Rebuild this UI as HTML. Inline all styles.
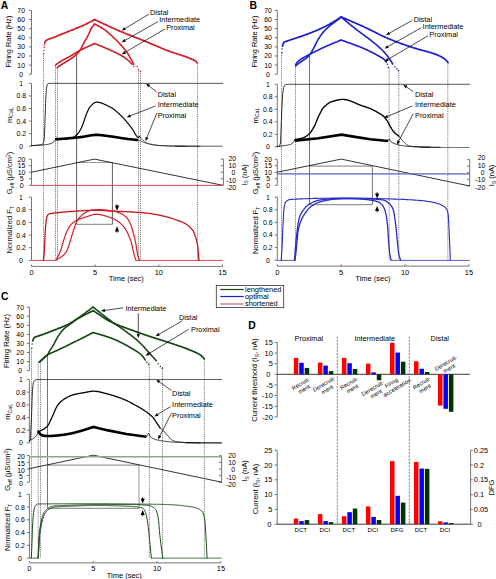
<!DOCTYPE html>
<html><head><meta charset="utf-8"><style>
html,body{margin:0;padding:0;background:#fff;width:496px;height:579px;overflow:hidden}
svg{display:block}
text{font-family:"Liberation Sans", sans-serif;stroke:#000;stroke-width:0px}
</style></head><body>
<svg width="496" height="579" viewBox="0 0 496 579">
<rect width="496" height="579" fill="#fff"/>
<text x="0.8" y="9.3" font-size="10.4" text-anchor="start" fill="#000" font-weight="bold" >A</text>
<line x1="31.5" y1="10.4" x2="31.5" y2="74.2" stroke="#666" stroke-width="0.9" />
<line x1="28.9" y1="10.4" x2="31.5" y2="10.4" stroke="#666" stroke-width="0.9" />
<text x="21.2" y="12.88" font-size="6.9" text-anchor="middle" fill="#000" font-weight="normal" >70</text>
<line x1="28.9" y1="19.51" x2="31.5" y2="19.51" stroke="#666" stroke-width="0.9" />
<text x="21.2" y="22" font-size="6.9" text-anchor="middle" fill="#000" font-weight="normal" >60</text>
<line x1="28.9" y1="28.63" x2="31.5" y2="28.63" stroke="#666" stroke-width="0.9" />
<text x="21.2" y="31.11" font-size="6.9" text-anchor="middle" fill="#000" font-weight="normal" >50</text>
<line x1="28.9" y1="37.74" x2="31.5" y2="37.74" stroke="#666" stroke-width="0.9" />
<text x="21.2" y="40.23" font-size="6.9" text-anchor="middle" fill="#000" font-weight="normal" >40</text>
<line x1="28.9" y1="46.86" x2="31.5" y2="46.86" stroke="#666" stroke-width="0.9" />
<text x="21.2" y="49.34" font-size="6.9" text-anchor="middle" fill="#000" font-weight="normal" >30</text>
<line x1="28.9" y1="55.97" x2="31.5" y2="55.97" stroke="#666" stroke-width="0.9" />
<text x="21.2" y="58.46" font-size="6.9" text-anchor="middle" fill="#000" font-weight="normal" >20</text>
<line x1="28.9" y1="65.09" x2="31.5" y2="65.09" stroke="#666" stroke-width="0.9" />
<text x="21.2" y="67.57" font-size="6.9" text-anchor="middle" fill="#000" font-weight="normal" >10</text>
<line x1="28.9" y1="74.2" x2="31.5" y2="74.2" stroke="#666" stroke-width="0.9" />
<text x="21.2" y="76.68" font-size="6.9" text-anchor="middle" fill="#000" font-weight="normal" >0</text>
<line x1="31.5" y1="83.4" x2="31.5" y2="146.2" stroke="#666" stroke-width="0.9" />
<line x1="28.9" y1="83.4" x2="31.5" y2="83.4" stroke="#666" stroke-width="0.9" />
<text x="21.2" y="85.88" font-size="6.9" text-anchor="middle" fill="#000" font-weight="normal" >1</text>
<line x1="28.9" y1="95.96" x2="31.5" y2="95.96" stroke="#666" stroke-width="0.9" />
<text x="21.2" y="98.44" font-size="6.9" text-anchor="middle" fill="#000" font-weight="normal" >0.8</text>
<line x1="28.9" y1="108.52" x2="31.5" y2="108.52" stroke="#666" stroke-width="0.9" />
<text x="21.2" y="111" font-size="6.9" text-anchor="middle" fill="#000" font-weight="normal" >0.6</text>
<line x1="28.9" y1="121.08" x2="31.5" y2="121.08" stroke="#666" stroke-width="0.9" />
<text x="21.2" y="123.56" font-size="6.9" text-anchor="middle" fill="#000" font-weight="normal" >0.4</text>
<line x1="28.9" y1="133.64" x2="31.5" y2="133.64" stroke="#666" stroke-width="0.9" />
<text x="21.2" y="136.12" font-size="6.9" text-anchor="middle" fill="#000" font-weight="normal" >0.2</text>
<line x1="28.9" y1="146.2" x2="31.5" y2="146.2" stroke="#666" stroke-width="0.9" />
<text x="21.2" y="148.68" font-size="6.9" text-anchor="middle" fill="#000" font-weight="normal" >0</text>
<line x1="31.5" y1="159.2" x2="31.5" y2="185.3" stroke="#666" stroke-width="0.9" />
<line x1="28.9" y1="159.2" x2="31.5" y2="159.2" stroke="#666" stroke-width="0.9" />
<text x="21.6" y="161.68" font-size="6.9" text-anchor="middle" fill="#000" font-weight="normal" >20</text>
<line x1="28.9" y1="165.72" x2="31.5" y2="165.72" stroke="#666" stroke-width="0.9" />
<text x="21.6" y="168.21" font-size="6.9" text-anchor="middle" fill="#000" font-weight="normal" >15</text>
<line x1="28.9" y1="172.25" x2="31.5" y2="172.25" stroke="#666" stroke-width="0.9" />
<text x="21.6" y="174.73" font-size="6.9" text-anchor="middle" fill="#000" font-weight="normal" >10</text>
<line x1="28.9" y1="178.78" x2="31.5" y2="178.78" stroke="#666" stroke-width="0.9" />
<text x="21.6" y="181.26" font-size="6.9" text-anchor="middle" fill="#000" font-weight="normal" >5</text>
<line x1="28.9" y1="185.3" x2="31.5" y2="185.3" stroke="#666" stroke-width="0.9" />
<text x="21.6" y="187.78" font-size="6.9" text-anchor="middle" fill="#000" font-weight="normal" >0</text>
<line x1="31.5" y1="197.2" x2="31.5" y2="260.4" stroke="#666" stroke-width="0.9" />
<line x1="28.9" y1="197.2" x2="31.5" y2="197.2" stroke="#666" stroke-width="0.9" />
<text x="21" y="199.68" font-size="6.9" text-anchor="middle" fill="#000" font-weight="normal" >1</text>
<line x1="28.9" y1="209.84" x2="31.5" y2="209.84" stroke="#666" stroke-width="0.9" />
<text x="21" y="212.32" font-size="6.9" text-anchor="middle" fill="#000" font-weight="normal" >0.8</text>
<line x1="28.9" y1="222.48" x2="31.5" y2="222.48" stroke="#666" stroke-width="0.9" />
<text x="21" y="224.96" font-size="6.9" text-anchor="middle" fill="#000" font-weight="normal" >0.6</text>
<line x1="28.9" y1="235.12" x2="31.5" y2="235.12" stroke="#666" stroke-width="0.9" />
<text x="21" y="237.6" font-size="6.9" text-anchor="middle" fill="#000" font-weight="normal" >0.4</text>
<line x1="28.9" y1="247.76" x2="31.5" y2="247.76" stroke="#666" stroke-width="0.9" />
<text x="21" y="250.24" font-size="6.9" text-anchor="middle" fill="#000" font-weight="normal" >0.2</text>
<line x1="28.9" y1="260.4" x2="31.5" y2="260.4" stroke="#666" stroke-width="0.9" />
<text x="21" y="262.88" font-size="6.9" text-anchor="middle" fill="#000" font-weight="normal" >0</text>
<line x1="223.4" y1="159.1" x2="223.4" y2="185.3" stroke="#666" stroke-width="0.9" />
<line x1="220.8" y1="159.1" x2="223.4" y2="159.1" stroke="#666" stroke-width="0.9" />
<text x="236.1" y="161.08" font-size="6.9" text-anchor="end" fill="#000" font-weight="normal" >20</text>
<line x1="220.8" y1="165.65" x2="223.4" y2="165.65" stroke="#666" stroke-width="0.9" />
<text x="236.1" y="168.26" font-size="6.9" text-anchor="end" fill="#000" font-weight="normal" >10</text>
<line x1="220.8" y1="172.2" x2="223.4" y2="172.2" stroke="#666" stroke-width="0.9" />
<text x="235.3" y="175.43" font-size="6.9" text-anchor="end" fill="#000" font-weight="normal" >0</text>
<line x1="220.8" y1="178.75" x2="223.4" y2="178.75" stroke="#666" stroke-width="0.9" />
<text x="236.1" y="182.61" font-size="6.9" text-anchor="end" fill="#000" font-weight="normal" >-10</text>
<line x1="220.8" y1="185.3" x2="223.4" y2="185.3" stroke="#666" stroke-width="0.9" />
<text x="236.1" y="189.78" font-size="6.9" text-anchor="end" fill="#000" font-weight="normal" >-20</text>
<line x1="31.5" y1="266.4" x2="222.5" y2="266.4" stroke="#666" stroke-width="0.9" />
<line x1="31.5" y1="264.6" x2="31.5" y2="266.4" stroke="#666" stroke-width="0.9" />
<text x="31.5" y="274.7" font-size="7.5" text-anchor="middle" fill="#000" font-weight="normal" >0</text>
<line x1="95.17" y1="264.6" x2="95.17" y2="266.4" stroke="#666" stroke-width="0.9" />
<text x="95.17" y="274.7" font-size="7.5" text-anchor="middle" fill="#000" font-weight="normal" >5</text>
<line x1="158.83" y1="264.6" x2="158.83" y2="266.4" stroke="#666" stroke-width="0.9" />
<text x="158.83" y="274.7" font-size="7.5" text-anchor="middle" fill="#000" font-weight="normal" >10</text>
<line x1="222.5" y1="264.6" x2="222.5" y2="266.4" stroke="#666" stroke-width="0.9" />
<text x="222.5" y="274.7" font-size="7.5" text-anchor="middle" fill="#000" font-weight="normal" >15</text>
<text x="126.3" y="281" font-size="7.5" text-anchor="middle" fill="#000" font-weight="normal" >Time (sec)</text>
<text x="11.3" y="41.5" font-size="7.35" text-anchor="middle" fill="#000" font-weight="normal" transform="rotate(-90 11.3 41.5)" >Firing Rate (Hz)</text>
<text x="11.8" y="115" font-size="7.45" text-anchor="middle" fill="#111" transform="rotate(-90 11.8 115)">m<tspan font-size="5.2" dy="1.7">CaL</tspan></text>
<text x="12" y="173" font-size="7.45" text-anchor="middle" fill="#111" transform="rotate(-90 12 173)">G<tspan font-size="5.2" dy="1.7">eff</tspan><tspan dy="-1.7"> (μS/cm</tspan><tspan font-size="5" dy="-2.5">2</tspan><tspan dy="2.5">)</tspan></text>
<text x="12" y="229.8" font-size="7.45" text-anchor="middle" fill="#111" transform="rotate(-90 12 229.8)">Normalized F<tspan font-size="5.2" dy="1.7">T</tspan></text>
<text x="246.8" y="175" font-size="7.45" text-anchor="middle" fill="#111" transform="rotate(-90 246.8 175)">I<tspan font-size="5.2" dy="1.7">S</tspan><tspan dy="-1.7"> (nA)</tspan></text>
<line x1="43.5" y1="53.4" x2="43.5" y2="260.4" stroke="#555" stroke-width="0.7" stroke-dasharray="1.3,0.9"/>
<line x1="55.5" y1="65.5" x2="55.5" y2="260.4" stroke="#555" stroke-width="0.7" stroke-dasharray="1.3,0.9"/>
<line x1="57.5" y1="68" x2="57.5" y2="260.4" stroke="#555" stroke-width="0.7" stroke-dasharray="1.3,0.9"/>
<line x1="138.5" y1="69" x2="138.5" y2="260.4" stroke="#555" stroke-width="0.7" stroke-dasharray="1.3,0.9"/>
<line x1="140.5" y1="71" x2="140.5" y2="260.4" stroke="#555" stroke-width="0.7" stroke-dasharray="1.3,0.9"/>
<line x1="197.5" y1="63" x2="197.5" y2="260.4" stroke="#555" stroke-width="0.7" stroke-dasharray="1.3,0.9"/>
<line x1="76.6" y1="54.5" x2="76.6" y2="224.4" stroke="#333" stroke-width="0.8" />
<line x1="112.4" y1="162.5" x2="112.4" y2="224.4" stroke="#333" stroke-width="0.8" />
<line x1="76.7" y1="162.5" x2="112.3" y2="162.5" stroke="#999" stroke-width="1.2" />
<line x1="76.7" y1="224.4" x2="112.3" y2="224.4" stroke="#999" stroke-width="1.2" />
<circle cx="43.6" cy="53.7" r="0.75" fill="#d41c24"/>
<circle cx="43.9" cy="50.5" r="0.75" fill="#d41c24"/>
<circle cx="44.1" cy="47.6" r="0.75" fill="#d41c24"/>
<circle cx="44.3" cy="44.9" r="0.75" fill="#d41c24"/>
<path d="M44.6 43 L45 42.1 L45.5 41.3 L46 40.8 L46.4 40.4 L46.8 40.1 L47.3 39.8 L47.8 39.6 L48.3 39.3 L48.7 39.1 L49.2 39 L49.7 38.8 L50.2 38.6 L50.7 38.5 L51.1 38.3 L51.6 38.2 L52.1 38 L52.6 37.8 L53.1 37.6 L53.6 37.4 L54 37.2 L54.5 37 L55 36.9 L55.5 36.7 L56 36.5 L56.5 36.3 L56.9 36.1 L57.4 35.9 L57.9 35.7 L58.4 35.5 L58.9 35.3 L59.4 35.1 L59.8 34.9 L60.3 34.7 L60.8 34.5 L61.3 34.3 L61.8 34.1 L62.3 33.9 L62.7 33.7 L63.2 33.5 L63.7 33.3 L64.2 33.1 L64.7 32.9 L65.2 32.7 L65.7 32.5 L66.1 32.3 L66.6 32.1 L67.1 32 L67.6 31.8 L68.1 31.6 L68.6 31.4 L69 31.2 L69.5 31 L70 30.8 L70.5 30.6 L71 30.4 L71.5 30.2 L71.9 30.1 L72.4 29.9 L72.9 29.7 L73.4 29.5 L73.9 29.3 L74.4 29.1 L74.8 28.9 L75.3 28.7 L75.8 28.5 L76.3 28.3 L76.8 28.1 L77.3 27.9 L77.8 27.7 L78.2 27.5 L78.7 27.3 L79.2 27.1 L79.7 26.9 L80.2 26.7 L80.7 26.5 L81.2 26.3 L81.6 26.1 L82.1 25.9 L82.6 25.6 L83.1 25.4 L83.6 25.2 L84.1 25 L84.5 24.8 L85 24.6 L85.5 24.3 L86 24.1 L86.5 23.9 L87 23.6 L87.5 23.4 L88 23.1 L88.5 22.8 L89 22.6 L89.5 22.3 L90 22 L90.5 21.8 L91 21.5 L91.5 21.2 L92 21 L92.5 20.7 L93 20.4 L93.5 20.1 L94 19.9 L94.5 19.6" fill="none" stroke="#d41c24" stroke-width="1.7" stroke-linejoin="round" stroke-linecap="round" />
<path d="M94.5 19.6 L95 19.8 L95.5 20.1 L96 20.3 L96.5 20.5 L97 20.7 L97.5 21 L98 21.2 L98.5 21.4 L98.9 21.6 L99.4 21.9 L99.9 22.1 L100.4 22.3 L100.9 22.6 L101.4 22.8 L101.9 23 L102.4 23.3 L102.9 23.5 L103.4 23.7 L103.9 23.9 L104.4 24.2 L104.9 24.4 L105.4 24.6 L105.9 24.9 L106.4 25.1 L106.9 25.3 L107.3 25.5 L107.8 25.8 L108.3 26 L108.8 26.2 L109.3 26.5 L109.8 26.7 L110.3 26.9 L110.8 27.1 L111.3 27.4 L111.8 27.6 L112.3 27.8 L112.8 28 L113.3 28.3 L113.8 28.5 L114.3 28.7 L114.8 28.9 L115.3 29.1 L115.8 29.4 L116.2 29.6 L116.7 29.8 L117.2 30 L117.7 30.2 L118.2 30.5 L118.7 30.7 L119.2 30.9 L119.7 31.1 L120.2 31.3 L120.7 31.5 L121.2 31.7 L121.7 31.9 L122.2 32.1 L122.7 32.3 L123.2 32.5 L123.7 32.8 L124.2 33 L124.7 33.2 L125.2 33.4 L125.7 33.6 L126.2 33.8 L126.6 34 L127.1 34.2 L127.6 34.4 L128.1 34.6 L128.6 34.7 L129.1 34.9 L129.6 35.1 L130.1 35.3 L130.6 35.5 L131.1 35.7 L131.6 35.9 L132.1 36.1 L132.6 36.3 L133.1 36.5 L133.6 36.7 L134.1 36.9 L134.6 37.1 L135.1 37.3 L135.6 37.5 L136.1 37.7 L136.6 37.9 L137.1 38.1 L137.6 38.2 L138.1 38.4 L138.6 38.6 L139 38.8 L139.5 39 L140 39.2 L140.5 39.4 L141 39.6 L141.5 39.8 L142 40 L142.5 40.2 L143 40.4 L143.5 40.6 L144 40.8 L144.5 41 L145 41.2 L145.5 41.4 L146 41.6 L146.5 41.8 L147 42 L147.5 42.2 L148 42.4 L148.5 42.6 L149 42.9 L149.5 43.1 L150 43.3 L150.5 43.5 L151 43.7 L151.5 43.9 L152 44.1 L152.5 44.3 L153 44.6 L153.5 44.8 L154 45 L154.5 45.2 L155 45.4 L155.5 45.6 L156 45.8 L156.5 46 L157 46.3 L157.5 46.5 L158 46.7 L158.5 46.9 L159 47.1 L159.5 47.3 L160 47.5 L160.5 47.7 L161 48 L161.5 48.2 L162 48.4 L162.5 48.6 L163 48.8 L163.5 49 L164 49.2 L164.5 49.4 L165 49.6 L165.5 49.8 L166 50 L166.5 50.2 L167 50.4 L167.5 50.6 L168 50.8 L168.5 50.9 L169 51.1 L169.5 51.3 L170 51.5 L170.5 51.7 L171 51.9 L171.5 52 L172 52.2 L172.5 52.4 L173 52.5 L173.5 52.7 L174 52.9 L174.5 53 L175 53.2 L175.5 53.4 L176 53.5 L176.5 53.7 L177 53.8 L177.5 54 L178 54.2 L178.5 54.3 L179 54.5 L179.5 54.6 L180 54.8 L180.5 55 L181 55.1 L181.5 55.3 L182 55.4 L182.5 55.6 L183 55.8 L183.5 56 L184 56.1 L184.5 56.3 L185 56.5 L185.5 56.7 L186 56.9 L186.5 57.1 L187 57.2 L187.5 57.4 L188 57.6 L188.5 57.8 L189 58 L189.5 58.2 L190 58.4 L190.5 58.7 L191 58.9 L191.5 59.1 L192 59.3 L192.5 59.5 L193 59.7 L193.5 59.9 L194 60.2 L194.5 60.4 L195 60.7 L195.5 61 L196 61.4 L196.4 61.9 L196.9 62.5 L197.4 63" fill="none" stroke="#d41c24" stroke-width="1.7" stroke-linejoin="round" stroke-linecap="round" />
<circle cx="55.6" cy="65.5" r="0.7" fill="#d41c24"/>
<path d="M56 64.6 L56.5 64.3 L56.9 63.9 L57.4 63.6 L57.8 63.3 L58.3 62.9 L58.7 62.6 L59.2 62.3 L59.6 62 L60.1 61.7 L60.6 61.4 L61.1 61.1 L61.5 60.8 L62 60.6 L62.5 60.3 L63 60 L63.5 59.8 L63.9 59.5 L64.4 59.2 L64.9 59 L65.4 58.7 L65.9 58.5 L66.4 58.3 L66.8 58 L67.3 57.8 L67.8 57.5 L68.3 57.3 L68.8 57 L69.2 56.7 L69.7 56.5 L70.2 56.2 L70.7 55.9 L71.2 55.6 L71.7 55.3 L72.2 55 L72.7 54.7 L73.2 54.4 L73.7 54.1 L74.2 53.8 L74.7 53.5 L75.2 53.2 L75.7 52.9 L76.2 52.6 L76.7 52.3 L77.2 52 L77.7 51.7 L78.2 51.4 L78.7 51.1 L79.2 50.9 L79.7 50.6 L80.2 50.3 L80.7 50.1 L81.2 49.8 L81.7 49.6 L82.2 49.3 L82.7 49.1 L83.2 48.8 L83.6 48.6 L84.1 48.4 L84.6 48.1 L85.1 47.9 L85.6 47.6 L86.1 47.4 L86.6 47.2 L87.1 47 L87.6 46.7 L88.1 46.5 L88.6 46.3 L89.1 46 L89.6 45.8 L90.1 45.6 L90.6 45.4 L91 45.1 L91.5 44.9 L92 44.7 L92.5 44.4 L93 44.2 L93.5 44 L94 43.7 L94.5 43.5" fill="none" stroke="#d41c24" stroke-width="1.6" stroke-linejoin="round" stroke-linecap="round" />
<path d="M94.5 43.5 L95 43.7 L95.5 43.9 L96 44.1 L96.5 44.3 L97 44.5 L97.5 44.7 L98 44.9 L98.5 45.1 L99 45.3 L99.5 45.5 L100 45.7 L100.5 45.9 L101 46.1 L101.5 46.3 L102 46.5 L102.5 46.8 L103 47 L103.5 47.2 L104 47.4 L104.5 47.6 L105 47.8 L105.5 48 L106 48.2 L106.5 48.4 L107 48.7 L107.5 48.9 L108 49.1 L108.5 49.3 L109 49.5 L109.5 49.8 L110 50 L110.5 50.2 L111 50.4 L111.5 50.7 L112 50.9 L112.5 51.1 L113 51.4 L113.5 51.6 L114 51.8 L114.5 52.1 L115 52.3 L115.5 52.6 L116 52.8 L116.5 53 L117 53.3 L117.5 53.5 L118 53.8 L118.5 54 L119 54.3 L119.5 54.5 L119.9 54.8 L120.4 55 L120.9 55.3 L121.4 55.6 L121.9 55.8 L122.3 56.1 L122.8 56.4 L123.3 56.7 L123.8 57 L124.3 57.3 L124.8 57.7 L125.3 58 L125.8 58.4 L126.2 58.8 L126.7 59.1 L127.2 59.5 L127.7 60 L128.2 60.4 L128.7 60.8 L129.2 61.2 L129.7 61.7 L130.2 62.2 L130.6 62.7 L131.1 63.2 L131.6 63.7 L132.1 64.2" fill="none" stroke="#d41c24" stroke-width="1.6" stroke-linejoin="round" stroke-linecap="round" />
<circle cx="133.8" cy="66.4" r="0.75" fill="#d41c24"/>
<circle cx="57.1" cy="68" r="0.7" fill="#d41c24"/>
<path d="M57.5 67.2 L58 66.9 L58.4 66.6 L58.9 66.3 L59.3 66 L59.8 65.7 L60.3 65.4 L60.7 65.1 L61.2 64.8 L61.6 64.5 L62.1 64.2 L62.6 63.9 L63.1 63.6 L63.5 63.3 L64 63 L64.5 62.7 L65 62.5 L65.4 62.2 L65.9 61.9 L66.4 61.6 L66.9 61.3 L67.3 61 L67.8 60.7 L68.3 60.4 L68.8 60.1 L69.2 59.8 L69.7 59.5 L70.2 59.2 L70.7 58.9 L71.2 58.5 L71.7 58.2 L72.2 57.8 L72.7 57.5 L73.2 57.1 L73.7 56.7 L74.2 56.4 L74.7 56 L75.2 55.5 L75.7 55.1 L76.2 54.7 L76.7 54.2 L77.2 53.7 L77.7 53.2 L78.2 52.6 L78.7 52 L79.2 51.3 L79.7 50.6 L80.2 49.9 L80.6 49.1 L81.1 48.3 L81.5 47.5 L82 46.6 L82.5 45.7 L82.9 44.7 L83.4 43.8 L83.8 43 L84.3 42.1 L84.8 41.2 L85.3 40.3 L85.8 39.5 L86.3 38.6 L86.8 37.8 L87.3 36.9 L87.8 36 L88.3 35 L88.8 34 L89.3 32.8 L89.8 31.6 L90.2 30.5 L90.7 29.4 L91.2 28.5 L91.7 27.8 L92.1 27.1 L92.6 26.5 L93.1 25.9 L93.6 25.3 L94 24.7 L94.5 24.1" fill="none" stroke="#d41c24" stroke-width="1.6" stroke-linejoin="round" stroke-linecap="round" />
<path d="M94.5 24.1 L95 24.3 L95.5 24.6 L96 24.8 L96.5 25.1 L97 25.3 L97.5 25.5 L98 25.8 L98.5 26 L99 26.3 L99.5 26.5 L100 26.8 L100.5 27.1 L101 27.4 L101.5 27.7 L102 28 L102.5 28.3 L103 28.6 L103.5 29 L104 29.3 L104.5 29.6 L105 30 L105.5 30.4 L106 30.8 L106.5 31.2 L107 31.6 L107.5 32 L108 32.4 L108.5 32.9 L109 33.3 L109.5 33.8 L110 34.2 L110.5 34.6 L111 35.1 L111.5 35.5 L112 36 L112.5 36.5 L113 36.9 L113.5 37.4 L113.9 37.9 L114.4 38.3 L114.9 38.8 L115.4 39.3 L115.9 39.8 L116.4 40.3 L116.9 40.8 L117.4 41.3 L117.9 41.8 L118.4 42.3 L118.9 42.8 L119.4 43.3 L119.9 43.9 L120.3 44.4 L120.8 44.9 L121.3 45.4 L121.8 46 L122.3 46.6 L122.8 47.1 L123.3 47.7 L123.8 48.3 L124.3 48.9 L124.7 49.5 L125.2 50.1 L125.7 50.7 L126.1 51.3 L126.6 52 L127.1 52.6 L127.5 53.3 L128 54 L128.5 54.8 L129 55.5 L129.5 56.4 L129.9 57.2 L130.4 58.1 L130.9 58.9 L131.4 59.8 L131.9 60.7 L132.4 61.6 L132.8 62.5 L133.3 63.4 L133.8 64.3" fill="none" stroke="#d41c24" stroke-width="1.6" stroke-linejoin="round" stroke-linecap="round" />
<circle cx="137.2" cy="66.6" r="0.75" fill="#d41c24"/>
<circle cx="138.5" cy="69.6" r="0.75" fill="#d41c24"/>
<circle cx="140.4" cy="71.2" r="0.75" fill="#d41c24"/>
<text x="150" y="14.6" font-size="7.35" text-anchor="start" fill="#000" font-weight="normal" >Distal</text>
<text x="159.3" y="22.1" font-size="7.35" text-anchor="start" fill="#000" font-weight="normal" >Intermediate</text>
<text x="166.2" y="29.9" font-size="7.35" text-anchor="start" fill="#000" font-weight="normal" >Proximal</text>
<line x1="148.8" y1="14.2" x2="125.12" y2="28.53" stroke="#000" stroke-width="0.7" />
<path d="M121.7 30.6 L124.29 27.16 L125.95 29.9 Z" fill="#000"/>
<line x1="158" y1="21.6" x2="125.18" y2="40.23" stroke="#000" stroke-width="0.7" />
<path d="M121.7 42.2 L124.39 38.83 L125.97 41.62 Z" fill="#000"/>
<line x1="165" y1="29" x2="125.15" y2="52.28" stroke="#000" stroke-width="0.7" />
<path d="M121.7 54.3 L124.35 50.9 L125.96 53.66 Z" fill="#000"/>
<path d="M31.5 145.6 L32 145.6 L32.5 145.5 L33 145.5 L33.5 145.5 L34 145.4 L34.5 145.4 L35 145.4 L35.5 145.3 L36 145.3 L36.5 145.2 L37 145.2 L37.5 145.2 L38 145.1 L38.5 145 L39 145 L39.5 144.9 L40 144.9 L40.5 144.8 L41 144.7 L41.5 144.5 L42 144.4 L42.5 144.2 L42.9 143.9 L43.2 143.3 L43.6 142.5 L44 140.2 L44.4 136 L44.8 126.9 L45.2 115 L45.6 103.3 L46 94 L46.4 89.3 L46.8 86.5 L47.3 84.7 L47.8 83.8 L48.2 83.6 L48.6 83.5 L49.1 83.4 L49.5 83.4 L50 83.4 L50.5 83.4 L51 83.4 L51.5 83.4 L52 83.4 L52.5 83.4 L53 83.4 L53.5 83.4 L54 83.4 L54.5 83.4 L55 83.4 L55.5 83.4 L56 83.4 L56.5 83.4 L57 83.4 L57.5 83.4 L58 83.4 L58.5 83.4 L59 83.4 L59.5 83.4 L60 83.4 L60.5 83.4 L61 83.4 L61.5 83.4 L62 83.4 L62.5 83.4 L63 83.4 L63.5 83.4 L64 83.4 L64.5 83.4 L65 83.4 L65.5 83.4 L66 83.4 L66.5 83.4 L67 83.4 L67.5 83.4 L68 83.4 L68.5 83.4 L69 83.4 L69.5 83.4 L70 83.4 L70.5 83.4 L71 83.4 L71.5 83.4 L72 83.4 L72.5 83.4 L73 83.4 L73.5 83.4 L74 83.4 L74.5 83.4 L75 83.4 L75.5 83.4 L76 83.4 L76.5 83.4 L77 83.4 L77.5 83.4 L78 83.4 L78.4 83.4 L78.9 83.4 L79.4 83.4 L79.9 83.4 L80.4 83.4 L80.9 83.4 L81.4 83.4 L81.9 83.4 L82.4 83.4 L82.9 83.4 L83.4 83.4 L83.9 83.4 L84.4 83.4 L84.9 83.4 L85.4 83.4 L85.9 83.4 L86.4 83.4 L86.9 83.4 L87.4 83.4 L87.9 83.4 L88.4 83.4 L88.9 83.4 L89.4 83.4 L89.9 83.4 L90.4 83.4 L90.9 83.4 L91.4 83.4 L91.9 83.4 L92.4 83.4 L92.9 83.4 L93.4 83.4 L93.9 83.4 L94.4 83.4 L94.9 83.4 L95.4 83.4 L95.9 83.4 L96.4 83.4 L96.9 83.4 L97.4 83.4 L97.9 83.4 L98.4 83.4 L98.9 83.4 L99.4 83.4 L99.9 83.4 L100.4 83.4 L100.9 83.4 L101.4 83.4 L101.9 83.4 L102.4 83.4 L102.9 83.4 L103.4 83.4 L103.9 83.4 L104.4 83.4 L104.9 83.4 L105.4 83.4 L105.9 83.4 L106.4 83.4 L106.9 83.4 L107.4 83.4 L107.9 83.4 L108.4 83.4 L108.9 83.4 L109.4 83.4 L109.9 83.4 L110.4 83.4 L110.9 83.4 L111.4 83.4 L111.9 83.4 L112.4 83.4 L112.9 83.4 L113.4 83.4 L113.9 83.4 L114.4 83.4 L114.9 83.4 L115.4 83.4 L115.9 83.4 L116.4 83.4 L116.9 83.4 L117.4 83.4 L117.9 83.4 L118.4 83.4 L118.9 83.4 L119.4 83.4 L119.9 83.4 L120.4 83.4 L120.9 83.4 L121.4 83.4 L121.9 83.4 L122.4 83.4 L122.9 83.4 L123.4 83.4 L123.9 83.4 L124.4 83.4 L124.9 83.4 L125.4 83.4 L125.9 83.4 L126.4 83.4 L126.9 83.4 L127.4 83.4 L127.9 83.4 L128.4 83.4 L128.9 83.4 L129.4 83.4 L129.9 83.4 L130.4 83.4 L130.9 83.4 L131.4 83.4 L131.9 83.4 L132.4 83.4 L132.9 83.4 L133.4 83.4 L133.9 83.4 L134.4 83.4 L134.9 83.4 L135.4 83.4 L135.9 83.4 L136.3 83.4 L136.8 83.4 L137.3 83.4 L137.8 83.4 L138.3 83.4 L138.8 83.4 L139.3 83.4 L139.8 83.4 L140.3 83.4 L140.8 83.4 L141.3 83.4 L141.8 83.4 L142.3 83.4 L142.8 83.4 L143.3 83.4 L143.8 83.4 L144.3 83.4 L144.8 83.4 L145.3 83.4 L145.8 83.4 L146.3 83.4 L146.8 83.4 L147.3 83.4 L147.8 83.4 L148.3 83.4 L148.8 83.4 L149.3 83.4 L149.8 83.4 L150.3 83.4 L150.8 83.4 L151.3 83.4 L151.8 83.4 L152.3 83.4 L152.8 83.4 L153.3 83.4 L153.8 83.4 L154.3 83.4 L154.8 83.4 L155.3 83.4 L155.8 83.4 L156.3 83.4 L156.8 83.4 L157.3 83.4 L157.8 83.4 L158.3 83.4 L158.8 83.4 L159.3 83.4 L159.8 83.4 L160.3 83.4 L160.8 83.4 L161.3 83.4 L161.8 83.4 L162.3 83.4 L162.8 83.4 L163.3 83.4 L163.8 83.4 L164.3 83.4 L164.8 83.4 L165.3 83.4 L165.8 83.4 L166.3 83.4 L166.8 83.4 L167.3 83.4 L167.8 83.4 L168.3 83.4 L168.8 83.4 L169.3 83.4 L169.8 83.4 L170.3 83.4 L170.8 83.4 L171.3 83.4 L171.8 83.4 L172.3 83.4 L172.8 83.4 L173.3 83.4 L173.8 83.4 L174.3 83.4 L174.8 83.4 L175.3 83.4 L175.8 83.4 L176.3 83.4 L176.8 83.4 L177.3 83.4 L177.8 83.4 L178.3 83.4 L178.8 83.4 L179.3 83.4 L179.8 83.4 L180.3 83.4 L180.8 83.4 L181.3 83.4 L181.8 83.4 L182.3 83.4 L182.8 83.4 L183.3 83.4 L183.8 83.4 L184.3 83.4 L184.8 83.4 L185.3 83.4 L185.8 83.4 L186.3 83.4 L186.8 83.4 L187.3 83.4 L187.8 83.4 L188.3 83.4 L188.8 83.4 L189.3 83.4 L189.8 83.4 L190.3 83.4 L190.8 83.4 L191.3 83.4 L191.8 83.4 L192.3 83.4 L192.8 83.4 L193.3 83.4 L193.8 83.4 L194.2 83.4 L194.7 83.4 L195.2 83.4 L195.7 83.4 L196.2 83.4 L196.7 83.4 L197.2 83.4 L197.7 83.4 L198.2 83.4 L198.7 83.4 L199.2 83.4 L199.7 83.4 L200.2 83.4 L200.7 83.4 L201.2 83.4 L201.7 83.4 L202.2 83.4 L202.7 83.4 L203.2 83.4 L203.7 83.4 L204.2 83.4 L204.7 83.4 L205.2 83.4 L205.7 83.4 L206.2 83.4 L206.7 83.4 L207.2 83.4 L207.7 83.4 L208.2 83.4 L208.7 83.4 L209.2 83.4 L209.7 83.4 L210.2 83.4 L210.7 83.4 L211.2 83.4 L211.7 83.4 L212.2 83.4 L212.7 83.4 L213.2 83.4 L213.7 83.4 L214.2 83.4 L214.7 83.4 L215.2 83.4 L215.7 83.4 L216.2 83.4 L216.7 83.4 L217.2 83.4 L217.7 83.4 L218.2 83.4 L218.7 83.4 L219.2 83.4 L219.7 83.4 L220.2 83.4 L220.7 83.4 L221.2 83.4 L221.7 83.4 L222.2 83.4 L222.7 83.4" fill="none" stroke="#000" stroke-width="0.8" stroke-linejoin="round" stroke-linecap="round" />
<line x1="175" y1="146.2" x2="222.7" y2="146.2" stroke="#333" stroke-width="0.8" />
<path d="M31.5 145.7 L32 145.7 L32.5 145.6 L33 145.6 L33.5 145.6 L34 145.6 L34.5 145.5 L35 145.5 L35.5 145.5 L36 145.5 L36.5 145.4 L37 145.4 L37.5 145.4 L38 145.3 L38.5 145.3 L39 145.3 L39.5 145.2 L40 145.2 L40.5 145.2 L41 145.1 L41.5 145.1 L42 145 L42.5 145 L43 144.9 L43.5 144.9 L44 144.8 L44.5 144.8 L45 144.7 L45.5 144.7 L46 144.6 L46.5 144.5 L47 144.5 L47.5 144.4 L48 144.3 L48.5 144.2 L49 144.1 L49.5 143.9 L50 143.8 L50.5 143.7 L51 143.5 L51.5 143.3 L52 143.1 L52.5 142.8 L53 142.5 L53.5 142.2 L54 141.8 L54.4 141.3 L54.8 140.7 L55.3 140 L55.8 138.6 L56.2 137.6 L56.7 138.3 L57.2 139.4" fill="none" stroke="#000" stroke-width="0.8" stroke-linejoin="round" stroke-linecap="round" />
<path d="M56.2 139.4 L56.7 139.4 L57.2 139.3 L57.7 139.3 L58.2 139.3 L58.6 139.3 L59.1 139.2 L59.6 139.2 L60.1 139.2 L60.6 139.2 L61.1 139.1 L61.6 139.1 L62.1 139.1 L62.6 139.1 L63 139 L63.5 139 L64 139 L64.5 138.9 L65 138.9 L65.5 138.9 L66 138.8 L66.4 138.8 L66.9 138.8 L67.4 138.7 L67.9 138.7 L68.4 138.6 L68.9 138.6 L69.3 138.5 L69.8 138.5 L70.3 138.4 L70.8 138.3 L71.2 138.2 L71.7 138 L72.2 137.9 L72.6 137.7 L73.1 137.5 L73.5 137.2 L74 137 L74.5 136.7 L75 136.3 L75.5 135.9 L76 135.5 L76.5 135 L77 134.5 L77.5 134 L78 133.4 L78.5 132.8 L78.9 132.1 L79.4 131.4 L79.9 130.6 L80.4 129.8 L80.8 129 L81.3 128 L81.7 127 L82.2 125.9 L82.6 124.8 L83.1 123.7 L83.5 122.5 L84 121.1 L84.5 119.6 L85 118 L85.5 116.5 L86 115.1 L86.5 113.8 L87 112.7 L87.5 111.5 L88 110.4 L88.5 109.4 L89 108.5 L89.5 107.6 L90 106.9 L90.5 106.3 L91 105.8 L91.5 105.3 L92 104.8 L92.5 104.3 L93 103.9 L93.5 103.5 L94 103.1 L94.5 102.8 L95 102.5 L95.5 102.4 L96 102.2 L96.5 102.2 L97 102.2 L97.5 102.2 L98 102.3 L98.4 102.3 L98.9 102.4 L99.4 102.5 L99.9 102.6 L100.4 102.8 L100.9 102.9 L101.4 103 L101.8 103.2 L102.3 103.4 L102.8 103.6 L103.3 103.8 L103.8 104 L104.3 104.2 L104.8 104.4 L105.3 104.6 L105.7 104.8 L106.2 105.1 L106.7 105.3 L107.2 105.6 L107.7 105.8 L108.2 106.1 L108.7 106.3 L109.1 106.6 L109.6 106.8 L110.1 107.1 L110.6 107.3 L111.1 107.6 L111.6 107.8 L112 108.1 L112.5 108.4 L113 108.7 L113.5 109.1 L114 109.4 L114.4 109.8 L114.9 110.2 L115.4 110.6 L115.9 111 L116.4 111.4 L116.9 111.8 L117.3 112.2 L117.8 112.6 L118.3 113.1 L118.8 113.5 L119.3 114 L119.7 114.4 L120.2 114.9 L120.7 115.3 L121.2 115.8 L121.7 116.2 L122.1 116.7 L122.6 117.2 L123.1 117.7 L123.6 118.2 L124 118.7 L124.5 119.3 L125 119.8 L125.5 120.4 L125.9 120.9 L126.4 121.5 L126.9 122.1 L127.4 122.6 L127.8 123.2 L128.3 123.8 L128.8 124.4 L129.3 125 L129.8 125.7 L130.3 126.3 L130.8 126.9 L131.3 127.6 L131.8 128.3 L132.3 129 L132.8 129.7 L133.3 130.5 L133.8 131.2 L134.2 132.1 L134.7 132.9 L135.1 133.8 L135.6 134.5 L136 135.2 L136.4 135.8 L136.9 136.5 L137.3 137 L137.8 137.4 L138.2 137.6 L138.7 137.4 L139.1 136.8 L139.6 136.3" fill="none" stroke="#000" stroke-width="1.2" stroke-linejoin="round" stroke-linecap="round" />
<path d="M139.6 136.3 L140.1 137 L140.6 137.7 L141 138.4 L141.5 139 L142 139.5 L142.5 140 L143 140.5 L143.5 140.9 L144 141.3 L144.5 141.7 L145 142 L145.5 142.3 L146 142.5 L146.5 142.8 L147 143 L147.5 143.2 L148 143.4 L148.5 143.6 L149 143.7 L149.5 143.9 L150 144 L150.5 144.1 L151 144.2 L151.5 144.3 L152 144.5 L152.5 144.6 L153 144.7 L153.5 144.8 L154 144.9 L154.5 145 L155 145 L155.5 145.1 L156 145.2 L156.5 145.3 L157 145.3 L157.5 145.4 L158 145.5 L158.5 145.5 L159 145.5 L159.5 145.6 L160 145.6 L160.5 145.6 L161 145.6 L161.5 145.7 L162 145.7 L162.5 145.7 L163 145.7 L163.5 145.7 L164 145.8 L164.5 145.8 L165 145.8 L165.5 145.8 L166 145.8 L166.5 145.9 L167 145.9 L167.5 145.9 L168 145.9 L168.5 145.9 L169 145.9 L169.5 145.9 L170 145.9 L170.5 146 L171 146 L171.5 146 L172 146 L172.5 146 L173 146 L173.5 146 L174 146 L174.5 146 L175 146 L175.5 146 L176 146.1 L176.5 146.1 L177 146.1 L177.5 146.1 L178 146.1 L178.5 146.1 L179 146.1 L179.5 146.1 L180 146.1 L180.5 146.1 L181 146.1 L181.5 146.1 L182 146.1 L182.5 146.1 L183 146.1 L183.5 146.1 L184 146.1 L184.5 146.1 L185 146.1 L185.5 146.1 L186 146.1 L186.5 146.1 L187 146.1 L187.5 146.1 L188 146.1 L188.5 146.2 L189 146.2 L189.5 146.2 L190 146.2 L190.5 146.2 L191 146.2 L191.5 146.2 L192 146.2 L192.5 146.2 L193 146.2 L193.5 146.2 L194 146.2 L194.5 146.2 L195 146.2 L195.5 146.2 L196 146.2 L196.5 146.2 L197 146.2 L197.5 146.2 L198 146.2 L198.5 146.2 L199 146.2 L199.5 146.2 L200 146.2" fill="none" stroke="#000" stroke-width="0.7" stroke-linejoin="round" stroke-linecap="round" />
<path d="M56.2 139.3 L56.7 139.3 L57.2 139.2 L57.7 139.2 L58.2 139.1 L58.6 139.1 L59.1 139.1 L59.6 139 L60.1 139 L60.6 139 L61.1 138.9 L61.6 138.9 L62.1 138.8 L62.6 138.8 L63 138.8 L63.5 138.7 L64 138.7 L64.5 138.6 L65 138.6 L65.5 138.6 L66 138.5 L66.5 138.5 L67 138.4 L67.5 138.4 L68 138.3 L68.5 138.3 L69 138.3 L69.5 138.2 L70 138.2 L70.5 138.1 L71 138.1 L71.5 138 L72 138 L72.5 137.9 L73 137.9 L73.5 137.9 L74 137.8 L74.5 137.8 L75 137.7 L75.5 137.7 L76 137.6 L76.5 137.6 L77 137.5 L77.5 137.5 L78 137.4 L78.5 137.4 L79 137.3 L79.5 137.3 L80 137.2 L80.5 137.1 L81 137.1 L81.5 137 L82 136.9 L82.5 136.9 L83 136.8 L83.5 136.7 L84 136.6 L84.5 136.5 L85 136.4 L85.5 136.3 L86 136.2 L86.5 136.1 L87 136.1 L87.5 136 L88 135.9 L88.5 135.8 L89 135.7 L89.5 135.6 L90 135.5 L90.5 135.4 L91 135.4 L91.5 135.3 L92 135.2 L92.5 135.2 L93 135.1 L93.5 135.1 L94 135 L94.5 135 L95 134.9 L95.5 134.9 L96 134.9 L96.5 134.9 L97 134.9 L97.5 134.9 L98 134.9 L98.5 135 L99 135 L99.5 135 L100 135.1 L100.5 135.1 L101 135.1 L101.5 135.2 L102 135.2 L102.5 135.3 L103 135.4 L103.5 135.4 L104 135.5 L104.5 135.6 L105 135.6 L105.5 135.7 L106 135.8 L106.5 135.8 L107 135.9 L107.5 136 L108 136 L108.5 136.1 L109 136.2 L109.5 136.2 L110 136.3 L110.5 136.4 L111 136.4 L111.5 136.5 L112 136.6 L112.5 136.6 L113 136.7 L113.5 136.8 L114 136.9 L114.5 136.9 L115 137 L115.5 137.1 L116 137.2 L116.5 137.3 L117 137.4 L117.5 137.4 L118 137.5 L118.5 137.6 L119 137.7 L119.5 137.8 L120 137.8 L120.5 137.9 L121 138 L121.5 138.1 L122 138.2 L122.5 138.2 L123 138.3 L123.5 138.4 L124 138.5 L124.5 138.5 L125 138.6 L125.5 138.7 L126 138.7 L126.5 138.8 L127 138.9 L127.5 138.9 L128 139 L128.5 139 L129 139.1 L129.5 139.2 L130 139.2 L130.5 139.3 L131 139.3 L131.5 139.4 L132 139.4 L132.5 139.5 L133 139.5 L133.5 139.6 L134 139.7 L134.5 139.7 L135 139.8 L135.5 139.8 L136 139.9 L136.5 139.9 L137 140" fill="none" stroke="#000" stroke-width="2.6" stroke-linejoin="round" stroke-linecap="round" />
<path d="M137 140 L137.5 140.1 L138 140.3 L138.5 140.4 L139 140.5 L139.5 140.6 L140 140.8 L140.5 141 L141 141.2 L141.5 141.4 L142 141.6 L142.5 141.8 L143 142 L143.5 142.2 L144 142.4 L144.5 142.6 L145 142.8 L145.5 143 L146 143.1 L146.5 143.3 L147 143.4 L147.5 143.6 L148 143.7 L148.5 143.9 L149 144 L149.5 144.1 L150 144.2 L150.5 144.3 L151 144.4 L151.5 144.5 L152 144.6 L152.5 144.7 L153 144.7 L153.5 144.8 L154 144.9 L154.5 144.9 L155 145 L155.5 145.1 L156 145.1 L156.5 145.2 L157 145.2 L157.5 145.3 L158 145.3 L158.5 145.4 L159 145.4 L159.5 145.5 L160 145.5 L160.5 145.5 L161 145.6 L161.5 145.6 L162 145.7 L162.5 145.7 L163 145.7 L163.5 145.7 L164 145.8 L164.5 145.8 L165 145.8 L165.5 145.8 L166 145.8 L166.5 145.8 L167 145.9 L167.5 145.9 L168 145.9 L168.5 145.9 L169 145.9 L169.5 145.9 L170 145.9 L170.5 146 L171 146 L171.5 146 L172 146 L172.5 146 L173 146 L173.5 146 L174 146 L174.5 146 L175 146 L175.5 146 L176 146.1 L176.5 146.1 L177 146.1 L177.5 146.1 L178 146.1 L178.5 146.1 L179 146.1 L179.5 146.1 L180 146.1 L180.5 146.1 L181 146.1 L181.5 146.1 L182 146.1 L182.5 146.2 L183 146.2 L183.5 146.2 L184 146.2 L184.5 146.2 L185 146.2" fill="none" stroke="#000" stroke-width="0.6" stroke-linejoin="round" stroke-linecap="round" />
<text x="157.7" y="97.1" font-size="7.35" text-anchor="start" fill="#000" font-weight="normal" >Distal</text>
<text x="157.7" y="107.1" font-size="7.35" text-anchor="start" fill="#000" font-weight="normal" >Intermediate</text>
<text x="157.7" y="118.2" font-size="7.35" text-anchor="start" fill="#000" font-weight="normal" >Proximal</text>
<line x1="156.4" y1="91.8" x2="149.14" y2="86.08" stroke="#000" stroke-width="0.7" />
<path d="M146 83.6 L150.13 84.82 L148.15 87.33 Z" fill="#000"/>
<line x1="155.5" y1="106" x2="130.43" y2="115.75" stroke="#000" stroke-width="0.7" />
<path d="M126.7 117.2 L129.85 114.26 L131.01 117.24 Z" fill="#000"/>
<line x1="157" y1="112.8" x2="147.01" y2="137.3" stroke="#000" stroke-width="0.7" />
<path d="M145.5 141 L145.53 136.69 L148.49 137.9 Z" fill="#000"/>
<path d="M31.5 172.2 L94.5 159.1 L222.7 185.3" fill="none" stroke="#000" stroke-width="0.8" stroke-linejoin="miter" />
<line x1="31.5" y1="185.4" x2="222.7" y2="185.4" stroke="#d04a50" stroke-width="1" />
<line x1="31.5" y1="260.4" x2="56.6" y2="260.4" stroke="#d04a50" stroke-width="1" />
<line x1="136" y1="260.4" x2="222.7" y2="260.4" stroke="#d04a50" stroke-width="1" />
<path d="M43.4 260.4 L43.7 258.4 L44 256 L44.3 251.2 L44.6 245 L45 237.1 L45.3 230 L45.8 224 L46.2 220 L46.6 218.1 L46.9 216.7 L47.3 215.8 L47.7 215.1 L48.1 214.6 L48.6 214.2 L49 214 L49.5 213.8 L50 213.7 L50.5 213.6 L51 213.5 L51.5 213.4 L52 213.3 L52.5 213.3 L53 213.2 L53.5 213.2 L54 213.1 L54.5 213.1 L55 213 L55.5 212.9 L56 212.9 L56.5 212.8 L57 212.8 L57.5 212.7 L58 212.6 L58.5 212.6 L59 212.5 L59.5 212.5 L60 212.4 L60.5 212.4 L61 212.3 L61.5 212.3 L62 212.2 L62.5 212.2 L63 212.1 L63.5 212.1 L64 212 L64.5 212 L65 212 L65.5 211.9 L66 211.9 L66.5 211.8 L67 211.8 L67.5 211.7 L68 211.7 L68.5 211.7 L69 211.6 L69.5 211.6 L70 211.5 L70.5 211.5 L71 211.5 L71.5 211.4 L72 211.4 L72.5 211.4 L73 211.3 L73.5 211.3 L74 211.3 L74.5 211.2 L75 211.2 L75.5 211.2 L76 211.1 L76.5 211.1 L77 211.1 L77.5 211 L78 211 L78.5 211 L79 210.9 L79.5 210.9 L80 210.9 L80.5 210.8 L81 210.8 L81.5 210.8 L82 210.7 L82.5 210.7 L83 210.7 L83.5 210.6 L84 210.6 L84.5 210.6 L85 210.5 L85.5 210.5 L86 210.5 L86.5 210.5 L87 210.4 L87.5 210.4 L88 210.4 L88.5 210.4 L89 210.3 L89.5 210.3 L90 210.3 L90.5 210.3 L91 210.3 L91.5 210.2 L92 210.2 L92.5 210.2 L93 210.2 L93.5 210.2 L94 210.2 L94.5 210.2 L95 210.2 L95.5 210.2 L96 210.2 L96.5 210.2 L97 210.2 L97.5 210.2 L98 210.3 L98.5 210.3 L99 210.3 L99.5 210.3 L100 210.4 L100.5 210.4 L101 210.4 L101.5 210.4 L102 210.5 L102.5 210.5 L103 210.5 L103.5 210.6 L104 210.6 L104.5 210.6 L105 210.7 L105.5 210.7 L106 210.8 L106.5 210.8 L107 210.8 L107.5 210.9 L108 210.9 L108.5 210.9 L109 210.9 L109.5 211 L110 211 L110.5 211 L111 211 L111.5 211.1 L112 211.1 L112.4 211.1 L112.9 211.1 L113.4 211.2 L113.9 211.2 L114.4 211.2 L114.9 211.2 L115.4 211.2 L115.9 211.3 L116.4 211.3 L116.8 211.3 L117.3 211.3 L117.8 211.3 L118.3 211.4 L118.8 211.4 L119.3 211.4 L119.8 211.4 L120.3 211.4 L120.8 211.5 L121.3 211.5 L121.7 211.5 L122.2 211.5 L122.7 211.5 L123.2 211.6 L123.7 211.6 L124.2 211.6 L124.7 211.6 L125.2 211.7 L125.7 211.7 L126.1 211.7 L126.6 211.7 L127.1 211.7 L127.6 211.8 L128.1 211.8 L128.6 211.8 L129.1 211.9 L129.6 211.9 L130.1 211.9 L130.6 211.9 L131.1 212 L131.5 212 L132 212 L132.5 212 L133 212.1 L133.5 212.1 L134 212.1 L134.5 212.2 L135 212.2 L135.5 212.2 L136 212.3 L136.5 212.3 L137 212.3 L137.4 212.4 L137.9 212.4 L138.4 212.4 L138.9 212.5 L139.4 212.5 L139.9 212.5 L140.4 212.6 L140.9 212.6 L141.4 212.7 L141.9 212.7 L142.4 212.7 L142.9 212.8 L143.3 212.8 L143.8 212.9 L144.3 212.9 L144.8 213 L145.3 213 L145.8 213.1 L146.3 213.1 L146.8 213.2 L147.3 213.2 L147.8 213.3 L148.3 213.3 L148.7 213.4 L149.2 213.4 L149.7 213.5 L150.2 213.6 L150.7 213.6 L151.2 213.7 L151.7 213.8 L152.2 213.9 L152.7 213.9 L153.1 214 L153.6 214.1 L154.1 214.2 L154.6 214.3 L155.1 214.4 L155.6 214.5 L156.1 214.5 L156.6 214.6 L157.1 214.7 L157.6 214.8 L158 214.9 L158.5 215 L159 215.1 L159.5 215.2 L160 215.3 L160.5 215.4 L161 215.5 L161.5 215.6 L162 215.8 L162.4 215.9 L162.9 216 L163.4 216.1 L163.9 216.2 L164.4 216.3 L164.9 216.4 L165.4 216.5 L165.9 216.7 L166.3 216.8 L166.8 216.9 L167.3 217 L167.8 217.2 L168.3 217.3 L168.8 217.4 L169.3 217.6 L169.8 217.7 L170.2 217.9 L170.7 218 L171.2 218.2 L171.7 218.3 L172.2 218.5 L172.7 218.7 L173.2 218.8 L173.6 219 L174.1 219.2 L174.6 219.3 L175.1 219.5 L175.6 219.7 L176.1 219.8 L176.6 220 L177.1 220.2 L177.5 220.4 L178 220.5 L178.5 220.7 L179 220.9 L179.5 221.1 L180 221.3 L180.5 221.4 L181 221.6 L181.5 221.8 L182 222 L182.4 222.2 L182.9 222.4 L183.4 222.6 L183.9 222.8 L184.4 223.1 L184.9 223.3 L185.4 223.6 L185.9 223.9 L186.3 224.2 L186.8 224.5 L187.3 224.9 L187.7 225.2 L188.2 225.6 L188.6 226 L189.1 226.4 L189.6 226.9 L190 227.3 L190.5 227.8 L191 228.3 L191.5 228.8 L192 229.4 L192.5 230 L193 230.7 L193.5 231.5 L193.9 232.4 L194.3 233.5 L194.8 234.7 L195.2 236 L195.7 237.5 L196.2 239.2 L196.7 241.2 L197.1 243.1 L197.6 245.5 L198 248.5 L198.4 254 L198.8 259 L199.2 260.4" fill="none" stroke="#c8161e" stroke-width="1.3" stroke-linejoin="round" stroke-linecap="round" />
<path d="M56.4 259.6 L56.9 259.3 L57.4 259 L57.9 258.8 L58.4 258.5 L58.9 258.2 L59.4 258 L59.8 257.7 L60.3 257.4 L60.8 257.1 L61.3 256.8 L61.8 256.5 L62.3 256.1 L62.8 255.7 L63.3 255.3 L63.8 254.8 L64.2 254.3 L64.7 253.8 L65.2 253.2 L65.7 252.6 L66.1 251.9 L66.6 251.1 L67.1 250.3 L67.6 249.3 L68 248.1 L68.5 246.8 L68.9 245.3 L69.4 243.7 L69.8 242.2 L70.3 240.7 L70.8 239.2 L71.2 237.6 L71.7 236.1 L72.2 234.5 L72.7 232.9 L73.1 231.4 L73.6 230 L74.1 228.6 L74.5 227.2 L75 225.9 L75.4 224.6 L75.9 223.4 L76.3 222.3 L76.8 221.4 L77.3 220.6 L77.8 219.8 L78.2 219.1 L78.7 218.5 L79.2 217.9 L79.7 217.3 L80.2 216.8 L80.7 216.3 L81.1 215.8 L81.6 215.4 L82.1 215 L82.6 214.6 L83.1 214.3 L83.5 213.9 L84 213.6 L84.5 213.3 L85 212.9 L85.4 212.6 L85.9 212.3 L86.4 212.1 L86.9 211.8 L87.4 211.6 L87.8 211.3 L88.3 211.1 L88.8 210.9 L89.3 210.8 L89.7 210.6 L90.2 210.5 L90.7 210.4 L91.2 210.3 L91.7 210.2 L92.2 210.1 L92.7 210.1 L93.2 210 L93.7 209.9 L94.2 209.9 L94.7 209.8 L95.2 209.8 L95.7 209.7 L96.2 209.7 L96.7 209.6 L97.2 209.6 L97.7 209.6 L98.2 209.6 L98.7 209.6 L99.2 209.6 L99.7 209.6 L100.2 209.6 L100.7 209.7 L101.2 209.7 L101.7 209.7 L102.2 209.7 L102.7 209.8 L103.2 209.8 L103.7 209.8 L104.2 209.9 L104.7 209.9 L105.2 210 L105.7 210 L106.2 210.1 L106.7 210.2 L107.2 210.2 L107.7 210.3 L108.2 210.3 L108.7 210.4 L109.2 210.5 L109.7 210.6 L110.2 210.6 L110.7 210.7 L111.2 210.8 L111.7 210.8 L112.2 210.9 L112.7 211 L113.2 211.1 L113.7 211.2 L114.1 211.3 L114.6 211.4 L115.1 211.5 L115.6 211.6 L116.1 211.8 L116.5 211.9 L117 212 L117.5 212.2 L118 212.4 L118.5 212.6 L119 212.7 L119.4 212.9 L119.9 213.1 L120.4 213.3 L120.9 213.6 L121.4 213.8 L121.8 214 L122.3 214.3 L122.8 214.5 L123.3 214.8 L123.7 215.1 L124.2 215.4 L124.7 215.8 L125.1 216.2 L125.6 216.6 L126 217 L126.5 217.5 L127 218 L127.4 218.6 L127.9 219.2 L128.4 219.9 L128.8 220.6 L129.3 221.4 L129.7 222.2 L130.2 223.1 L130.6 224.2 L131.1 225.3 L131.5 226.5 L132 228.1 L132.5 230 L133 232 L133.4 233.7 L133.9 235.3 L134.3 237 L134.8 238.8 L135.2 240.7 L135.7 242.8 L136.1 245.2 L136.5 248.1 L137 251 L137.4 253.7 L137.8 255.7 L138.2 257.1 L138.7 258.3 L139.1 259.3 L139.5 260.4" fill="none" stroke="#d41c24" stroke-width="1.2" stroke-linejoin="round" stroke-linecap="round" />
<path d="M56.4 259.6 L56.9 258.6 L57.4 257.6 L57.8 256.7 L58.3 255.7 L58.8 254.7 L59.3 253.7 L59.7 252.7 L60.2 251.5 L60.7 250.3 L61.2 249 L61.6 247.5 L62.1 245.9 L62.5 244.3 L63 242.6 L63.4 241 L63.9 239.6 L64.4 238.2 L64.8 236.9 L65.3 235.6 L65.7 234.3 L66.2 233.1 L66.6 232 L67.1 231 L67.6 230 L68.1 229.1 L68.5 228.2 L69 227.4 L69.5 226.6 L70 225.9 L70.4 225.2 L70.9 224.6 L71.4 224.1 L71.9 223.6 L72.4 223.2 L72.9 222.8 L73.4 222.4 L73.9 222 L74.3 221.7 L74.8 221.4 L75.3 221.1 L75.8 220.8 L76.3 220.5 L76.8 220.3 L77.3 220.1 L77.8 219.8 L78.3 219.6 L78.8 219.4 L79.3 219.2 L79.8 219 L80.3 218.8 L80.8 218.6 L81.3 218.5 L81.8 218.3 L82.3 218.1 L82.8 218 L83.3 217.8 L83.8 217.7 L84.3 217.5 L84.8 217.4 L85.3 217.2 L85.8 217 L86.3 216.9 L86.8 216.7 L87.2 216.5 L87.7 216.4 L88.2 216.2 L88.7 216 L89.2 215.8 L89.7 215.7 L90.2 215.5 L90.7 215.3 L91.1 215.2 L91.6 215 L92.1 214.9 L92.6 214.8 L93.1 214.6 L93.6 214.5 L94.1 214.5 L94.5 214.4 L95 214.3 L95.5 214.3 L96 214.3 L96.5 214.3 L97 214.3 L97.5 214.4 L98 214.4 L98.5 214.4 L99 214.5 L99.5 214.6 L100 214.6 L100.5 214.7 L101 214.8 L101.5 214.9 L102 215 L102.5 215.2 L103 215.3 L103.5 215.4 L104 215.5 L104.5 215.7 L105 215.8 L105.5 216 L106 216.1 L106.5 216.3 L107 216.5 L107.5 216.6 L108 216.8 L108.5 217 L109 217.1 L109.5 217.3 L110 217.5 L110.5 217.7 L111 217.8 L111.5 218 L112 218.2 L112.5 218.4 L113 218.6 L113.5 218.8 L114 219.1 L114.5 219.3 L115 219.6 L115.5 219.9 L116 220.2 L116.5 220.5 L117 220.8 L117.5 221.1 L118 221.4 L118.4 221.8 L118.9 222.1 L119.4 222.5 L119.9 222.9 L120.4 223.3 L120.8 223.7 L121.3 224.1 L121.8 224.6 L122.3 225.1 L122.7 225.6 L123.2 226.1 L123.6 226.6 L124.1 227.2 L124.5 227.9 L125 228.5 L125.4 229.1 L125.8 229.8 L126.3 230.5 L126.7 231.3 L127.1 232.1 L127.6 233.1 L128.1 234.1 L128.5 235.2 L129 236.3 L129.5 237.5 L130 238.7 L130.4 239.9 L130.9 241.3 L131.4 242.8 L131.8 244.5 L132.3 246.5 L132.8 248.6 L133.2 250.8 L133.7 252.8 L134.1 254.6 L134.6 256.2 L135.1 257.6 L135.5 259 L136 260.4" fill="none" stroke="#d41c24" stroke-width="1.2" stroke-linejoin="round" stroke-linecap="round" />
<path d="M114.9 205.6 L119.1 205.6 L117 210.8 Z" fill="#000"/>
<line x1="117" y1="204.2" x2="117" y2="206" stroke="#000" stroke-width="0.8" />
<path d="M114.9 231.4 L119.1 231.4 L117 226.2 Z" fill="#000"/>
<line x1="117" y1="231" x2="117" y2="232.8" stroke="#000" stroke-width="0.8" />
<text x="249.4" y="9.3" font-size="10.4" text-anchor="start" fill="#000" font-weight="bold" >B</text>
<line x1="277.3" y1="10.4" x2="277.3" y2="74.2" stroke="#666" stroke-width="0.9" />
<line x1="274.7" y1="10.4" x2="277.3" y2="10.4" stroke="#666" stroke-width="0.9" />
<text x="268" y="12.88" font-size="6.9" text-anchor="middle" fill="#000" font-weight="normal" >70</text>
<line x1="274.7" y1="19.51" x2="277.3" y2="19.51" stroke="#666" stroke-width="0.9" />
<text x="268" y="22" font-size="6.9" text-anchor="middle" fill="#000" font-weight="normal" >60</text>
<line x1="274.7" y1="28.63" x2="277.3" y2="28.63" stroke="#666" stroke-width="0.9" />
<text x="268" y="31.11" font-size="6.9" text-anchor="middle" fill="#000" font-weight="normal" >50</text>
<line x1="274.7" y1="37.74" x2="277.3" y2="37.74" stroke="#666" stroke-width="0.9" />
<text x="268" y="40.23" font-size="6.9" text-anchor="middle" fill="#000" font-weight="normal" >40</text>
<line x1="274.7" y1="46.86" x2="277.3" y2="46.86" stroke="#666" stroke-width="0.9" />
<text x="268" y="49.34" font-size="6.9" text-anchor="middle" fill="#000" font-weight="normal" >30</text>
<line x1="274.7" y1="55.97" x2="277.3" y2="55.97" stroke="#666" stroke-width="0.9" />
<text x="268" y="58.46" font-size="6.9" text-anchor="middle" fill="#000" font-weight="normal" >20</text>
<line x1="274.7" y1="65.09" x2="277.3" y2="65.09" stroke="#666" stroke-width="0.9" />
<text x="268" y="67.57" font-size="6.9" text-anchor="middle" fill="#000" font-weight="normal" >10</text>
<line x1="274.7" y1="74.2" x2="277.3" y2="74.2" stroke="#666" stroke-width="0.9" />
<text x="268" y="76.68" font-size="6.9" text-anchor="middle" fill="#000" font-weight="normal" >0</text>
<line x1="277.3" y1="84.3" x2="277.3" y2="146.8" stroke="#666" stroke-width="0.9" />
<line x1="274.7" y1="84.3" x2="277.3" y2="84.3" stroke="#666" stroke-width="0.9" />
<text x="267.8" y="86.78" font-size="6.9" text-anchor="middle" fill="#000" font-weight="normal" >1</text>
<line x1="274.7" y1="96.8" x2="277.3" y2="96.8" stroke="#666" stroke-width="0.9" />
<text x="267.8" y="99.28" font-size="6.9" text-anchor="middle" fill="#000" font-weight="normal" >0.8</text>
<line x1="274.7" y1="109.3" x2="277.3" y2="109.3" stroke="#666" stroke-width="0.9" />
<text x="267.8" y="111.78" font-size="6.9" text-anchor="middle" fill="#000" font-weight="normal" >0.6</text>
<line x1="274.7" y1="121.8" x2="277.3" y2="121.8" stroke="#666" stroke-width="0.9" />
<text x="267.8" y="124.28" font-size="6.9" text-anchor="middle" fill="#000" font-weight="normal" >0.4</text>
<line x1="274.7" y1="134.3" x2="277.3" y2="134.3" stroke="#666" stroke-width="0.9" />
<text x="267.8" y="136.78" font-size="6.9" text-anchor="middle" fill="#000" font-weight="normal" >0.2</text>
<line x1="274.7" y1="146.8" x2="277.3" y2="146.8" stroke="#666" stroke-width="0.9" />
<text x="267.8" y="149.28" font-size="6.9" text-anchor="middle" fill="#000" font-weight="normal" >0</text>
<line x1="277.3" y1="159.2" x2="277.3" y2="185.3" stroke="#666" stroke-width="0.9" />
<line x1="274.7" y1="159.2" x2="277.3" y2="159.2" stroke="#666" stroke-width="0.9" />
<text x="268.2" y="161.68" font-size="6.9" text-anchor="middle" fill="#000" font-weight="normal" >20</text>
<line x1="274.7" y1="165.72" x2="277.3" y2="165.72" stroke="#666" stroke-width="0.9" />
<text x="268.2" y="168.21" font-size="6.9" text-anchor="middle" fill="#000" font-weight="normal" >15</text>
<line x1="274.7" y1="172.25" x2="277.3" y2="172.25" stroke="#666" stroke-width="0.9" />
<text x="268.2" y="174.73" font-size="6.9" text-anchor="middle" fill="#000" font-weight="normal" >10</text>
<line x1="274.7" y1="178.78" x2="277.3" y2="178.78" stroke="#666" stroke-width="0.9" />
<text x="268.2" y="181.26" font-size="6.9" text-anchor="middle" fill="#000" font-weight="normal" >5</text>
<line x1="274.7" y1="185.3" x2="277.3" y2="185.3" stroke="#666" stroke-width="0.9" />
<text x="268.2" y="187.78" font-size="6.9" text-anchor="middle" fill="#000" font-weight="normal" >0</text>
<line x1="277.3" y1="197.2" x2="277.3" y2="260.2" stroke="#666" stroke-width="0.9" />
<line x1="274.7" y1="197.2" x2="277.3" y2="197.2" stroke="#666" stroke-width="0.9" />
<text x="267.8" y="199.68" font-size="6.9" text-anchor="middle" fill="#000" font-weight="normal" >1</text>
<line x1="274.7" y1="209.8" x2="277.3" y2="209.8" stroke="#666" stroke-width="0.9" />
<text x="267.8" y="212.28" font-size="6.9" text-anchor="middle" fill="#000" font-weight="normal" >0.8</text>
<line x1="274.7" y1="222.4" x2="277.3" y2="222.4" stroke="#666" stroke-width="0.9" />
<text x="267.8" y="224.88" font-size="6.9" text-anchor="middle" fill="#000" font-weight="normal" >0.6</text>
<line x1="274.7" y1="235" x2="277.3" y2="235" stroke="#666" stroke-width="0.9" />
<text x="267.8" y="237.48" font-size="6.9" text-anchor="middle" fill="#000" font-weight="normal" >0.4</text>
<line x1="274.7" y1="247.6" x2="277.3" y2="247.6" stroke="#666" stroke-width="0.9" />
<text x="267.8" y="250.08" font-size="6.9" text-anchor="middle" fill="#000" font-weight="normal" >0.2</text>
<line x1="274.7" y1="260.2" x2="277.3" y2="260.2" stroke="#666" stroke-width="0.9" />
<text x="267.8" y="262.68" font-size="6.9" text-anchor="middle" fill="#000" font-weight="normal" >0</text>
<line x1="469.7" y1="159.6" x2="469.7" y2="185.8" stroke="#666" stroke-width="0.9" />
<line x1="467.1" y1="159.6" x2="469.7" y2="159.6" stroke="#666" stroke-width="0.9" />
<text x="485.3" y="160.38" font-size="6.9" text-anchor="end" fill="#000" font-weight="normal" >20</text>
<line x1="467.1" y1="166.15" x2="469.7" y2="166.15" stroke="#666" stroke-width="0.9" />
<text x="485.3" y="167.73" font-size="6.9" text-anchor="end" fill="#000" font-weight="normal" >10</text>
<line x1="467.1" y1="172.7" x2="469.7" y2="172.7" stroke="#666" stroke-width="0.9" />
<text x="484.5" y="175.08" font-size="6.9" text-anchor="end" fill="#000" font-weight="normal" >0</text>
<line x1="467.1" y1="179.25" x2="469.7" y2="179.25" stroke="#666" stroke-width="0.9" />
<text x="485.3" y="182.43" font-size="6.9" text-anchor="end" fill="#000" font-weight="normal" >-10</text>
<line x1="467.1" y1="185.8" x2="469.7" y2="185.8" stroke="#666" stroke-width="0.9" />
<text x="485.3" y="189.78" font-size="6.9" text-anchor="end" fill="#000" font-weight="normal" >-20</text>
<line x1="277.3" y1="266.1" x2="469" y2="266.1" stroke="#666" stroke-width="0.9" />
<line x1="277.3" y1="264.3" x2="277.3" y2="266.1" stroke="#666" stroke-width="0.9" />
<text x="277.3" y="274.7" font-size="7.5" text-anchor="middle" fill="#000" font-weight="normal" >0</text>
<line x1="341.2" y1="264.3" x2="341.2" y2="266.1" stroke="#666" stroke-width="0.9" />
<text x="341.2" y="274.7" font-size="7.5" text-anchor="middle" fill="#000" font-weight="normal" >5</text>
<line x1="405.1" y1="264.3" x2="405.1" y2="266.1" stroke="#666" stroke-width="0.9" />
<text x="405.1" y="274.7" font-size="7.5" text-anchor="middle" fill="#000" font-weight="normal" >10</text>
<line x1="469" y1="264.3" x2="469" y2="266.1" stroke="#666" stroke-width="0.9" />
<text x="469" y="274.7" font-size="7.5" text-anchor="middle" fill="#000" font-weight="normal" >15</text>
<text x="372.9" y="281" font-size="7.5" text-anchor="middle" fill="#000" font-weight="normal" >Time (sec)</text>
<text x="257.3" y="41.5" font-size="7.35" text-anchor="middle" fill="#000" font-weight="normal" transform="rotate(-90 257.3 41.5)" >Firing Rate (Hz)</text>
<text x="257.8" y="115.5" font-size="7.45" text-anchor="middle" fill="#000" transform="rotate(-90 257.8 115.5)">m<tspan font-size="5.2" dy="1.7">CaL</tspan></text>
<text x="258" y="173" font-size="7.45" text-anchor="middle" fill="#000" transform="rotate(-90 258 173)">G<tspan font-size="5.2" dy="1.7">eff</tspan><tspan dy="-1.7"> (μS/cm</tspan><tspan font-size="5" dy="-2.5">2</tspan><tspan dy="2.5">)</tspan></text>
<text x="258" y="230.3" font-size="7.45" text-anchor="middle" fill="#000" transform="rotate(-90 258 230.3)">Normalized F<tspan font-size="5.2" dy="1.7">T</tspan></text>
<text x="493.9" y="175.5" font-size="7.45" text-anchor="middle" fill="#000" transform="rotate(-90 493.9 175.5)">I<tspan font-size="5.2" dy="1.7">S</tspan><tspan dy="-1.7"> (nA)</tspan></text>
<line x1="281.5" y1="52.6" x2="281.5" y2="260.2" stroke="#555" stroke-width="0.7" stroke-dasharray="1.3,0.9"/>
<line x1="295.5" y1="65" x2="295.5" y2="260.2" stroke="#555" stroke-width="0.7" stroke-dasharray="1.3,0.9"/>
<line x1="389.2" y1="68" x2="389.2" y2="260.2" stroke="#555" stroke-width="0.7" stroke-dasharray="1.3,0.9"/>
<line x1="398.8" y1="70.5" x2="398.8" y2="260.2" stroke="#555" stroke-width="0.7" stroke-dasharray="1.3,0.9"/>
<line x1="447.8" y1="62.5" x2="447.8" y2="260.2" stroke="#555" stroke-width="0.7" stroke-dasharray="1.3,0.9"/>
<line x1="309.5" y1="56" x2="309.5" y2="204.9" stroke="#444" stroke-width="0.75" />
<line x1="372.4" y1="166.2" x2="372.4" y2="204.7" stroke="#444" stroke-width="0.75" />
<line x1="309.5" y1="166.2" x2="372.4" y2="166.2" stroke="#999" stroke-width="1.2" />
<line x1="309.5" y1="204.7" x2="372.4" y2="204.7" stroke="#999" stroke-width="1.2" />
<circle cx="281.8" cy="52.6" r="0.75" fill="#1c1ccc"/>
<circle cx="282" cy="48.9" r="0.75" fill="#1c1ccc"/>
<path d="M282.5 46.2 L282.9 44.7 L283.2 43.5 L283.7 42.8 L284.1 42.3 L284.6 42 L285.1 41.7 L285.6 41.5 L286.1 41.4 L286.5 41.2 L287 41.1 L287.5 40.9 L288 40.7 L288.5 40.5 L289 40.4 L289.5 40.2 L290 40 L290.5 39.9 L291 39.7 L291.5 39.5 L292 39.3 L292.5 39.2 L293 39 L293.5 38.9 L294 38.7 L294.5 38.5 L295 38.4 L295.5 38.2 L296 38 L296.5 37.9 L297 37.7 L297.5 37.6 L298 37.4 L298.5 37.2 L299 37.1 L299.5 36.9 L300 36.7 L300.5 36.6 L301 36.4 L301.5 36.2 L302 36.1 L302.5 35.9 L303 35.7 L303.5 35.5 L304 35.4 L304.5 35.2 L305 35 L305.5 34.8 L306 34.6 L306.5 34.4 L307 34.3 L307.5 34.1 L308 33.9 L308.5 33.7 L309 33.5 L309.5 33.3 L310 33.1 L310.5 32.9 L311 32.7 L311.5 32.5 L312 32.3 L312.5 32.1 L313 31.9 L313.5 31.7 L314 31.5 L314.5 31.3 L315 31.1 L315.5 30.9 L316 30.7 L316.5 30.5 L317 30.3 L317.5 30 L318 29.8 L318.5 29.6 L319 29.4 L319.5 29.2 L320 28.9 L320.5 28.7 L321 28.5 L321.5 28.2 L322 28 L322.5 27.8 L323 27.5 L323.5 27.3 L324 27 L324.5 26.8 L325 26.5 L325.5 26.3 L326 26 L326.5 25.8 L327 25.5 L327.5 25.3 L328 25 L328.5 24.7 L329 24.5 L329.5 24.2 L330 23.9 L330.5 23.6 L331 23.4 L331.5 23.1 L332 22.8 L332.5 22.5 L333 22.2 L333.5 21.9 L333.9 21.6 L334.4 21.3 L334.9 21 L335.4 20.7 L335.9 20.4 L336.4 20.1 L336.8 19.8 L337.3 19.5 L337.8 19.1 L338.3 18.8 L338.8 18.5 L339.3 18.2 L339.7 17.8 L340.2 17.5 L340.7 17.2 L341.2 16.9" fill="none" stroke="#1c1ccc" stroke-width="1.7" stroke-linejoin="round" stroke-linecap="round" />
<path d="M341.2 16.9 L341.7 17.1 L342.2 17.3 L342.7 17.6 L343.2 17.8 L343.7 18 L344.2 18.2 L344.7 18.4 L345.2 18.6 L345.7 18.9 L346.2 19.1 L346.7 19.3 L347.2 19.5 L347.7 19.7 L348.2 19.9 L348.7 20.2 L349.2 20.4 L349.7 20.6 L350.2 20.8 L350.7 21 L351.2 21.2 L351.7 21.5 L352.2 21.7 L352.7 21.9 L353.2 22.1 L353.7 22.3 L354.2 22.5 L354.7 22.8 L355.2 23 L355.7 23.2 L356.2 23.4 L356.7 23.6 L357.2 23.9 L357.7 24.1 L358.2 24.3 L358.7 24.5 L359.2 24.7 L359.7 25 L360.2 25.2 L360.7 25.4 L361.2 25.6 L361.7 25.9 L362.2 26.1 L362.7 26.3 L363.2 26.5 L363.7 26.8 L364.2 27 L364.7 27.2 L365.2 27.5 L365.7 27.7 L366.2 27.9 L366.7 28.2 L367.2 28.4 L367.7 28.6 L368.2 28.9 L368.6 29.1 L369.1 29.4 L369.6 29.6 L370.1 29.8 L370.6 30.1 L371.1 30.3 L371.6 30.6 L372.1 30.8 L372.6 31.1 L373.1 31.3 L373.6 31.6 L374.1 31.8 L374.6 32.1 L375.1 32.3 L375.6 32.6 L376.1 32.8 L376.5 33.1 L377 33.3 L377.5 33.5 L378 33.8 L378.5 34 L379 34.3 L379.5 34.5 L380 34.8 L380.5 35 L381 35.2 L381.5 35.5 L382 35.7 L382.5 35.9 L383 36.2 L383.5 36.4 L384 36.6 L384.4 36.9 L384.9 37.1 L385.4 37.3 L385.9 37.5 L386.4 37.8 L386.9 38 L387.4 38.2 L387.9 38.4 L388.4 38.6 L388.9 38.8 L389.4 39 L389.9 39.2 L390.4 39.4 L390.9 39.6 L391.4 39.8 L391.9 40 L392.4 40.2 L392.8 40.4 L393.3 40.6 L393.8 40.8 L394.3 41 L394.8 41.2 L395.3 41.4 L395.8 41.6 L396.3 41.7 L396.8 41.9 L397.3 42.1 L397.8 42.3 L398.3 42.5 L398.8 42.7 L399.3 42.9 L399.8 43 L400.3 43.2 L400.7 43.4 L401.2 43.6 L401.7 43.8 L402.2 43.9 L402.7 44.1 L403.2 44.3 L403.7 44.5 L404.2 44.6 L404.7 44.8 L405.2 45 L405.7 45.2 L406.2 45.3 L406.7 45.5 L407.2 45.7 L407.7 45.8 L408.2 46 L408.6 46.2 L409.1 46.3 L409.6 46.5 L410.1 46.7 L410.6 46.8 L411.1 47 L411.6 47.2 L412.1 47.3 L412.6 47.5 L413.1 47.7 L413.6 47.8 L414.1 48 L414.6 48.1 L415.1 48.3 L415.6 48.4 L416.1 48.6 L416.6 48.7 L417.1 48.9 L417.6 49 L418.1 49.2 L418.6 49.3 L419 49.4 L419.5 49.6 L420 49.7 L420.5 49.8 L421 50 L421.5 50.1 L422 50.2 L422.5 50.4 L423 50.5 L423.5 50.6 L424 50.8 L424.5 50.9 L425 51 L425.5 51.2 L426 51.3 L426.5 51.4 L427 51.6 L427.5 51.7 L428 51.9 L428.5 52 L429 52.1 L429.5 52.3 L430 52.4 L430.5 52.6 L430.9 52.7 L431.4 52.9 L431.9 53 L432.4 53.2 L432.9 53.4 L433.4 53.5 L433.9 53.7 L434.4 53.9 L434.9 54.1 L435.4 54.2 L435.9 54.4 L436.4 54.6 L436.9 54.8 L437.4 55 L437.8 55.2 L438.3 55.4 L438.8 55.6 L439.2 55.8 L439.7 56 L440.2 56.2 L440.7 56.5 L441.1 56.7 L441.6 57 L442.1 57.2 L442.5 57.5 L443 57.8 L443.5 58.1 L444 58.5 L444.5 58.8 L445 59.2 L445.5 59.7 L446 60.1 L446.5 60.6 L447 61.2 L447.5 61.8 L448 62.5" fill="none" stroke="#1c1ccc" stroke-width="1.7" stroke-linejoin="round" stroke-linecap="round" />
<path d="M295.6 64.4 L296.1 63.8 L296.6 63.1 L297 62.5 L297.5 61.9 L298 61.4 L298.5 61 L299 60.6 L299.5 60.2 L300 59.9 L300.5 59.5 L301 59.2 L301.5 58.9 L302 58.6 L302.5 58.3 L303 58 L303.5 57.7 L304 57.4 L304.5 57.1 L305 56.9 L305.5 56.6 L306 56.3 L306.5 56 L307 55.8 L307.5 55.5 L308 55.2 L308.4 54.9 L308.9 54.7 L309.4 54.4 L309.9 54.2 L310.4 53.9 L310.9 53.6 L311.4 53.4 L311.9 53.1 L312.4 52.9 L312.9 52.6 L313.4 52.4 L313.9 52.1 L314.4 51.9 L314.9 51.6 L315.4 51.4 L315.9 51.1 L316.4 50.9 L316.9 50.7 L317.4 50.4 L317.9 50.2 L318.3 49.9 L318.8 49.7 L319.3 49.5 L319.8 49.2 L320.3 49 L320.8 48.8 L321.3 48.5 L321.8 48.3 L322.3 48.1 L322.8 47.8 L323.3 47.6 L323.8 47.4 L324.3 47.1 L324.8 46.9 L325.3 46.7 L325.8 46.5 L326.3 46.3 L326.8 46 L327.3 45.8 L327.8 45.6 L328.3 45.4 L328.8 45.2 L329.3 45 L329.8 44.7 L330.3 44.5 L330.8 44.3 L331.3 44.1 L331.8 43.9 L332.3 43.7 L332.8 43.5 L333.2 43.3 L333.7 43.1 L334.2 42.9 L334.7 42.7 L335.2 42.5 L335.7 42.3 L336.2 42.1 L336.7 41.9 L337.2 41.7 L337.7 41.4 L338.2 41.2 L338.7 41 L339.2 40.8 L339.7 40.6 L340.2 40.4 L340.7 40.2 L341.2 40" fill="none" stroke="#1c1ccc" stroke-width="1.6" stroke-linejoin="round" stroke-linecap="round" />
<path d="M341.2 40 L341.7 40.2 L342.2 40.4 L342.7 40.6 L343.2 40.7 L343.7 40.9 L344.2 41.1 L344.7 41.3 L345.2 41.5 L345.7 41.7 L346.2 41.8 L346.7 42 L347.2 42.2 L347.7 42.4 L348.2 42.6 L348.7 42.7 L349.2 42.9 L349.7 43.1 L350.2 43.3 L350.7 43.5 L351.2 43.6 L351.7 43.8 L352.2 44 L352.7 44.2 L353.2 44.4 L353.7 44.5 L354.2 44.7 L354.7 44.9 L355.2 45.1 L355.7 45.3 L356.2 45.5 L356.7 45.7 L357.2 45.9 L357.7 46 L358.2 46.2 L358.7 46.4 L359.2 46.6 L359.7 46.8 L360.2 47 L360.7 47.2 L361.2 47.4 L361.7 47.6 L362.2 47.8 L362.7 48.1 L363.2 48.3 L363.7 48.5 L364.2 48.7 L364.7 48.9 L365.2 49.1 L365.7 49.4 L366.2 49.6 L366.7 49.8 L367.2 50 L367.7 50.3 L368.2 50.5 L368.7 50.7 L369.2 51 L369.7 51.2 L370.2 51.5 L370.7 51.7 L371.2 52 L371.7 52.2 L372.2 52.5 L372.7 52.7 L373.2 53 L373.7 53.2 L374.2 53.5 L374.7 53.8 L375.2 54 L375.7 54.3 L376.2 54.6 L376.7 54.9 L377.2 55.1 L377.7 55.4 L378.2 55.7 L378.7 56 L379.2 56.3 L379.6 56.5 L380.1 56.8 L380.6 57 L381 57.3 L381.5 57.6 L382 57.9 L382.5 58.2 L382.9 58.5 L383.4 58.8 L383.9 59.2 L384.3 59.6 L384.8 60 L385.3 60.6 L385.8 61.3 L386.3 62" fill="none" stroke="#1c1ccc" stroke-width="1.6" stroke-linejoin="round" stroke-linecap="round" />
<circle cx="387.3" cy="64.3" r="0.75" fill="#1c1ccc"/>
<circle cx="388.4" cy="67.4" r="0.75" fill="#1c1ccc"/>
<path d="M295.6 66 L296.1 65.6 L296.6 65.2 L297.1 64.8 L297.5 64.4 L298 64 L298.5 63.6 L299 63.2 L299.5 62.8 L300 62.5 L300.5 62.1 L301 61.8 L301.5 61.4 L302 61.1 L302.5 60.7 L303 60.4 L303.5 60.1 L304 59.7 L304.5 59.4 L305 59.1 L305.5 58.7 L306 58.4 L306.5 58 L307 57.6 L307.5 57.2 L308 56.7 L308.5 56.2 L308.9 55.7 L309.4 55.1 L309.9 54.5 L310.4 53.9 L310.8 53.3 L311.3 52.5 L311.8 51.8 L312.2 50.9 L312.6 50.1 L313.1 49.2 L313.6 48.4 L314 47.5 L314.5 46.6 L314.9 45.7 L315.4 44.7 L315.8 43.8 L316.3 42.8 L316.7 41.9 L317.2 41.1 L317.7 40.3 L318.2 39.4 L318.7 38.6 L319.2 37.8 L319.7 37.1 L320.1 36.3 L320.6 35.6 L321.1 34.9 L321.6 34.2 L322.1 33.6 L322.6 33 L323.1 32.4 L323.6 31.9 L324.1 31.3 L324.5 30.8 L325 30.3 L325.5 29.8 L326 29.3 L326.5 28.8 L327 28.4 L327.5 27.9 L327.9 27.5 L328.4 27.1 L328.9 26.6 L329.4 26.2 L329.9 25.8 L330.3 25.4 L330.8 25 L331.3 24.7 L331.7 24.3 L332.2 23.9 L332.7 23.6 L333.2 23.2 L333.6 22.9 L334.1 22.6 L334.6 22.2 L335 21.9 L335.5 21.5 L336 21.1 L336.4 20.8 L336.9 20.4 L337.4 20.1 L337.9 19.7 L338.4 19.3 L338.8 19 L339.3 18.6 L339.8 18.3 L340.2 17.9 L340.7 17.6 L341.2 17.2" fill="none" stroke="#1c1ccc" stroke-width="1.6" stroke-linejoin="round" stroke-linecap="round" />
<path d="M341.2 17.2 L341.7 17.6 L342.2 18 L342.7 18.4 L343.2 18.8 L343.6 19.2 L344.1 19.6 L344.6 20 L345.1 20.4 L345.6 20.8 L346.1 21.2 L346.6 21.6 L347.1 22 L347.6 22.4 L348 22.8 L348.5 23.2 L349 23.6 L349.5 24 L350 24.4 L350.5 24.8 L351 25.2 L351.5 25.6 L351.9 26 L352.4 26.3 L352.9 26.7 L353.4 27.1 L353.9 27.5 L354.4 27.9 L354.9 28.3 L355.4 28.7 L355.9 29.1 L356.3 29.5 L356.8 29.9 L357.3 30.2 L357.8 30.6 L358.3 31 L358.8 31.4 L359.3 31.8 L359.8 32.1 L360.3 32.5 L360.8 32.9 L361.3 33.3 L361.8 33.6 L362.3 34 L362.8 34.4 L363.3 34.7 L363.8 35.1 L364.3 35.5 L364.8 35.8 L365.3 36.2 L365.8 36.5 L366.3 36.9 L366.8 37.3 L367.3 37.6 L367.8 38 L368.3 38.4 L368.8 38.8 L369.3 39.1 L369.8 39.5 L370.3 39.9 L370.8 40.3 L371.3 40.7 L371.8 41.1 L372.3 41.5 L372.8 41.9 L373.3 42.3 L373.8 42.7 L374.3 43.1 L374.7 43.5 L375.2 43.9 L375.7 44.3 L376.2 44.7 L376.7 45.1 L377.2 45.5 L377.7 45.9 L378.2 46.4 L378.7 46.8 L379.2 47.2 L379.7 47.7 L380.1 48.1 L380.6 48.6 L381.1 49 L381.6 49.5 L382.1 50 L382.6 50.5 L383.1 51 L383.6 51.5 L384.1 52 L384.5 52.6 L385 53.1 L385.5 53.7 L386 54.2 L386.5 54.8 L387 55.4 L387.5 56 L387.9 56.6 L388.4 57.3 L388.9 57.9 L389.4 58.6 L389.9 59.3 L390.3 60 L390.8 60.8 L391.3 61.6 L391.8 62.4 L392.2 63.2 L392.7 64" fill="none" stroke="#1c1ccc" stroke-width="1.6" stroke-linejoin="round" stroke-linecap="round" />
<circle cx="395" cy="66.8" r="0.75" fill="#1c1ccc"/>
<circle cx="396.8" cy="68.8" r="0.75" fill="#1c1ccc"/>
<circle cx="398.4" cy="70.5" r="0.75" fill="#1c1ccc"/>
<text x="413.7" y="21.6" font-size="7.35" text-anchor="start" fill="#000" font-weight="normal" >Distal</text>
<text x="422.6" y="29.1" font-size="7.35" text-anchor="start" fill="#000" font-weight="normal" >Intermediate</text>
<text x="429.3" y="36.9" font-size="7.35" text-anchor="start" fill="#000" font-weight="normal" >Proximal</text>
<line x1="412.4" y1="20.3" x2="389.49" y2="33.05" stroke="#000" stroke-width="0.7" />
<path d="M386 35 L388.72 31.66 L390.27 34.45 Z" fill="#000"/>
<line x1="421.2" y1="27.8" x2="388.08" y2="46.53" stroke="#000" stroke-width="0.7" />
<path d="M384.6 48.5 L387.29 45.14 L388.87 47.92 Z" fill="#000"/>
<line x1="428" y1="35.8" x2="388.05" y2="59.37" stroke="#000" stroke-width="0.7" />
<path d="M384.6 61.4 L387.23 57.99 L388.86 60.75 Z" fill="#000"/>
<path d="M277.3 146.6 L277.7 146.5 L278.2 146.4 L278.6 146.2 L279.1 146.1 L279.5 145.8 L280 144.9 L280.5 143 L280.9 133.7 L281.4 120.5 L281.8 109.9 L282.3 99.9 L282.7 93.5 L283.2 90 L283.6 87.4 L284.1 86.1 L284.6 85.5 L285.1 85 L285.6 84.7 L286.1 84.5 L286.6 84.4 L287.1 84.4 L287.5 84.3 L288 84.3 L288.5 84.3 L289 84.3 L289.5 84.3 L290 84.3 L290.5 84.3 L291 84.3 L291.5 84.3 L292 84.3 L292.5 84.3 L293 84.3 L293.5 84.3 L294 84.3 L294.5 84.3 L295 84.3 L295.5 84.3 L296 84.3 L296.5 84.3 L297 84.3 L297.5 84.3 L298 84.3 L298.5 84.3 L299 84.3 L299.5 84.3 L300 84.3 L300.5 84.3 L301 84.3 L301.5 84.3 L302 84.3 L302.5 84.3 L303 84.3 L303.5 84.3 L304 84.3 L304.5 84.3 L305 84.3 L305.5 84.3 L306 84.3 L306.5 84.3 L307 84.3 L307.5 84.3 L308 84.3 L308.5 84.3 L309 84.3 L309.5 84.3 L310 84.3 L310.5 84.3 L311 84.3 L311.5 84.3 L312 84.3 L312.5 84.3 L313 84.3 L313.5 84.3 L314 84.3 L314.5 84.3 L315 84.3 L315.5 84.3 L316 84.3 L316.5 84.3 L317 84.3 L317.5 84.3 L318 84.3 L318.4 84.3 L318.9 84.3 L319.4 84.3 L319.9 84.3 L320.4 84.3 L320.9 84.3 L321.4 84.3 L321.9 84.3 L322.4 84.3 L322.9 84.3 L323.4 84.3 L323.9 84.3 L324.4 84.3 L324.9 84.3 L325.4 84.3 L325.9 84.3 L326.4 84.3 L326.9 84.3 L327.4 84.3 L327.9 84.3 L328.4 84.3 L328.9 84.3 L329.4 84.3 L329.9 84.3 L330.4 84.3 L330.9 84.3 L331.4 84.3 L331.9 84.3 L332.4 84.3 L332.9 84.3 L333.4 84.3 L333.9 84.3 L334.4 84.3 L334.9 84.3 L335.4 84.3 L335.9 84.3 L336.4 84.3 L336.9 84.3 L337.4 84.3 L337.9 84.3 L338.4 84.3 L338.9 84.3 L339.4 84.3 L339.9 84.3 L340.4 84.3 L340.9 84.3 L341.4 84.3 L341.9 84.3 L342.4 84.3 L342.9 84.3 L343.4 84.3 L343.9 84.3 L344.4 84.3 L344.9 84.3 L345.4 84.3 L345.9 84.3 L346.4 84.3 L346.9 84.3 L347.4 84.3 L347.9 84.3 L348.4 84.3 L348.9 84.3 L349.4 84.3 L349.9 84.3 L350.4 84.3 L350.9 84.3 L351.4 84.3 L351.9 84.3 L352.4 84.3 L352.9 84.3 L353.4 84.3 L353.9 84.3 L354.4 84.3 L354.9 84.3 L355.4 84.3 L355.9 84.3 L356.4 84.3 L356.9 84.3 L357.4 84.3 L357.9 84.3 L358.4 84.3 L358.9 84.3 L359.4 84.3 L359.9 84.3 L360.4 84.3 L360.9 84.3 L361.4 84.3 L361.9 84.3 L362.4 84.3 L362.9 84.3 L363.4 84.3 L363.9 84.3 L364.4 84.3 L364.9 84.3 L365.4 84.3 L365.9 84.3 L366.4 84.3 L366.9 84.3 L367.4 84.3 L367.9 84.3 L368.4 84.3 L368.9 84.3 L369.4 84.3 L369.9 84.3 L370.4 84.3 L370.9 84.3 L371.4 84.3 L371.9 84.3 L372.4 84.3 L372.9 84.3 L373.4 84.3 L373.9 84.3 L374.4 84.3 L374.9 84.3 L375.4 84.3 L375.9 84.3 L376.4 84.3 L376.9 84.3 L377.4 84.3 L377.9 84.3 L378.4 84.3 L378.9 84.3 L379.3 84.3 L379.8 84.3 L380.3 84.3 L380.8 84.3 L381.3 84.3 L381.8 84.3 L382.3 84.3 L382.8 84.3 L383.3 84.3 L383.8 84.3 L384.3 84.3 L384.8 84.3 L385.3 84.3 L385.8 84.3 L386.3 84.3 L386.8 84.3 L387.3 84.3 L387.8 84.3 L388.3 84.3 L388.8 84.3 L389.3 84.3 L389.8 84.3 L390.3 84.3 L390.8 84.3 L391.3 84.3 L391.8 84.3 L392.3 84.3 L392.8 84.3 L393.3 84.3 L393.8 84.3 L394.3 84.3 L394.8 84.3 L395.3 84.3 L395.8 84.3 L396.3 84.3 L396.8 84.3 L397.3 84.3 L397.8 84.3 L398.3 84.3 L398.8 84.3 L399.3 84.3 L399.8 84.3 L400.3 84.3 L400.8 84.3 L401.3 84.3 L401.8 84.3 L402.3 84.3 L402.8 84.3 L403.3 84.3 L403.8 84.3 L404.3 84.3 L404.8 84.3 L405.3 84.3 L405.8 84.3 L406.3 84.3 L406.8 84.3 L407.3 84.3 L407.8 84.3 L408.3 84.3 L408.8 84.3 L409.3 84.3 L409.8 84.3 L410.3 84.3 L410.8 84.3 L411.3 84.3 L411.8 84.3 L412.3 84.3 L412.8 84.3 L413.3 84.3 L413.8 84.3 L414.3 84.3 L414.8 84.3 L415.3 84.3 L415.8 84.3 L416.3 84.3 L416.8 84.3 L417.3 84.3 L417.8 84.3 L418.3 84.3 L418.8 84.3 L419.3 84.3 L419.8 84.3 L420.3 84.3 L420.8 84.3 L421.3 84.3 L421.8 84.3 L422.3 84.3 L422.8 84.3 L423.3 84.3 L423.8 84.3 L424.3 84.3 L424.8 84.3 L425.3 84.3 L425.8 84.3 L426.3 84.3 L426.8 84.3 L427.3 84.3 L427.8 84.3 L428.3 84.3 L428.8 84.3 L429.3 84.3 L429.8 84.3 L430.3 84.3 L430.8 84.3 L431.3 84.3 L431.8 84.3 L432.3 84.3 L432.8 84.3 L433.3 84.3 L433.8 84.3 L434.3 84.3 L434.8 84.3 L435.3 84.3 L435.8 84.3 L436.3 84.3 L436.8 84.3 L437.3 84.3 L437.8 84.3 L438.3 84.3 L438.8 84.3 L439.3 84.3 L439.7 84.3 L440.2 84.3 L440.7 84.3 L441.2 84.3 L441.7 84.3 L442.2 84.3 L442.7 84.3 L443.2 84.3 L443.7 84.3 L444.2 84.3 L444.7 84.3 L445.2 84.3 L445.7 84.3 L446.2 84.3 L446.7 84.3 L447.2 84.3 L447.7 84.3 L448.2 84.3 L448.7 84.3 L449.2 84.3 L449.7 84.3 L450.2 84.3 L450.7 84.3 L451.2 84.3 L451.7 84.3 L452.2 84.3 L452.7 84.3 L453.2 84.3 L453.7 84.3 L454.2 84.3 L454.7 84.3 L455.2 84.3 L455.7 84.3 L456.2 84.3 L456.7 84.3 L457.2 84.3 L457.7 84.3 L458.2 84.3 L458.7 84.3 L459.2 84.3 L459.7 84.3 L460.2 84.3 L460.7 84.3 L461.2 84.3 L461.7 84.3 L462.2 84.3 L462.7 84.3 L463.2 84.3 L463.7 84.3 L464.2 84.3 L464.7 84.3 L465.2 84.3 L465.7 84.3 L466.2 84.3 L466.7 84.3 L467.2 84.3 L467.7 84.3 L468.2 84.3 L468.7 84.3 L469.2 84.3 L469.7 84.3" fill="none" stroke="#000" stroke-width="0.8" stroke-linejoin="round" stroke-linecap="round" />
<line x1="420" y1="147.5" x2="469.7" y2="147.5" stroke="#777" stroke-width="1" />
<path d="M277.3 146.6 L277.8 146.5 L278.2 146.5 L278.7 146.4 L279.2 146.3 L279.7 146.3 L280.1 146.2 L280.6 146.1 L281.1 146.1 L281.6 146 L282.1 145.9 L282.5 145.9 L283 145.8 L283.5 145.7 L284 145.7 L284.4 145.6 L284.9 145.5 L285.4 145.5 L285.9 145.4 L286.4 145.4 L286.9 145.3 L287.4 145.2 L287.8 145.1 L288.3 145 L288.8 144.9 L289.3 144.8 L289.7 144.6 L290.2 144.5 L290.6 144.3 L291.1 144 L291.5 143.8 L292 143.5 L292.4 143.2 L292.9 142.8 L293.3 142.3 L293.7 141.7 L294.2 141 L294.6 140.2 L295 139.5" fill="none" stroke="#000" stroke-width="0.8" stroke-linejoin="round" stroke-linecap="round" />
<path d="M295 139.6 L295.5 139.5 L296 139.4 L296.5 139.3 L296.9 139.2 L297.4 139.2 L297.9 139.1 L298.4 139 L298.9 138.9 L299.4 138.8 L299.9 138.7 L300.4 138.6 L300.8 138.5 L301.3 138.4 L301.8 138.2 L302.3 138.1 L302.8 137.9 L303.3 137.8 L303.8 137.6 L304.2 137.3 L304.7 137.1 L305.2 136.8 L305.7 136.5 L306.2 136.2 L306.7 135.9 L307.2 135.6 L307.6 135.2 L308.1 134.8 L308.6 134.4 L309.1 134 L309.6 133.5 L310.1 133 L310.6 132.4 L311.1 131.7 L311.6 131 L312 130.2 L312.5 129.4 L313 128.6 L313.5 127.7 L314 126.8 L314.5 125.9 L315 124.9 L315.5 123.8 L316 122.5 L316.5 121.3 L317 120 L317.5 118.8 L318 117.6 L318.5 116.5 L319 115.5 L319.5 114.5 L320 113.5 L320.5 112.5 L321 111.5 L321.5 110.6 L322 109.7 L322.5 108.9 L323 108.2 L323.5 107.6 L324 107 L324.5 106.5 L325 106 L325.5 105.6 L326 105.2 L326.5 104.7 L327 104.3 L327.5 104 L328 103.6 L328.5 103.3 L329 103 L329.5 102.7 L330 102.4 L330.5 102.2 L331 102 L331.5 101.8 L332 101.6 L332.5 101.4 L333 101.3 L333.5 101.1 L334 101 L334.5 100.8 L334.9 100.7 L335.4 100.6 L335.9 100.4 L336.4 100.3 L336.9 100.2 L337.4 100.1 L337.9 100 L338.4 99.9 L338.9 99.8 L339.4 99.7 L339.9 99.6 L340.3 99.6 L340.8 99.5 L341.3 99.5 L341.8 99.4 L342.3 99.4 L342.8 99.4 L343.3 99.4 L343.8 99.4 L344.3 99.5 L344.8 99.5 L345.3 99.6 L345.8 99.7 L346.3 99.8 L346.8 99.9 L347.3 100 L347.8 100.1 L348.3 100.3 L348.8 100.4 L349.3 100.6 L349.8 100.7 L350.3 100.9 L350.8 101.1 L351.3 101.3 L351.8 101.5 L352.3 101.7 L352.7 101.9 L353.2 102.1 L353.7 102.3 L354.2 102.5 L354.7 102.7 L355.2 102.9 L355.7 103.2 L356.2 103.4 L356.7 103.6 L357.2 103.8 L357.7 104 L358.2 104.3 L358.7 104.5 L359.2 104.7 L359.7 104.9 L360.2 105.1 L360.7 105.3 L361.2 105.4 L361.7 105.6 L362.2 105.8 L362.7 106 L363.2 106.1 L363.7 106.3 L364.1 106.4 L364.6 106.6 L365.1 106.8 L365.6 106.9 L366.1 107.1 L366.6 107.2 L367.1 107.4 L367.6 107.6 L368.1 107.7 L368.5 107.9 L369 108.1 L369.5 108.3 L370 108.5 L370.5 108.7 L371 108.9 L371.5 109.1 L372 109.4 L372.4 109.6 L372.9 109.9 L373.4 110.1 L373.9 110.4 L374.4 110.6 L374.9 110.9 L375.4 111.1 L375.9 111.4 L376.3 111.7 L376.8 112 L377.3 112.2 L377.8 112.5 L378.3 112.8 L378.8 113.1 L379.3 113.4 L379.8 113.6 L380.3 113.9 L380.8 114.2 L381.3 114.5 L381.8 114.9 L382.3 115.2 L382.8 115.6 L383.3 116 L383.8 116.4 L384.2 116.9 L384.7 117.4 L385.1 118 L385.6 118.6 L386.1 119.2 L386.5 119.8 L387 120.5 L387.5 121.3 L388 122.2 L388.5 123.2 L389 124.2 L389.5 125.1 L390 126 L390.5 126.8 L391 127.6 L391.5 128.5 L392 129.3 L392.4 130 L392.9 130.8 L393.4 131.4 L393.9 132.1 L394.4 132.6 L394.9 133.1 L395.4 133.5 L395.9 133.9 L396.4 134.3 L396.8 134.6 L397.3 134.9 L397.8 135.3 L398.3 135.6 L398.8 136" fill="none" stroke="#000" stroke-width="1.4" stroke-linejoin="round" stroke-linecap="round" />
<path d="M398.8 136 L399.3 136.6 L399.8 137.3 L400.3 137.9 L400.8 138.6 L401.3 139.2 L401.8 139.8 L402.3 140.4 L402.8 141 L403.3 141.5 L403.8 142 L404.3 142.5 L404.8 143 L405.3 143.5 L405.8 143.9 L406.3 144.4 L406.8 144.8 L407.3 145.1 L407.8 145.4 L408.3 145.7 L408.8 145.8 L409.3 145.9 L409.8 146 L410.3 146.1 L410.7 146.2 L411.2 146.2 L411.7 146.3 L412.2 146.4 L412.7 146.5 L413.2 146.5 L413.7 146.6 L414.2 146.6 L414.6 146.7 L415.1 146.7 L415.6 146.8 L416.1 146.8 L416.6 146.9 L417.1 146.9 L417.6 146.9 L418.1 146.9 L418.5 147 L419 147 L419.5 147 L420 147 L420.5 147 L421 147 L421.5 147 L422 147 L422.5 147 L423 147.1 L423.5 147.1 L424 147.1 L424.5 147.1 L425 147.1 L425.5 147.1 L426 147.1 L426.5 147.1 L427 147.1 L427.5 147.1 L428 147.1 L428.5 147.1 L429 147.1 L429.5 147.1 L430 147.1 L430.5 147.1 L431 147.1 L431.5 147.1 L432 147.1 L432.5 147.1 L433 147.1 L433.5 147.1 L434 147.2 L434.5 147.2 L435 147.2 L435.5 147.2 L436 147.2 L436.5 147.2 L437 147.2 L437.5 147.2 L438 147.2 L438.5 147.2 L439 147.2 L439.5 147.2 L440 147.2" fill="none" stroke="#000" stroke-width="0.8" stroke-linejoin="round" stroke-linecap="round" />
<path d="M295 140.6 L318.5 138.2 L341.5 134.6 L355 136.9 L370.3 139.2 L388 141" fill="none" stroke="#000" stroke-width="2.6" stroke-linejoin="miter" stroke-linejoin="round"/>
<path d="M388 141 L388.4 140.2 L388.8 139.4 L389.2 139 L389.6 139.4 L390.1 140.2 L390.6 141.2 L391 141.8 L391.5 142.2 L392 142.5 L392.5 142.8 L393 143 L393.5 143.2 L394 143.4 L394.5 143.6 L395 143.8 L395.5 144 L396 144.1 L396.5 144.3 L397 144.5 L397.5 144.6 L398 144.7 L398.5 144.9 L399 145 L399.5 145.1 L400 145.2 L400.5 145.3 L401 145.4 L401.5 145.5 L402 145.6 L402.5 145.6 L403 145.7 L403.5 145.8 L404 145.9 L404.5 146 L405 146 L405.5 146.1 L406 146.2 L406.5 146.2 L407 146.3 L407.5 146.3 L408 146.4 L408.5 146.4 L409 146.4 L409.5 146.5 L410 146.5 L410.5 146.5 L411 146.5 L411.5 146.6 L412 146.6 L412.5 146.6 L413 146.6 L413.5 146.6 L414 146.7 L414.5 146.7 L415 146.7 L415.5 146.7 L416 146.7 L416.5 146.7 L417 146.7 L417.5 146.7 L418 146.8 L418.5 146.8 L419 146.8 L419.5 146.8 L420 146.8 L420.5 146.8 L421 146.8 L421.5 146.8 L422 146.8 L422.5 146.8 L423 146.9 L423.5 146.9 L424 146.9 L424.5 146.9 L425 146.9 L425.5 146.9 L426 146.9 L426.5 146.9 L427 146.9 L427.5 146.9 L428 147 L428.5 147 L429 147 L429.5 147 L430 147" fill="none" stroke="#000" stroke-width="0.8" stroke-linejoin="round" stroke-linecap="round" />
<text x="415" y="97.1" font-size="7.35" text-anchor="start" fill="#000" font-weight="normal" >Distal</text>
<text x="415" y="107.1" font-size="7.35" text-anchor="start" fill="#000" font-weight="normal" >Intermediate</text>
<text x="415" y="118.2" font-size="7.35" text-anchor="start" fill="#000" font-weight="normal" >Proximal</text>
<line x1="413.2" y1="91.6" x2="406.6" y2="87.06" stroke="#000" stroke-width="0.7" />
<path d="M403.3 84.8 L407.5 85.75 L405.69 88.38 Z" fill="#000"/>
<line x1="412.1" y1="106" x2="387.68" y2="116.34" stroke="#000" stroke-width="0.7" />
<path d="M384 117.9 L387.06 114.87 L388.31 117.81 Z" fill="#000"/>
<line x1="413.2" y1="113.8" x2="398.78" y2="140.97" stroke="#000" stroke-width="0.7" />
<path d="M396.9 144.5 L397.36 140.22 L400.19 141.72 Z" fill="#000"/>
<path d="M277.3 172.2 L341.2 159.1 L469.7 186" fill="none" stroke="#000" stroke-width="0.8" stroke-linejoin="miter" />
<line x1="277.3" y1="173.9" x2="469.7" y2="173.9" stroke="#5c5cc8" stroke-width="1.1" />
<line x1="277.3" y1="260.4" x2="295.2" y2="260.4" stroke="#5c5cc8" stroke-width="1" />
<line x1="391" y1="260.4" x2="469.7" y2="260.4" stroke="#5c5cc8" stroke-width="1" />
<path d="M281.2 260.2 L281.6 254.5 L282 248 L282.4 239.4 L282.7 230.5 L283.2 220.9 L283.6 212.5 L284.1 207.6 L284.6 205.2 L285.1 203.4 L285.6 202.2 L286.1 201.5 L286.6 201.1 L287 200.8 L287.5 200.4 L287.9 200.2 L288.4 200 L288.8 199.8 L289.3 199.6 L289.7 199.6 L290.2 199.5 L290.7 199.5 L291.2 199.4 L291.7 199.4 L292.2 199.4 L292.7 199.3 L293.2 199.3 L293.7 199.3 L294.2 199.3 L294.7 199.2 L295.2 199.2 L295.7 199.2 L296.2 199.1 L296.7 199.1 L297.2 199.1 L297.7 199.1 L298.2 199 L298.7 199 L299.2 199 L299.7 199 L300.2 198.9 L300.7 198.9 L301.2 198.9 L301.7 198.9 L302.2 198.9 L302.7 198.8 L303.2 198.8 L303.7 198.8 L304.1 198.8 L304.6 198.7 L305.1 198.7 L305.6 198.7 L306.1 198.7 L306.6 198.7 L307.1 198.7 L307.6 198.6 L308.1 198.6 L308.6 198.6 L309.1 198.6 L309.6 198.6 L310.1 198.6 L310.6 198.5 L311.1 198.5 L311.6 198.5 L312.1 198.5 L312.6 198.5 L313.1 198.5 L313.6 198.4 L314.1 198.4 L314.6 198.4 L315.1 198.4 L315.6 198.4 L316.1 198.4 L316.6 198.4 L317.1 198.4 L317.6 198.4 L318.1 198.3 L318.6 198.3 L319.1 198.3 L319.6 198.3 L320.1 198.3 L320.6 198.3 L321.1 198.3 L321.6 198.3 L322.1 198.3 L322.6 198.3 L323.1 198.2 L323.6 198.2 L324.1 198.2 L324.6 198.2 L325.1 198.2 L325.6 198.2 L326.1 198.2 L326.6 198.2 L327.1 198.2 L327.6 198.2 L328.1 198.2 L328.6 198.2 L329.1 198.2 L329.6 198.2 L330.1 198.2 L330.6 198.2 L331.1 198.2 L331.5 198.1 L332 198.1 L332.5 198.1 L333 198.1 L333.5 198.1 L334 198.1 L334.5 198.1 L335 198.1 L335.5 198.1 L336 198.1 L336.5 198.1 L337 198.1 L337.5 198.1 L338 198.1 L338.5 198.1 L339 198.1 L339.5 198.1 L340 198.1 L340.5 198.1 L341 198.1 L341.5 198.1 L342 198.1 L342.5 198.1 L343 198.1 L343.5 198.1 L344 198.1 L344.5 198.1 L345 198.1 L345.5 198.1 L346 198.1 L346.5 198.1 L347 198.1 L347.5 198.1 L348 198.1 L348.5 198.1 L349 198.1 L349.5 198.1 L350 198.1 L350.5 198.1 L351 198.1 L351.5 198.1 L352 198.1 L352.5 198.1 L353 198.1 L353.5 198.1 L354 198.1 L354.5 198.1 L355 198.2 L355.5 198.2 L356 198.2 L356.5 198.2 L357 198.2 L357.5 198.2 L358 198.2 L358.5 198.2 L358.9 198.2 L359.4 198.2 L359.9 198.2 L360.4 198.2 L360.9 198.2 L361.4 198.2 L361.9 198.2 L362.4 198.2 L362.9 198.3 L363.4 198.3 L363.9 198.3 L364.4 198.3 L364.9 198.3 L365.4 198.3 L365.9 198.3 L366.4 198.3 L366.9 198.3 L367.4 198.3 L367.9 198.4 L368.4 198.4 L368.9 198.4 L369.4 198.4 L369.9 198.4 L370.4 198.4 L370.9 198.4 L371.4 198.4 L371.9 198.4 L372.4 198.4 L372.9 198.5 L373.4 198.5 L373.9 198.5 L374.4 198.5 L374.9 198.5 L375.4 198.5 L375.9 198.5 L376.4 198.5 L376.9 198.6 L377.4 198.6 L377.9 198.6 L378.4 198.6 L378.9 198.6 L379.4 198.6 L379.9 198.6 L380.4 198.7 L380.9 198.7 L381.4 198.7 L381.9 198.7 L382.4 198.7 L382.9 198.7 L383.4 198.7 L383.9 198.8 L384.4 198.8 L384.9 198.8 L385.4 198.8 L385.9 198.8 L386.4 198.8 L386.8 198.8 L387.3 198.9 L387.8 198.9 L388.3 198.9 L388.8 198.9 L389.3 198.9 L389.8 198.9 L390.3 199 L390.8 199 L391.3 199 L391.8 199 L392.3 199 L392.8 199 L393.3 199.1 L393.8 199.1 L394.3 199.1 L394.8 199.1 L395.3 199.1 L395.8 199.1 L396.3 199.2 L396.8 199.2 L397.3 199.2 L397.8 199.2 L398.3 199.2 L398.8 199.2 L399.3 199.3 L399.8 199.3 L400.3 199.3 L400.8 199.3 L401.3 199.3 L401.8 199.4 L402.3 199.4 L402.8 199.4 L403.3 199.4 L403.8 199.4 L404.3 199.5 L404.7 199.5 L405.2 199.5 L405.7 199.5 L406.2 199.6 L406.7 199.6 L407.2 199.6 L407.7 199.6 L408.2 199.7 L408.7 199.7 L409.2 199.7 L409.7 199.7 L410.2 199.8 L410.7 199.8 L411.2 199.8 L411.7 199.9 L412.2 199.9 L412.6 199.9 L413.1 200 L413.6 200 L414.1 200 L414.6 200.1 L415.1 200.1 L415.6 200.1 L416.1 200.2 L416.6 200.2 L417.1 200.3 L417.6 200.3 L418.1 200.3 L418.6 200.4 L419.1 200.4 L419.6 200.5 L420.1 200.5 L420.6 200.6 L421 200.6 L421.5 200.6 L422 200.7 L422.5 200.7 L423 200.8 L423.5 200.8 L424 200.9 L424.5 200.9 L425 201 L425.5 201.1 L426 201.1 L426.5 201.2 L427 201.2 L427.5 201.3 L428 201.4 L428.5 201.5 L429 201.5 L429.5 201.6 L430 201.7 L430.5 201.8 L431 201.9 L431.5 202 L432 202.1 L432.5 202.2 L433 202.3 L433.5 202.4 L434 202.5 L434.5 202.6 L435 202.8 L435.5 202.9 L436 203 L436.5 203.2 L437 203.3 L437.5 203.5 L438 203.6 L438.5 203.8 L439 203.9 L439.5 204.1 L440 204.3 L440.5 204.5 L441 204.7 L441.4 205 L441.9 205.2 L442.4 205.5 L442.9 205.8 L443.4 206.1 L443.9 206.4 L444.4 206.8 L444.8 207.1 L445.3 207.5 L445.7 208 L446.1 208.6 L446.6 209.2 L447 210 L447.4 210.9 L447.8 212.3 L448.2 214.5 L448.7 222.4 L449.1 230.7 L449.5 240 L449.9 249.9 L450.3 260.2" fill="none" stroke="#2a2ac4" stroke-width="1.1" stroke-linejoin="round" stroke-linecap="round" />
<path d="M294.5 260.2 L294.9 255.2 L295.2 250.5 L295.7 244.7 L296.2 239.3 L296.7 234.5 L297.2 230.3 L297.7 226.6 L298.2 223.2 L298.7 220.3 L299.2 218.2 L299.7 216.7 L300.2 215.4 L300.7 214.3 L301.2 213.3 L301.7 212.4 L302.2 211.6 L302.7 210.9 L303.2 210.2 L303.7 209.6 L304.1 209 L304.6 208.4 L305.1 207.8 L305.5 207.3 L306 206.8 L306.5 206.3 L307 205.9 L307.4 205.5 L307.9 205.1 L308.4 204.7 L308.8 204.4 L309.3 204.1 L309.8 203.8 L310.3 203.5 L310.7 203.3 L311.2 203 L311.7 202.8 L312.2 202.5 L312.7 202.3 L313.1 202.1 L313.6 201.9 L314.1 201.7 L314.6 201.5 L315.1 201.3 L315.6 201.1 L316 200.9 L316.5 200.8 L317 200.6 L317.5 200.5 L318 200.4 L318.4 200.3 L318.9 200.2 L319.4 200.1 L319.9 200 L320.4 199.9 L320.9 199.9 L321.4 199.8 L321.8 199.7 L322.3 199.7 L322.8 199.6 L323.3 199.5 L323.8 199.5 L324.3 199.4 L324.8 199.4 L325.3 199.3 L325.7 199.2 L326.2 199.2 L326.7 199.1 L327.2 199.1 L327.7 199 L328.2 199 L328.7 199 L329.2 198.9 L329.6 198.9 L330.1 198.8 L330.6 198.8 L331.1 198.8 L331.6 198.7 L332.1 198.7 L332.6 198.7 L333.1 198.7 L333.5 198.7 L334 198.6 L334.5 198.6 L335 198.6 L335.5 198.6 L336 198.6 L336.5 198.6 L337 198.6 L337.5 198.6 L338 198.6 L338.5 198.6 L339 198.5 L339.5 198.5 L340 198.5 L340.5 198.5 L341 198.5 L341.5 198.5 L342 198.5 L342.5 198.5 L343 198.5 L343.5 198.5 L344 198.5 L344.5 198.5 L345 198.5 L345.5 198.5 L346 198.5 L346.5 198.5 L347 198.5 L347.5 198.5 L348 198.5 L348.5 198.5 L349 198.5 L349.5 198.6 L350 198.6 L350.5 198.6 L351 198.6 L351.5 198.6 L352 198.6 L352.5 198.7 L353 198.7 L353.5 198.7 L354 198.7 L354.5 198.7 L355 198.8 L355.5 198.8 L356 198.8 L356.5 198.8 L357 198.8 L357.5 198.9 L358 198.9 L358.5 198.9 L359 198.9 L359.5 199 L360 199 L360.5 199 L361 199.1 L361.5 199.1 L362 199.1 L362.5 199.2 L363 199.2 L363.5 199.2 L364 199.3 L364.5 199.3 L365 199.4 L365.5 199.4 L366 199.5 L366.5 199.5 L367 199.6 L367.5 199.7 L368 199.7 L368.5 199.8 L369 199.9 L369.5 199.9 L370 200 L370.5 200.1 L371 200.1 L371.5 200.2 L372 200.3 L372.5 200.4 L373 200.5 L373.5 200.6 L374 200.7 L374.4 200.8 L374.9 200.9 L375.4 201 L375.9 201.2 L376.4 201.3 L376.9 201.5 L377.4 201.6 L377.9 201.8 L378.4 202 L378.9 202.2 L379.4 202.4 L379.9 202.8 L380.4 203.1 L380.9 203.6 L381.3 204.1 L381.8 204.6 L382.3 205.2 L382.8 205.9 L383.3 206.6 L383.7 207.4 L384.2 208.3 L384.6 209.4 L385.1 210.7 L385.5 212.2 L385.9 214.1 L386.4 216.7 L386.9 219.7 L387.3 223.3 L387.8 228.4 L388.2 234.4 L388.6 240.8 L389.1 247.3 L389.5 252.1 L389.9 254.7 L390.3 256.6 L390.7 258.4 L391.1 260.2" fill="none" stroke="#2a2ac4" stroke-width="1.3" stroke-linejoin="round" stroke-linecap="round" />
<path d="M295 260.2 L295.4 257 L295.8 253.9 L296.2 250.5 L296.7 245.3 L297.2 239.5 L297.7 234.1 L298.2 230.3 L298.7 227.9 L299.2 225.9 L299.7 224.2 L300.2 222.7 L300.7 221.4 L301.2 220.2 L301.7 219.1 L302.2 218.1 L302.7 217.1 L303.2 216.2 L303.7 215.4 L304.2 214.7 L304.7 213.9 L305.2 213.2 L305.7 212.5 L306.1 211.9 L306.6 211.2 L307.1 210.6 L307.5 210 L308 209.5 L308.4 208.9 L308.9 208.4 L309.4 207.9 L309.8 207.5 L310.3 207.1 L310.8 206.7 L311.3 206.4 L311.7 206 L312.2 205.7 L312.7 205.4 L313.2 205.1 L313.7 204.7 L314.1 204.5 L314.6 204.2 L315.1 203.9 L315.6 203.7 L316 203.4 L316.5 203.2 L317 203 L317.5 202.8 L318 202.6 L318.4 202.4 L318.9 202.2 L319.4 202.1 L319.9 202 L320.4 201.8 L320.9 201.7 L321.4 201.6 L321.8 201.4 L322.3 201.3 L322.8 201.2 L323.3 201.1 L323.8 200.9 L324.3 200.8 L324.8 200.7 L325.3 200.6 L325.7 200.5 L326.2 200.4 L326.7 200.3 L327.2 200.2 L327.7 200.1 L328.2 200 L328.7 200 L329.2 199.9 L329.6 199.8 L330.1 199.7 L330.6 199.6 L331.1 199.6 L331.6 199.5 L332.1 199.4 L332.6 199.4 L333.1 199.3 L333.5 199.3 L334 199.2 L334.5 199.2 L335 199.1 L335.5 199.1 L336 199.1 L336.5 199 L337 199 L337.5 198.9 L338 198.9 L338.5 198.9 L339 198.8 L339.5 198.8 L340 198.8 L340.5 198.8 L341 198.7 L341.5 198.7 L342 198.7 L342.5 198.7 L343 198.6 L343.5 198.6 L344 198.6 L344.5 198.6 L345 198.6 L345.5 198.6 L346 198.6 L346.5 198.6 L347 198.6 L347.5 198.6 L348 198.6 L348.5 198.6 L349 198.6 L349.5 198.6 L350 198.5 L350.5 198.5 L351 198.5 L351.5 198.5 L352 198.5 L352.5 198.5 L353 198.5 L353.5 198.5 L354 198.5 L354.5 198.5 L355 198.5 L355.5 198.5 L356 198.5 L356.5 198.5 L357 198.5 L357.5 198.5 L358 198.5 L358.5 198.5 L359 198.5 L359.5 198.5 L360 198.5 L360.5 198.5 L361 198.5 L361.5 198.5 L362 198.5 L362.5 198.5 L363 198.6 L363.5 198.6 L364 198.6 L364.5 198.6 L365 198.6 L365.5 198.7 L366 198.7 L366.5 198.7 L367 198.7 L367.5 198.8 L368 198.8 L368.5 198.8 L369 198.8 L369.5 198.9 L370 198.9 L370.5 198.9 L371 199 L371.5 199 L372 199 L372.5 199 L373 199.1 L373.4 199.1 L373.9 199.1 L374.4 199.1 L374.9 199.2 L375.4 199.2 L375.9 199.2 L376.4 199.3 L376.9 199.3 L377.4 199.3 L377.9 199.4 L378.4 199.4 L378.9 199.5 L379.4 199.5 L379.9 199.5 L380.3 199.6 L380.8 199.7 L381.3 199.7 L381.8 199.8 L382.3 199.9 L382.8 199.9 L383.3 200 L383.8 200.1 L384.3 200.2 L384.7 200.4 L385.2 200.6 L385.7 200.9 L386.2 201.2 L386.6 201.5 L387.1 201.9 L387.6 202.2 L388.1 202.6 L388.6 203 L389 203.5 L389.5 203.9 L390 204.4 L390.5 204.9 L390.9 205.4 L391.4 206.1 L391.9 206.8 L392.4 207.7 L392.8 208.7 L393.3 209.9 L393.7 211.5 L394.2 213.9 L394.6 216.8 L395.1 220 L395.5 223.3 L395.9 226.7 L396.3 230.7 L396.7 234.8 L397.1 238.8 L397.5 243.1 L398 247.5 L398.4 251.5 L398.8 254.3 L399.2 256.2 L399.7 257.6 L400.2 258.9 L400.6 260.2" fill="none" stroke="#2a2ac4" stroke-width="1.3" stroke-linejoin="round" stroke-linecap="round" />
<path d="M375.0 193.6 L379.2 193.6 L377.1 198.6 Z" fill="#000"/>
<line x1="377.1" y1="192.2" x2="377.1" y2="194" stroke="#000" stroke-width="0.8" />
<path d="M375.0 211.0 L379.2 211.0 L377.1 206.1 Z" fill="#000"/>
<line x1="377.1" y1="210.6" x2="377.1" y2="212.4" stroke="#000" stroke-width="0.8" />
<text x="0.9" y="299.6" font-size="10.4" text-anchor="start" fill="#000" font-weight="bold" >C</text>
<line x1="29.4" y1="307.2" x2="29.4" y2="370.6" stroke="#666" stroke-width="0.9" />
<line x1="26.8" y1="307.2" x2="29.4" y2="307.2" stroke="#666" stroke-width="0.9" />
<text x="20.2" y="309.68" font-size="6.9" text-anchor="middle" fill="#000" font-weight="normal" >70</text>
<line x1="26.8" y1="316.26" x2="29.4" y2="316.26" stroke="#666" stroke-width="0.9" />
<text x="20.2" y="318.74" font-size="6.9" text-anchor="middle" fill="#000" font-weight="normal" >60</text>
<line x1="26.8" y1="325.31" x2="29.4" y2="325.31" stroke="#666" stroke-width="0.9" />
<text x="20.2" y="327.8" font-size="6.9" text-anchor="middle" fill="#000" font-weight="normal" >50</text>
<line x1="26.8" y1="334.37" x2="29.4" y2="334.37" stroke="#666" stroke-width="0.9" />
<text x="20.2" y="336.86" font-size="6.9" text-anchor="middle" fill="#000" font-weight="normal" >40</text>
<line x1="26.8" y1="343.43" x2="29.4" y2="343.43" stroke="#666" stroke-width="0.9" />
<text x="20.2" y="345.91" font-size="6.9" text-anchor="middle" fill="#000" font-weight="normal" >30</text>
<line x1="26.8" y1="352.49" x2="29.4" y2="352.49" stroke="#666" stroke-width="0.9" />
<text x="20.2" y="354.97" font-size="6.9" text-anchor="middle" fill="#000" font-weight="normal" >20</text>
<line x1="26.8" y1="361.54" x2="29.4" y2="361.54" stroke="#666" stroke-width="0.9" />
<text x="20.2" y="364.03" font-size="6.9" text-anchor="middle" fill="#000" font-weight="normal" >10</text>
<line x1="26.8" y1="370.6" x2="29.4" y2="370.6" stroke="#666" stroke-width="0.9" />
<text x="20.2" y="373.08" font-size="6.9" text-anchor="middle" fill="#000" font-weight="normal" >0</text>
<line x1="29.4" y1="379.5" x2="29.4" y2="442.9" stroke="#666" stroke-width="0.9" />
<line x1="26.8" y1="379.5" x2="29.4" y2="379.5" stroke="#666" stroke-width="0.9" />
<text x="20.8" y="381.98" font-size="6.9" text-anchor="middle" fill="#000" font-weight="normal" >1</text>
<line x1="26.8" y1="392.18" x2="29.4" y2="392.18" stroke="#666" stroke-width="0.9" />
<text x="20.8" y="394.66" font-size="6.9" text-anchor="middle" fill="#000" font-weight="normal" >0.8</text>
<line x1="26.8" y1="404.86" x2="29.4" y2="404.86" stroke="#666" stroke-width="0.9" />
<text x="20.8" y="407.34" font-size="6.9" text-anchor="middle" fill="#000" font-weight="normal" >0.6</text>
<line x1="26.8" y1="417.54" x2="29.4" y2="417.54" stroke="#666" stroke-width="0.9" />
<text x="20.8" y="420.02" font-size="6.9" text-anchor="middle" fill="#000" font-weight="normal" >0.4</text>
<line x1="26.8" y1="430.22" x2="29.4" y2="430.22" stroke="#666" stroke-width="0.9" />
<text x="20.8" y="432.7" font-size="6.9" text-anchor="middle" fill="#000" font-weight="normal" >0.2</text>
<line x1="26.8" y1="442.9" x2="29.4" y2="442.9" stroke="#666" stroke-width="0.9" />
<text x="20.8" y="445.38" font-size="6.9" text-anchor="middle" fill="#000" font-weight="normal" >0</text>
<line x1="29.4" y1="455.6" x2="29.4" y2="482.2" stroke="#666" stroke-width="0.9" />
<line x1="26.8" y1="455.6" x2="29.4" y2="455.6" stroke="#666" stroke-width="0.9" />
<text x="21" y="459.38" font-size="6.9" text-anchor="middle" fill="#000" font-weight="normal" >20</text>
<line x1="26.8" y1="462.25" x2="29.4" y2="462.25" stroke="#666" stroke-width="0.9" />
<text x="21" y="466.03" font-size="6.9" text-anchor="middle" fill="#000" font-weight="normal" >15</text>
<line x1="26.8" y1="468.9" x2="29.4" y2="468.9" stroke="#666" stroke-width="0.9" />
<text x="21" y="472.68" font-size="6.9" text-anchor="middle" fill="#000" font-weight="normal" >10</text>
<line x1="26.8" y1="475.55" x2="29.4" y2="475.55" stroke="#666" stroke-width="0.9" />
<text x="21" y="479.33" font-size="6.9" text-anchor="middle" fill="#000" font-weight="normal" >5</text>
<line x1="26.8" y1="482.2" x2="29.4" y2="482.2" stroke="#666" stroke-width="0.9" />
<text x="21" y="485.98" font-size="6.9" text-anchor="middle" fill="#000" font-weight="normal" >0</text>
<line x1="29.4" y1="494.3" x2="29.4" y2="558.1" stroke="#666" stroke-width="0.9" />
<line x1="26.8" y1="494.3" x2="29.4" y2="494.3" stroke="#666" stroke-width="0.9" />
<text x="20" y="496.78" font-size="6.9" text-anchor="middle" fill="#000" font-weight="normal" >1</text>
<line x1="26.8" y1="507.06" x2="29.4" y2="507.06" stroke="#666" stroke-width="0.9" />
<text x="20" y="509.54" font-size="6.9" text-anchor="middle" fill="#000" font-weight="normal" >0.8</text>
<line x1="26.8" y1="519.82" x2="29.4" y2="519.82" stroke="#666" stroke-width="0.9" />
<text x="20" y="522.3" font-size="6.9" text-anchor="middle" fill="#000" font-weight="normal" >0.6</text>
<line x1="26.8" y1="532.58" x2="29.4" y2="532.58" stroke="#666" stroke-width="0.9" />
<text x="20" y="535.06" font-size="6.9" text-anchor="middle" fill="#000" font-weight="normal" >0.4</text>
<line x1="26.8" y1="545.34" x2="29.4" y2="545.34" stroke="#666" stroke-width="0.9" />
<text x="20" y="547.82" font-size="6.9" text-anchor="middle" fill="#000" font-weight="normal" >0.2</text>
<line x1="26.8" y1="558.1" x2="29.4" y2="558.1" stroke="#666" stroke-width="0.9" />
<text x="20" y="560.58" font-size="6.9" text-anchor="middle" fill="#000" font-weight="normal" >0</text>
<line x1="221.6" y1="455.7" x2="221.6" y2="482.3" stroke="#666" stroke-width="0.9" />
<line x1="219" y1="455.7" x2="221.6" y2="455.7" stroke="#666" stroke-width="0.9" />
<text x="235.9" y="457.58" font-size="6.9" text-anchor="end" fill="#000" font-weight="normal" >20</text>
<line x1="219" y1="462.35" x2="221.6" y2="462.35" stroke="#666" stroke-width="0.9" />
<text x="235.9" y="464.98" font-size="6.9" text-anchor="end" fill="#000" font-weight="normal" >10</text>
<line x1="219" y1="469" x2="221.6" y2="469" stroke="#666" stroke-width="0.9" />
<text x="235.1" y="472.38" font-size="6.9" text-anchor="end" fill="#000" font-weight="normal" >0</text>
<line x1="219" y1="475.65" x2="221.6" y2="475.65" stroke="#666" stroke-width="0.9" />
<text x="235.9" y="479.78" font-size="6.9" text-anchor="end" fill="#000" font-weight="normal" >-10</text>
<line x1="219" y1="482.3" x2="221.6" y2="482.3" stroke="#666" stroke-width="0.9" />
<text x="235.9" y="487.18" font-size="6.9" text-anchor="end" fill="#000" font-weight="normal" >-20</text>
<line x1="29.4" y1="562.9" x2="220.9" y2="562.9" stroke="#666" stroke-width="0.9" />
<line x1="29.4" y1="561.1" x2="29.4" y2="562.9" stroke="#666" stroke-width="0.9" />
<text x="29.4" y="570.9" font-size="7.5" text-anchor="middle" fill="#000" font-weight="normal" >0</text>
<line x1="93.23" y1="561.1" x2="93.23" y2="562.9" stroke="#666" stroke-width="0.9" />
<text x="93.23" y="570.9" font-size="7.5" text-anchor="middle" fill="#000" font-weight="normal" >5</text>
<line x1="157.07" y1="561.1" x2="157.07" y2="562.9" stroke="#666" stroke-width="0.9" />
<text x="157.07" y="570.9" font-size="7.5" text-anchor="middle" fill="#000" font-weight="normal" >10</text>
<line x1="220.9" y1="561.1" x2="220.9" y2="562.9" stroke="#666" stroke-width="0.9" />
<text x="220.9" y="570.9" font-size="7.5" text-anchor="middle" fill="#000" font-weight="normal" >15</text>
<text x="124.3" y="577.6" font-size="7.5" text-anchor="middle" fill="#000" font-weight="normal" >Time (sec)</text>
<text x="9.4" y="341" font-size="7.7" text-anchor="middle" fill="#000" font-weight="normal" transform="rotate(-90 9.4 341)" >Firing Rate (Hz)</text>
<text x="9.8" y="411.8" font-size="7.45" text-anchor="middle" fill="#000" transform="rotate(-90 9.8 411.8)">m<tspan font-size="5.2" dy="1.7">CaL</tspan></text>
<text x="10" y="469.5" font-size="7.45" text-anchor="middle" fill="#000" transform="rotate(-90 10 469.5)">G<tspan font-size="5.2" dy="1.7">eff</tspan><tspan dy="-1.7"> (μS/cm</tspan><tspan font-size="5" dy="-2.5">2</tspan><tspan dy="2.5">)</tspan></text>
<text x="10" y="527.3" font-size="7.45" text-anchor="middle" fill="#000" transform="rotate(-90 10 527.3)">Normalized F<tspan font-size="5.2" dy="1.7">T</tspan></text>
<text x="247.4" y="471" font-size="7.45" text-anchor="middle" fill="#000" transform="rotate(-90 247.4 471)">I<tspan font-size="5.2" dy="1.7">S</tspan><tspan dy="-1.7"> (nA)</tspan></text>
<line x1="31.5" y1="348" x2="31.5" y2="558.1" stroke="#555" stroke-width="0.7" stroke-dasharray="1.3,0.9"/>
<line x1="38.2" y1="362" x2="38.2" y2="558.1" stroke="#555" stroke-width="0.7" stroke-dasharray="1.3,0.9"/>
<line x1="40.5" y1="362" x2="40.5" y2="558.1" stroke="#555" stroke-width="0.7" stroke-dasharray="1.3,0.9"/>
<line x1="149.4" y1="362.5" x2="149.4" y2="558.1" stroke="#555" stroke-width="0.7" stroke-dasharray="1.3,0.9"/>
<line x1="162.5" y1="367" x2="162.5" y2="558.1" stroke="#555" stroke-width="0.7" stroke-dasharray="1.3,0.9"/>
<line x1="204.4" y1="359" x2="204.4" y2="558.1" stroke="#555" stroke-width="0.7" stroke-dasharray="1.3,0.9"/>
<line x1="47.5" y1="355" x2="47.5" y2="508.3" stroke="#444" stroke-width="0.75" />
<line x1="139" y1="465.2" x2="139" y2="508.3" stroke="#aaa" stroke-width="1.2" />
<line x1="47.5" y1="465.2" x2="139.5" y2="465.2" stroke="#999" stroke-width="1.2" />
<line x1="47.5" y1="508.3" x2="139.5" y2="508.3" stroke="#999" stroke-width="1.2" />
<circle cx="31.8" cy="348" r="0.75" fill="#154515"/>
<circle cx="32.1" cy="344" r="0.75" fill="#154515"/>
<path d="M32.7 341 L33.1 339.8 L33.5 338.8 L33.9 338.1 L34.4 337.6 L34.8 337.3 L35.3 337 L35.7 336.8 L36.2 336.7 L36.7 336.5 L37.2 336.4 L37.6 336.3 L38.1 336.1 L38.6 335.9 L39.1 335.7 L39.6 335.6 L40.1 335.4 L40.6 335.2 L41.1 335.1 L41.6 334.9 L42.1 334.7 L42.6 334.5 L43.1 334.4 L43.6 334.2 L44.1 334 L44.6 333.8 L45.1 333.7 L45.6 333.5 L46.1 333.3 L46.6 333.1 L47.1 332.9 L47.5 332.8 L48 332.6 L48.5 332.4 L49 332.2 L49.4 332 L49.9 331.8 L50.4 331.6 L50.9 331.4 L51.3 331.2 L51.8 331.1 L52.3 330.9 L52.8 330.7 L53.2 330.5 L53.7 330.3 L54.2 330.1 L54.7 329.9 L55.2 329.7 L55.6 329.5 L56.1 329.4 L56.6 329.2 L57.1 329 L57.5 328.8 L58 328.6 L58.5 328.4 L59 328.3 L59.4 328.1 L59.9 327.9 L60.4 327.7 L60.9 327.5 L61.3 327.3 L61.8 327.1 L62.3 326.9 L62.8 326.7 L63.3 326.5 L63.8 326.3 L64.3 326.1 L64.8 325.8 L65.3 325.6 L65.7 325.4 L66.2 325.2 L66.7 325 L67.2 324.7 L67.7 324.5 L68.2 324.2 L68.7 324 L69.2 323.7 L69.7 323.5 L70.2 323.2 L70.6 322.9 L71.1 322.6 L71.6 322.4 L72.1 322.1 L72.6 321.8 L73.1 321.5 L73.5 321.2 L74 320.8 L74.5 320.5 L75 320.2 L75.5 319.9 L76 319.6 L76.4 319.4 L76.9 319.1 L77.4 318.8 L77.9 318.5 L78.4 318.3 L78.8 318 L79.3 317.7 L79.8 317.5 L80.3 317.2 L80.7 317 L81.2 316.7 L81.7 316.5 L82.2 316.2 L82.6 316 L83.1 315.7 L83.6 315.5 L84.1 315.2 L84.5 315 L85 314.7 L85.5 314.5 L86 314.3 L86.5 314 L86.9 313.8 L87.4 313.5 L87.9 313.3 L88.3 313.1 L88.8 312.8 L89.3 312.6 L89.8 312.4 L90.2 312.1 L90.7 311.9 L91.2 311.6 L91.7 311.4 L92.1 311.2 L92.6 310.9 L93.1 310.7" fill="none" stroke="#154515" stroke-width="1.7" stroke-linejoin="round" stroke-linecap="round" />
<path d="M93.1 310.6 L93.6 310.9 L94.1 311.2 L94.6 311.5 L95.1 311.9 L95.5 312.2 L96 312.5 L96.5 312.8 L97 313.2 L97.5 313.5 L98 313.8 L98.5 314.1 L99 314.5 L99.5 314.8 L99.9 315.1 L100.4 315.5 L100.9 315.8 L101.4 316.1 L101.9 316.5 L102.4 316.8 L102.9 317.1 L103.4 317.4 L103.9 317.7 L104.4 318.1 L104.8 318.4 L105.3 318.7 L105.8 319 L106.3 319.3 L106.8 319.6 L107.3 319.9 L107.8 320.2 L108.3 320.4 L108.8 320.7 L109.2 321 L109.7 321.3 L110.2 321.5 L110.7 321.8 L111.2 322 L111.7 322.2 L112.2 322.5 L112.7 322.7 L113.2 322.9 L113.7 323.2 L114.1 323.4 L114.6 323.6 L115.1 323.8 L115.6 324 L116.1 324.2 L116.6 324.4 L117.1 324.6 L117.6 324.8 L118.1 325 L118.6 325.2 L119.1 325.4 L119.5 325.6 L120 325.8 L120.5 326 L121 326.2 L121.5 326.4 L122 326.6 L122.5 326.7 L123 326.9 L123.5 327.1 L124 327.3 L124.4 327.5 L124.9 327.6 L125.4 327.8 L125.9 328 L126.4 328.2 L126.9 328.3 L127.4 328.5 L127.9 328.7 L128.4 328.9 L128.9 329 L129.4 329.2 L129.8 329.4 L130.3 329.6 L130.8 329.8 L131.3 329.9 L131.8 330.1 L132.3 330.3 L132.8 330.5 L133.3 330.7 L133.8 330.8 L134.3 331 L134.8 331.2 L135.2 331.4 L135.7 331.6 L136.2 331.7 L136.7 331.9 L137.2 332.1 L137.7 332.3 L138.2 332.4 L138.7 332.6 L139.2 332.8 L139.7 333 L140.2 333.1 L140.7 333.3 L141.2 333.5 L141.6 333.6 L142.1 333.8 L142.6 334 L143.1 334.2 L143.6 334.3 L144.1 334.5 L144.6 334.7 L145.1 334.8 L145.6 335 L146.1 335.2 L146.6 335.3 L147.1 335.5 L147.5 335.7 L148 335.8 L148.5 336 L149 336.2 L149.5 336.3 L150 336.5 L150.5 336.7 L151 336.8 L151.5 337 L152 337.2 L152.5 337.3 L153 337.5 L153.5 337.6 L153.9 337.8 L154.4 337.9 L154.9 338.1 L155.4 338.3 L155.9 338.4 L156.4 338.6 L156.9 338.7 L157.4 338.9 L157.9 339 L158.4 339.2 L158.9 339.3 L159.4 339.5 L159.9 339.7 L160.4 339.8 L160.8 340 L161.3 340.1 L161.8 340.3 L162.3 340.4 L162.8 340.6 L163.3 340.7 L163.8 340.9 L164.3 341 L164.8 341.2 L165.3 341.4 L165.8 341.5 L166.3 341.7 L166.8 341.8 L167.3 342 L167.7 342.1 L168.2 342.3 L168.7 342.5 L169.2 342.6 L169.7 342.8 L170.2 343 L170.7 343.1 L171.2 343.3 L171.7 343.5 L172.2 343.6 L172.7 343.8 L173.2 344 L173.7 344.1 L174.1 344.3 L174.6 344.5 L175.1 344.6 L175.6 344.8 L176.1 345 L176.6 345.1 L177.1 345.3 L177.6 345.5 L178.1 345.6 L178.6 345.8 L179.1 346 L179.5 346.1 L180 346.3 L180.5 346.5 L181 346.6 L181.5 346.8 L182 347 L182.5 347.2 L183 347.3 L183.5 347.5 L184 347.7 L184.4 347.9 L184.9 348.1 L185.4 348.2 L185.9 348.4 L186.4 348.6 L186.9 348.8 L187.4 349 L187.9 349.2 L188.4 349.4 L188.9 349.6 L189.4 349.8 L189.8 350 L190.3 350.2 L190.8 350.4 L191.3 350.6 L191.8 350.8 L192.3 351 L192.8 351.2 L193.3 351.4 L193.8 351.6 L194.3 351.9 L194.8 352.1 L195.3 352.3 L195.8 352.5 L196.3 352.7 L196.8 353 L197.3 353.2 L197.8 353.5 L198.3 353.8 L198.8 354 L199.3 354.3 L199.8 354.6 L200.3 355 L200.8 355.3 L201.3 355.7 L201.8 356.1 L202.3 356.7 L202.8 357.2 L203.3 357.7 L203.8 358.3 L204.3 358.8" fill="none" stroke="#154515" stroke-width="1.7" stroke-linejoin="round" stroke-linecap="round" />
<path d="M39.3 362.1 L39.8 361.7 L40.2 361.3 L40.7 361 L41.2 360.6 L41.6 360.2 L42.1 359.8 L42.6 359.4 L43 359 L43.5 358.6 L44 358.2 L44.4 357.8 L44.9 357.4 L45.3 356.9 L45.8 356.5 L46.2 356 L46.6 355.5 L47.1 355 L47.6 354.4 L48.1 353.6 L48.6 352.9 L49 352 L49.5 351.2 L50 350.4 L50.5 349.6 L51 348.8 L51.5 348.1 L52 347.3 L52.4 346.6 L52.9 345.8 L53.4 345 L53.9 344.2 L54.4 343.3 L54.8 342.3 L55.3 341.4 L55.8 340.4 L56.3 339.5 L56.8 338.6 L57.2 337.7 L57.7 336.9 L58.2 336.1 L58.7 335.4 L59.2 334.7 L59.6 334 L60.1 333.4 L60.6 332.7 L61 332.1 L61.5 331.5 L62 330.9 L62.5 330.4 L63 329.9 L63.4 329.4 L63.9 328.9 L64.4 328.5 L64.9 328 L65.3 327.7 L65.8 327.3 L66.3 326.9 L66.8 326.6 L67.3 326.2 L67.7 325.9 L68.2 325.6 L68.7 325.2 L69.2 324.8 L69.7 324.5 L70.2 324.1 L70.6 323.7 L71.1 323.4 L71.6 323 L72.1 322.7 L72.6 322.3 L73.1 321.9 L73.5 321.6 L74 321.2 L74.5 320.9 L75 320.5 L75.5 320.1 L75.9 319.8 L76.4 319.4 L76.9 319.1 L77.4 318.7 L77.8 318.4 L78.3 318 L78.8 317.7 L79.3 317.3 L79.7 317 L80.2 316.6 L80.7 316.2 L81.2 315.9 L81.7 315.5 L82.2 315.1 L82.7 314.8 L83.2 314.4 L83.7 314 L84.2 313.7 L84.7 313.3 L85.2 312.9 L85.7 312.6 L86.2 312.2 L86.7 311.8 L87.1 311.5 L87.6 311.1 L88.1 310.7 L88.6 310.4 L89.1 310 L89.6 309.7 L90.1 309.3 L90.6 308.9 L91.1 308.6 L91.6 308.2 L92.1 307.8 L92.6 307.5 L93.1 307.1" fill="none" stroke="#154515" stroke-width="1.6" stroke-linejoin="round" stroke-linecap="round" />
<path d="M93.1 307.1 L93.6 307.5 L94.1 307.9 L94.6 308.2 L95.1 308.6 L95.5 309 L96 309.4 L96.5 309.8 L97 310.2 L97.5 310.6 L98 311 L98.5 311.3 L99 311.7 L99.5 312.1 L99.9 312.5 L100.4 312.9 L100.9 313.3 L101.4 313.7 L101.9 314.1 L102.4 314.4 L102.9 314.8 L103.4 315.2 L103.9 315.6 L104.4 316 L104.8 316.4 L105.3 316.8 L105.8 317.1 L106.3 317.5 L106.8 317.9 L107.3 318.3 L107.8 318.6 L108.3 319 L108.8 319.4 L109.2 319.7 L109.7 320.1 L110.2 320.5 L110.7 320.8 L111.2 321.2 L111.7 321.6 L112.2 321.9 L112.7 322.3 L113.1 322.6 L113.6 322.9 L114.1 323.3 L114.6 323.6 L115.1 323.9 L115.6 324.3 L116.1 324.6 L116.5 324.9 L117 325.3 L117.5 325.6 L118 325.9 L118.5 326.2 L119 326.6 L119.5 326.9 L120 327.2 L120.4 327.6 L120.9 327.9 L121.4 328.2 L121.9 328.6 L122.4 328.9 L122.9 329.2 L123.4 329.6 L123.8 329.9 L124.3 330.3 L124.8 330.6 L125.3 331 L125.8 331.4 L126.3 331.7 L126.8 332.1 L127.2 332.4 L127.7 332.8 L128.2 333.2 L128.7 333.5 L129.2 333.9 L129.7 334.3 L130.2 334.6 L130.6 335 L131.1 335.4 L131.6 335.8 L132.1 336.1 L132.6 336.5 L133.1 336.9 L133.6 337.3 L134.1 337.7 L134.5 338.1 L135 338.5 L135.5 338.9 L136 339.3 L136.5 339.7 L137 340.1 L137.5 340.6 L137.9 341 L138.4 341.4 L138.9 341.9 L139.4 342.3 L139.9 342.8 L140.4 343.2 L140.9 343.7 L141.4 344.2 L141.9 344.7 L142.4 345.3 L142.9 345.8 L143.4 346.3 L143.9 346.8 L144.4 347.4 L144.8 347.9 L145.3 348.5 L145.8 349 L146.3 349.6 L146.8 350.2 L147.3 350.7 L147.8 351.3 L148.3 351.8 L148.8 352.4 L149.3 352.9 L149.8 353.4 L150.3 354 L150.8 354.6 L151.3 355.1 L151.8 355.7 L152.3 356.2 L152.8 356.8 L153.3 357.3 L153.8 357.9 L154.3 358.5 L154.8 359 L155.3 359.6 L155.8 360.1 L156.3 360.7" fill="none" stroke="#154515" stroke-width="1.6" stroke-linejoin="round" stroke-linecap="round" />
<circle cx="158.2" cy="363.8" r="0.75" fill="#154515"/>
<circle cx="160.3" cy="366.5" r="0.75" fill="#154515"/>
<circle cx="162.3" cy="368.2" r="0.75" fill="#154515"/>
<path d="M39.3 362.1 L39.8 361.6 L40.2 361.2 L40.7 360.7 L41.1 360.2 L41.6 359.7 L42.1 359.3 L42.5 358.8 L43 358.4 L43.5 358 L43.9 357.6 L44.4 357.2 L44.8 356.8 L45.3 356.5 L45.7 356.1 L46.2 355.8 L46.6 355.5 L47.1 355.2 L47.6 354.9 L48.1 354.6 L48.6 354.3 L49.1 354.1 L49.6 353.8 L50.1 353.6 L50.6 353.3 L51.1 353.1 L51.6 352.9 L52.1 352.6 L52.5 352.4 L53 352.2 L53.5 352 L54 351.8 L54.5 351.6 L55 351.3 L55.5 351.1 L56 350.9 L56.5 350.7 L57 350.5 L57.5 350.2 L58 350 L58.5 349.8 L59 349.5 L59.5 349.3 L60 349 L60.5 348.8 L61 348.6 L61.4 348.3 L61.9 348.1 L62.4 347.9 L62.9 347.6 L63.4 347.4 L63.9 347.1 L64.4 346.9 L64.9 346.7 L65.4 346.4 L65.9 346.2 L66.4 345.9 L66.9 345.7 L67.3 345.4 L67.8 345.2 L68.3 345 L68.8 344.7 L69.3 344.5 L69.8 344.2 L70.3 344 L70.8 343.8 L71.3 343.5 L71.8 343.3 L72.2 343 L72.7 342.8 L73.2 342.6 L73.7 342.3 L74.2 342.1 L74.7 341.8 L75.2 341.6 L75.7 341.4 L76.2 341.1 L76.6 340.9 L77.1 340.6 L77.6 340.4 L78.1 340.2 L78.6 339.9 L79.1 339.7 L79.6 339.4 L80 339.2 L80.5 338.9 L81 338.7 L81.5 338.4 L82 338.2 L82.5 338 L83 337.7 L83.4 337.5 L83.9 337.2 L84.4 337 L84.9 336.7 L85.4 336.5 L85.9 336.2 L86.3 336 L86.8 335.7 L87.3 335.5 L87.8 335.2 L88.3 335 L88.8 334.7 L89.2 334.5 L89.7 334.2 L90.2 334 L90.7 333.7 L91.2 333.5 L91.7 333.2 L92.1 333 L92.6 332.7 L93.1 332.5" fill="none" stroke="#154515" stroke-width="1.6" stroke-linejoin="round" stroke-linecap="round" />
<path d="M93.1 332.5 L93.6 332.7 L94.1 332.8 L94.6 332.9 L95.1 333.1 L95.5 333.2 L96 333.4 L96.5 333.5 L97 333.7 L97.5 333.8 L98 333.9 L98.5 334.1 L99 334.2 L99.5 334.4 L99.9 334.5 L100.4 334.6 L100.9 334.8 L101.4 334.9 L101.9 335.1 L102.4 335.2 L102.9 335.4 L103.4 335.5 L103.9 335.6 L104.4 335.8 L104.8 335.9 L105.3 336.1 L105.8 336.2 L106.3 336.4 L106.8 336.6 L107.3 336.7 L107.8 336.9 L108.3 337 L108.8 337.2 L109.2 337.4 L109.7 337.6 L110.2 337.7 L110.7 337.9 L111.2 338.1 L111.7 338.3 L112.2 338.5 L112.7 338.7 L113.2 338.9 L113.7 339.1 L114.1 339.3 L114.6 339.5 L115.1 339.7 L115.6 339.9 L116.1 340.1 L116.6 340.3 L117.1 340.6 L117.6 340.8 L118.1 341 L118.6 341.3 L119.1 341.5 L119.5 341.7 L120 342 L120.5 342.2 L121 342.5 L121.5 342.7 L122 342.9 L122.5 343.2 L123 343.5 L123.5 343.7 L124 344 L124.4 344.2 L124.9 344.5 L125.4 344.8 L125.9 345 L126.4 345.3 L126.9 345.6 L127.4 345.8 L127.9 346.1 L128.4 346.4 L128.9 346.7 L129.4 347 L129.8 347.3 L130.3 347.5 L130.8 347.8 L131.3 348.1 L131.8 348.4 L132.3 348.7 L132.8 349 L133.3 349.3 L133.8 349.6 L134.3 349.9 L134.8 350.2 L135.3 350.5 L135.8 350.8 L136.3 351.1 L136.8 351.4 L137.2 351.7 L137.7 352 L138.2 352.4 L138.7 352.7 L139.2 353.1 L139.7 353.5 L140.2 353.9 L140.7 354.3 L141.2 354.8 L141.7 355.2 L142.2 355.7 L142.6 356.2 L143.1 356.8 L143.5 357.4 L144 358 L144.4 358.7 L144.9 359.4 L145.3 360" fill="none" stroke="#154515" stroke-width="1.6" stroke-linejoin="round" stroke-linecap="round" />
<circle cx="146.8" cy="362.3" r="0.75" fill="#154515"/>
<circle cx="148.5" cy="364.2" r="0.75" fill="#154515"/>
<text x="125.5" y="311.3" font-size="7.35" text-anchor="start" fill="#000" font-weight="normal" >Intermediate</text>
<text x="179" y="319.8" font-size="7.35" text-anchor="start" fill="#000" font-weight="normal" >Distal</text>
<text x="191" y="331.8" font-size="7.35" text-anchor="start" fill="#000" font-weight="normal" >Proximal</text>
<line x1="123.2" y1="307.8" x2="104.96" y2="310.43" stroke="#000" stroke-width="0.7" />
<path d="M101 311 L104.73 308.85 L105.19 312.01 Z" fill="#000"/>
<line x1="138.3" y1="313.4" x2="138.3" y2="334.1" stroke="#000" stroke-width="0.7" />
<path d="M138.3 338.1 L136.7 334.1 L139.9 334.1 Z" fill="#000"/>
<line x1="182.5" y1="320.7" x2="159.07" y2="334.2" stroke="#000" stroke-width="0.7" />
<path d="M155.6 336.2 L158.27 332.82 L159.86 335.59 Z" fill="#000"/>
<line x1="188.8" y1="329.2" x2="148.91" y2="353.61" stroke="#000" stroke-width="0.7" />
<path d="M145.5 355.7 L148.08 352.25 L149.75 354.98 Z" fill="#000"/>
<path d="M29.4 441.5 L29.8 440.8 L30.1 439.9 L30.6 435.4 L31 427.1 L31.5 417.3 L32 401.8 L32.5 389.1 L33 385.3 L33.4 382.7 L33.9 381.4 L34.3 380.9 L34.8 380.5 L35.2 380.2 L35.6 379.9 L36.1 379.8 L36.5 379.7 L37 379.6 L37.5 379.6 L38 379.6 L38.5 379.5 L39 379.5 L39.5 379.5 L40 379.5 L40.5 379.5 L41 379.5 L41.5 379.5 L42 379.5 L42.5 379.5 L43 379.5 L43.5 379.5 L44 379.5 L44.5 379.5 L45 379.5 L45.5 379.5 L46 379.5 L46.5 379.5 L47 379.5 L47.5 379.5 L48 379.5 L48.5 379.5 L49 379.5 L49.5 379.5 L50 379.5 L50.5 379.5 L51 379.5 L51.5 379.5 L52 379.5 L52.5 379.5 L53 379.5 L53.5 379.5 L54 379.5 L54.5 379.5 L55 379.5 L55.5 379.5 L56 379.5 L56.5 379.5 L57 379.5 L57.5 379.5 L58 379.5 L58.5 379.5 L59 379.5 L59.5 379.5 L60 379.5 L60.5 379.5 L61 379.5 L61.5 379.5 L62 379.5 L62.5 379.5 L62.9 379.5 L63.4 379.5 L63.9 379.5 L64.4 379.5 L64.9 379.5 L65.4 379.5 L65.9 379.5 L66.4 379.5 L66.9 379.5 L67.4 379.5 L67.9 379.5 L68.4 379.5 L68.9 379.5 L69.4 379.5 L69.9 379.5 L70.4 379.5 L70.9 379.5 L71.4 379.5 L71.9 379.5 L72.4 379.5 L72.9 379.5 L73.4 379.5 L73.9 379.5 L74.4 379.5 L74.9 379.5 L75.4 379.5 L75.9 379.5 L76.4 379.5 L76.9 379.5 L77.4 379.5 L77.9 379.5 L78.4 379.5 L78.9 379.5 L79.4 379.5 L79.9 379.5 L80.4 379.5 L80.9 379.5 L81.4 379.5 L81.9 379.5 L82.4 379.5 L82.9 379.5 L83.4 379.5 L83.9 379.5 L84.4 379.5 L84.9 379.5 L85.4 379.5 L85.9 379.5 L86.4 379.5 L86.9 379.5 L87.4 379.5 L87.9 379.5 L88.4 379.5 L88.9 379.5 L89.4 379.5 L89.9 379.5 L90.4 379.5 L90.9 379.5 L91.4 379.5 L91.9 379.5 L92.4 379.5 L92.9 379.5 L93.4 379.5 L93.9 379.5 L94.4 379.5 L94.9 379.5 L95.4 379.5 L95.9 379.5 L96.4 379.5 L96.9 379.5 L97.4 379.5 L97.9 379.5 L98.4 379.5 L98.9 379.5 L99.4 379.5 L99.9 379.5 L100.4 379.5 L100.9 379.5 L101.4 379.5 L101.9 379.5 L102.4 379.5 L102.9 379.5 L103.4 379.5 L103.9 379.5 L104.4 379.5 L104.9 379.5 L105.4 379.5 L105.9 379.5 L106.4 379.5 L106.9 379.5 L107.4 379.5 L107.9 379.5 L108.3 379.5 L108.8 379.5 L109.3 379.5 L109.8 379.5 L110.3 379.5 L110.8 379.5 L111.3 379.5 L111.8 379.5 L112.3 379.5 L112.8 379.5 L113.3 379.5 L113.8 379.5 L114.3 379.5 L114.8 379.5 L115.3 379.5 L115.8 379.5 L116.3 379.5 L116.8 379.5 L117.3 379.5 L117.8 379.5 L118.3 379.5 L118.8 379.5 L119.3 379.5 L119.8 379.5 L120.3 379.5 L120.8 379.5 L121.3 379.5 L121.8 379.5 L122.3 379.5 L122.8 379.5 L123.3 379.5 L123.8 379.5 L124.3 379.5 L124.8 379.5 L125.3 379.5 L125.8 379.5 L126.3 379.5 L126.8 379.5 L127.3 379.5 L127.8 379.5 L128.3 379.5 L128.8 379.5 L129.3 379.5 L129.8 379.5 L130.3 379.5 L130.8 379.5 L131.3 379.5 L131.8 379.5 L132.3 379.5 L132.8 379.5 L133.3 379.5 L133.8 379.5 L134.3 379.5 L134.8 379.5 L135.3 379.5 L135.8 379.5 L136.3 379.5 L136.8 379.5 L137.3 379.5 L137.8 379.5 L138.3 379.5 L138.8 379.5 L139.3 379.5 L139.8 379.5 L140.3 379.5 L140.8 379.5 L141.3 379.5 L141.8 379.5 L142.3 379.5 L142.8 379.5 L143.3 379.5 L143.8 379.5 L144.3 379.5 L144.8 379.5 L145.3 379.5 L145.8 379.5 L146.3 379.5 L146.8 379.5 L147.3 379.5 L147.8 379.5 L148.3 379.5 L148.8 379.5 L149.3 379.5 L149.8 379.5 L150.3 379.5 L150.8 379.5 L151.3 379.5 L151.8 379.5 L152.3 379.5 L152.8 379.5 L153.3 379.5 L153.7 379.5 L154.2 379.5 L154.7 379.5 L155.2 379.5 L155.7 379.5 L156.2 379.5 L156.7 379.5 L157.2 379.5 L157.7 379.5 L158.2 379.5 L158.7 379.5 L159.2 379.5 L159.7 379.5 L160.2 379.5 L160.7 379.5 L161.2 379.5 L161.7 379.5 L162.2 379.5 L162.7 379.5 L163.2 379.5 L163.7 379.5 L164.2 379.5 L164.7 379.5 L165.2 379.5 L165.7 379.5 L166.2 379.5 L166.7 379.5 L167.2 379.5 L167.7 379.5 L168.2 379.5 L168.7 379.5 L169.2 379.5 L169.7 379.5 L170.2 379.5 L170.7 379.5 L171.2 379.5 L171.7 379.5 L172.2 379.5 L172.7 379.5 L173.2 379.5 L173.7 379.5 L174.2 379.5 L174.7 379.5 L175.2 379.5 L175.7 379.5 L176.2 379.5 L176.7 379.5 L177.2 379.5 L177.7 379.5 L178.2 379.5 L178.7 379.5 L179.2 379.5 L179.7 379.5 L180.2 379.5 L180.7 379.5 L181.2 379.5 L181.7 379.5 L182.2 379.5 L182.7 379.5 L183.2 379.5 L183.7 379.5 L184.2 379.5 L184.7 379.5 L185.2 379.5 L185.7 379.5 L186.2 379.5 L186.7 379.5 L187.2 379.5 L187.7 379.5 L188.2 379.5 L188.7 379.5 L189.2 379.5 L189.7 379.5 L190.2 379.5 L190.7 379.5 L191.2 379.5 L191.7 379.5 L192.2 379.5 L192.7 379.5 L193.2 379.5 L193.7 379.5 L194.2 379.5 L194.7 379.5 L195.2 379.5 L195.7 379.5 L196.2 379.5 L196.7 379.5 L197.2 379.5 L197.7 379.5 L198.2 379.5 L198.7 379.5 L199.1 379.5 L199.6 379.5 L200.1 379.5 L200.6 379.5 L201.1 379.5 L201.6 379.5 L202.1 379.5 L202.6 379.5 L203.1 379.5 L203.6 379.5 L204.1 379.5 L204.6 379.5 L205.1 379.5 L205.6 379.5 L206.1 379.5 L206.6 379.5 L207.1 379.5 L207.6 379.5 L208.1 379.5 L208.6 379.5 L209.1 379.5 L209.6 379.5 L210.1 379.5 L210.6 379.5 L211.1 379.5 L211.6 379.5 L212.1 379.5 L212.6 379.5 L213.1 379.5 L213.6 379.5 L214.1 379.5 L214.6 379.5 L215.1 379.5 L215.6 379.5 L216.1 379.5 L216.6 379.5 L217.1 379.5 L217.6 379.5 L218.1 379.5 L218.6 379.5 L219.1 379.5 L219.6 379.5 L220.1 379.5 L220.6 379.5 L221.1 379.5 L221.6 379.5" fill="none" stroke="#000" stroke-width="0.8" stroke-linejoin="round" stroke-linecap="round" />
<line x1="185" y1="442.9" x2="221.6" y2="442.9" stroke="#333" stroke-width="0.8" />
<path d="M29.4 440.6 L29.9 440.3 L30.3 440.1 L30.8 439.8 L31.3 439.6 L31.8 439.3 L32.2 439.1 L32.7 438.8 L33.2 438.5 L33.7 438.2 L34.1 437.9 L34.6 437.5 L35.1 437.1 L35.6 436.6 L36 436 L36.5 435.4 L37 434.6 L37.4 433.8 L37.9 432.9 L38.2 432.2 L38.5 431.4" fill="none" stroke="#000" stroke-width="0.8" stroke-linejoin="round" stroke-linecap="round" />
<path d="M38.5 431.6 L39 431.4 L39.4 431.2 L39.9 431 L40.3 430.8 L40.8 430.6 L41.2 430.4 L41.6 430.2 L42.1 430 L42.6 429.7 L43.1 429.5 L43.6 429.2 L44.1 428.9 L44.6 428.6 L45.1 428.2 L45.6 427.8 L46.1 427.4 L46.6 427 L47.1 426.5 L47.6 425.9 L48.1 425.2 L48.6 424.4 L49.1 423.5 L49.5 422.5 L50 421.5 L50.5 420.4 L51 419.4 L51.5 418.3 L52 417.3 L52.5 416.3 L52.9 415.3 L53.4 414.2 L53.9 413.1 L54.3 412 L54.8 410.8 L55.3 409.8 L55.7 408.7 L56.2 407.7 L56.7 406.8 L57.1 406 L57.6 405.3 L58.1 404.7 L58.5 404.1 L59 403.5 L59.5 403 L60 402.5 L60.5 402 L60.9 401.6 L61.4 401.2 L61.9 400.8 L62.3 400.4 L62.8 400 L63.3 399.7 L63.8 399.4 L64.3 399 L64.8 398.7 L65.3 398.4 L65.8 398.1 L66.3 397.8 L66.8 397.6 L67.3 397.3 L67.8 397 L68.2 396.8 L68.7 396.5 L69.2 396.3 L69.7 396.1 L70.2 395.8 L70.7 395.6 L71.2 395.5 L71.7 395.3 L72.2 395.1 L72.7 394.9 L73.2 394.8 L73.7 394.7 L74.2 394.5 L74.7 394.4 L75.1 394.3 L75.6 394.2 L76.1 394.1 L76.6 394 L77.1 393.9 L77.6 393.8 L78.1 393.7 L78.6 393.6 L79 393.5 L79.5 393.4 L80 393.3 L80.5 393.2 L81 393.2 L81.5 393.1 L82 393 L82.5 392.9 L82.9 392.8 L83.4 392.8 L83.9 392.7 L84.4 392.6 L84.9 392.5 L85.4 392.4 L85.9 392.3 L86.3 392.2 L86.8 392.1 L87.3 392 L87.8 391.9 L88.3 391.8 L88.8 391.7 L89.2 391.7 L89.7 391.6 L90.2 391.5 L90.7 391.4 L91.2 391.4 L91.7 391.3 L92.1 391.3 L92.6 391.2 L93.1 391.2 L93.6 391.2 L94.1 391.2 L94.6 391.2 L95.1 391.3 L95.6 391.3 L96.1 391.3 L96.6 391.4 L97.1 391.5 L97.6 391.5 L98.1 391.6 L98.6 391.7 L99.1 391.8 L99.6 391.9 L100.1 392 L100.6 392.1 L101.1 392.3 L101.6 392.4 L102.1 392.5 L102.6 392.6 L103.1 392.8 L103.6 392.9 L104.1 393 L104.6 393.2 L105.1 393.3 L105.6 393.4 L106.1 393.6 L106.6 393.7 L107.1 393.8 L107.6 394 L108.1 394.1 L108.6 394.2 L109.1 394.4 L109.6 394.5 L110.1 394.6 L110.6 394.8 L111.1 394.9 L111.5 395 L112 395.2 L112.5 395.3 L113 395.5 L113.5 395.6 L114 395.8 L114.5 395.9 L115 396.1 L115.5 396.3 L116 396.4 L116.5 396.6 L117 396.8 L117.4 396.9 L117.9 397.1 L118.4 397.3 L118.9 397.5 L119.4 397.6 L119.9 397.8 L120.4 398 L120.9 398.2 L121.4 398.4 L121.9 398.6 L122.4 398.8 L122.9 399 L123.3 399.2 L123.8 399.4 L124.3 399.6 L124.8 399.8 L125.3 400 L125.8 400.2 L126.3 400.4 L126.8 400.6 L127.3 400.8 L127.8 401.1 L128.2 401.3 L128.7 401.5 L129.2 401.8 L129.7 402 L130.2 402.3 L130.7 402.6 L131.1 402.8 L131.6 403.1 L132.1 403.4 L132.6 403.7 L133.1 403.9 L133.6 404.2 L134 404.5 L134.5 404.7 L135 405 L135.5 405.3 L136 405.5 L136.5 405.8 L137 406.1 L137.5 406.4 L138 406.7 L138.5 406.9 L139 407.2 L139.5 407.5 L140 407.8 L140.5 408.1 L140.9 408.4 L141.4 408.6 L141.9 408.9 L142.3 409.2 L142.8 409.5 L143.2 409.8 L143.7 410.1 L144.2 410.4 L144.6 410.7 L145.1 411 L145.6 411.3 L146.1 411.7 L146.6 412 L147.1 412.3 L147.5 412.7 L148 413.1 L148.5 413.4 L149 413.8 L149.5 414.2 L149.9 414.6 L150.4 415 L150.8 415.3 L151.3 415.8 L151.8 416.2 L152.2 416.6 L152.7 417.1 L153.1 417.6 L153.5 418.1 L154 418.7 L154.4 419.4 L154.9 420.1 L155.3 420.8 L155.8 421.4 L156.2 422.1 L156.7 422.8 L157.2 423.6 L157.7 424.3 L158.2 425 L158.7 425.8 L159.2 426.5 L159.7 427.3 L160.2 428" fill="none" stroke="#000" stroke-width="1.3" stroke-linejoin="round" stroke-linecap="round" />
<path d="M160.2 428 L160.7 428.4 L161.2 428.9 L161.7 429.3 L162.2 429.7 L162.7 430.1 L163.2 430.6 L163.7 431 L164.2 431.5 L164.7 432 L165.1 432.5 L165.6 433 L166 433.6 L166.5 434.1 L166.9 434.7 L167.4 435.3 L167.8 435.8 L168.3 436.3 L168.8 436.9 L169.3 437.4 L169.8 438 L170.3 438.6 L170.8 439.1 L171.3 439.6 L171.8 440 L172.3 440.3 L172.8 440.5 L173.3 440.7 L173.8 440.9 L174.3 441.1 L174.8 441.3 L175.3 441.4 L175.8 441.5 L176.3 441.6 L176.8 441.7 L177.3 441.8 L177.8 441.9 L178.3 441.9 L178.8 442 L179.3 442 L179.7 442.1 L180.2 442.1 L180.7 442.2 L181.2 442.2 L181.7 442.3 L182.2 442.3 L182.7 442.4 L183.2 442.4 L183.7 442.4 L184.1 442.5 L184.6 442.5 L185.1 442.5 L185.6 442.6 L186.1 442.6 L186.6 442.6 L187.1 442.6 L187.6 442.6 L188 442.7 L188.5 442.7 L189 442.7 L189.5 442.7 L190 442.7 L190.5 442.7 L191 442.7 L191.5 442.7 L192 442.7 L192.5 442.7 L193 442.7 L193.5 442.7 L193.9 442.7 L194.4 442.8 L194.9 442.8 L195.4 442.8 L195.9 442.8 L196.4 442.8 L196.9 442.8 L197.4 442.8 L197.9 442.8 L198.4 442.8 L198.9 442.8 L199.4 442.8 L199.9 442.8 L200.4 442.8 L200.9 442.8 L201.4 442.8 L201.8 442.8 L202.3 442.8 L202.8 442.8 L203.3 442.8 L203.8 442.8 L204.3 442.8 L204.8 442.8 L205.3 442.8 L205.8 442.8 L206.3 442.8 L206.8 442.8 L207.3 442.8 L207.8 442.8 L208.3 442.8 L208.8 442.8 L209.3 442.8 L209.8 442.8 L210.2 442.8 L210.7 442.8 L211.2 442.9 L211.7 442.9 L212.2 442.9 L212.7 442.9 L213.2 442.9 L213.7 442.9 L214.2 442.9 L214.7 442.9 L215.2 442.9 L215.7 442.9 L216.2 442.9 L216.7 442.9 L217.2 442.9 L217.7 442.9 L218.1 442.9 L218.6 442.9 L219.1 442.9 L219.6 442.9 L220.1 442.9 L220.6 442.9 L221.1 442.9 L221.6 442.9" fill="none" stroke="#000" stroke-width="0.8" stroke-linejoin="round" stroke-linecap="round" />
<path d="M38.5 431.6 L38.9 432.2 L39.4 432.9 L39.8 433.6 L40.3 434.1 L40.7 434.5 L41.2 434.8 L41.6 435 L42.1 435.3 L42.6 435.5 L43.1 435.6 L43.5 435.7 L44 435.8 L44.5 435.8 L44.9 435.9 L45.4 435.9 L45.9 435.9 L46.4 435.9 L46.8 436 L47.3 436 L47.8 436 L48.3 436 L48.7 436 L49.2 436 L49.7 436 L50.2 436 L50.7 436 L51.2 436 L51.7 435.9 L52.1 435.9 L52.6 435.9 L53.1 435.9 L53.6 435.8 L54.1 435.8 L54.6 435.7 L55.1 435.7 L55.6 435.6 L56.1 435.6 L56.6 435.6 L57.1 435.5 L57.5 435.5 L58 435.4 L58.5 435.4 L59 435.3 L59.5 435.2 L60 435.2 L60.5 435.1 L61 435.1 L61.5 435 L62 435 L62.5 434.9 L62.9 434.8 L63.4 434.8 L63.9 434.7 L64.4 434.6 L64.9 434.6 L65.4 434.5 L65.9 434.4 L66.4 434.3 L66.9 434.2 L67.4 434.1 L67.8 434.1 L68.3 434 L68.8 433.9 L69.3 433.8 L69.8 433.7 L70.3 433.6 L70.8 433.5 L71.3 433.4 L71.8 433.3 L72.2 433.2 L72.7 433.1 L73.2 433 L73.7 432.9 L74.2 432.7 L74.7 432.6 L75.2 432.5 L75.7 432.4 L76.2 432.2 L76.6 432.1 L77.1 432 L77.6 431.8 L78.1 431.7 L78.6 431.6 L79.1 431.4 L79.6 431.3 L80 431.2 L80.5 431 L81 430.9 L81.5 430.7 L82 430.6 L82.5 430.5 L83 430.3 L83.5 430.2 L83.9 430 L84.4 429.9 L84.9 429.7 L85.4 429.6 L85.9 429.4 L86.3 429.3 L86.8 429.1 L87.3 429 L87.8 428.8 L88.3 428.6 L88.8 428.5 L89.2 428.3 L89.7 428.2 L90.2 428 L90.7 427.8 L91.2 427.7 L91.7 427.5 L92.1 427.4 L92.6 427.2 L93.1 427.1 L93.6 426.9" fill="none" stroke="#000" stroke-width="2.6" stroke-linejoin="round" stroke-linecap="round" />
<path d="M93.6 426.9 L108.1 430.4 L126.3 434 L146.3 436.7" fill="none" stroke="#000" stroke-width="2.6" stroke-linejoin="miter" stroke-linejoin="round"/>
<path d="M146.5 436.5 L147 435.6 L147.5 434.6 L148 433.8 L148.5 433.5 L149 434 L149.5 435.1 L150 436.3 L150.5 437 L151 437.3 L151.5 437.7 L152 438 L152.5 438.2 L153 438.5 L153.5 438.7 L154 438.9 L154.5 439.1 L155 439.3 L155.5 439.5 L156 439.6 L156.5 439.8 L157 439.9 L157.5 440 L158 440.1 L158.5 440.2 L159 440.3 L159.5 440.4 L160 440.5 L160.5 440.6 L161 440.7 L161.5 440.8 L162 440.8 L162.5 440.9 L163 441 L163.5 441.1 L164 441.2 L164.5 441.2 L165 441.3 L165.5 441.4 L166 441.4 L166.5 441.5 L167 441.6 L167.5 441.6 L168 441.7 L168.5 441.7 L169 441.8 L169.5 441.8 L170 441.9 L170.5 441.9 L171 442 L171.5 442 L172 442 L172.5 442.1 L173 442.1 L173.5 442.1 L174 442.2 L174.5 442.2 L175 442.2 L175.5 442.2 L176 442.2 L176.5 442.3 L177 442.3 L177.5 442.3 L178 442.3 L178.5 442.3 L179 442.3 L179.5 442.4 L180 442.4 L180.5 442.4 L181 442.4 L181.5 442.4 L182 442.4 L182.5 442.4 L183 442.5 L183.5 442.5 L184 442.5 L184.5 442.5 L185 442.5 L185.5 442.5 L186 442.5 L186.5 442.5 L187 442.5 L187.5 442.6 L188 442.6 L188.5 442.6 L189 442.6 L189.5 442.6 L190 442.6 L190.5 442.6 L191 442.6 L191.5 442.6 L192 442.6 L192.5 442.6 L193 442.7 L193.5 442.7 L194 442.7 L194.5 442.7 L195 442.7 L195.5 442.7 L196 442.7 L196.5 442.7 L197 442.7 L197.5 442.7 L198 442.8 L198.5 442.8 L199 442.8 L199.5 442.8 L200 442.8" fill="none" stroke="#000" stroke-width="0.8" stroke-linejoin="round" stroke-linecap="round" />
<text x="172.1" y="396" font-size="7.35" text-anchor="start" fill="#000" font-weight="normal" >Distal</text>
<text x="172.1" y="407.1" font-size="7.35" text-anchor="start" fill="#000" font-weight="normal" >Intermediate</text>
<text x="172.1" y="417.7" font-size="7.35" text-anchor="start" fill="#000" font-weight="normal" >Proximal</text>
<line x1="171.4" y1="390.4" x2="159.47" y2="382" stroke="#000" stroke-width="0.7" />
<path d="M156.2 379.7 L160.39 380.69 L158.55 383.31 Z" fill="#000"/>
<line x1="170.6" y1="406.6" x2="157.82" y2="414.33" stroke="#000" stroke-width="0.7" />
<path d="M154.4 416.4 L156.99 412.96 L158.65 415.7 Z" fill="#000"/>
<line x1="171.4" y1="413.2" x2="159.91" y2="435.83" stroke="#000" stroke-width="0.7" />
<path d="M158.1 439.4 L158.48 435.11 L161.34 436.56 Z" fill="#000"/>
<path d="M29.4 468.6 L93.3 455.2 L221.6 482.2" fill="none" stroke="#000" stroke-width="0.8" stroke-linejoin="miter" />
<line x1="29.4" y1="456.7" x2="221.6" y2="456.7" stroke="#8aaa8a" stroke-width="1.5" />
<line x1="29.4" y1="558.1" x2="38.5" y2="558.1" stroke="#4a7a4a" stroke-width="1" />
<line x1="151.2" y1="558.1" x2="221.6" y2="558.1" stroke="#4a7a4a" stroke-width="1" />
<path d="M31.3 558.1 L31.6 551.8 L31.9 545 L32.4 529.7 L32.8 521.4 L33.2 515.8 L33.6 512.4 L34 509.7 L34.5 507.7 L34.9 506.6 L35.4 505.9 L35.9 505.2 L36.3 504.7 L36.8 504.3 L37.3 504.1 L37.8 504 L38.3 504 L38.8 504 L39.3 504 L39.8 504 L40.3 504 L40.8 504 L41.3 504 L41.8 503.9 L42.3 503.9 L42.8 503.9 L43.3 503.9 L43.8 503.9 L44.3 503.9 L44.8 503.9 L45.3 503.9 L45.8 503.9 L46.3 503.9 L46.8 503.9 L47.3 503.9 L47.8 503.9 L48.2 503.9 L48.7 503.9 L49.2 503.9 L49.7 503.9 L50.2 503.9 L50.7 503.9 L51.2 503.8 L51.7 503.8 L52.2 503.8 L52.7 503.8 L53.2 503.8 L53.7 503.8 L54.2 503.8 L54.7 503.8 L55.2 503.8 L55.7 503.8 L56.2 503.8 L56.7 503.8 L57.2 503.8 L57.7 503.8 L58.2 503.8 L58.7 503.8 L59.2 503.8 L59.7 503.8 L60.2 503.8 L60.7 503.8 L61.2 503.8 L61.7 503.8 L62.2 503.8 L62.7 503.8 L63.2 503.8 L63.7 503.8 L64.2 503.8 L64.7 503.8 L65.2 503.8 L65.7 503.8 L66.2 503.8 L66.7 503.7 L67.2 503.7 L67.7 503.7 L68.1 503.7 L68.6 503.7 L69.1 503.7 L69.6 503.7 L70.1 503.7 L70.6 503.7 L71.1 503.7 L71.6 503.7 L72.1 503.7 L72.6 503.7 L73.1 503.7 L73.6 503.7 L74.1 503.7 L74.6 503.7 L75.1 503.7 L75.6 503.7 L76.1 503.7 L76.6 503.7 L77.1 503.7 L77.6 503.7 L78.1 503.7 L78.6 503.7 L79.1 503.7 L79.6 503.7 L80.1 503.7 L80.6 503.7 L81.1 503.7 L81.6 503.7 L82.1 503.7 L82.6 503.7 L83.1 503.7 L83.6 503.7 L84.1 503.7 L84.6 503.7 L85.1 503.7 L85.6 503.7 L86.1 503.7 L86.6 503.7 L87.1 503.7 L87.6 503.7 L88 503.7 L88.5 503.7 L89 503.7 L89.5 503.7 L90 503.7 L90.5 503.7 L91 503.7 L91.5 503.7 L92 503.7 L92.5 503.7 L93 503.7 L93.5 503.7 L94 503.7 L94.5 503.7 L95 503.7 L95.5 503.7 L96 503.7 L96.5 503.7 L97 503.7 L97.5 503.7 L98 503.7 L98.5 503.7 L99 503.7 L99.5 503.7 L100 503.7 L100.5 503.7 L101 503.7 L101.5 503.7 L102 503.7 L102.5 503.7 L103 503.7 L103.5 503.7 L104 503.7 L104.5 503.7 L105 503.7 L105.5 503.7 L106 503.7 L106.5 503.7 L107 503.7 L107.5 503.7 L108 503.7 L108.5 503.7 L109 503.8 L109.5 503.8 L110 503.8 L110.5 503.8 L111 503.8 L111.5 503.8 L112 503.8 L112.5 503.8 L113 503.8 L113.5 503.8 L114 503.8 L114.5 503.8 L115 503.8 L115.5 503.8 L116 503.8 L116.5 503.8 L117 503.8 L117.5 503.8 L118 503.9 L118.5 503.9 L119 503.9 L119.5 503.9 L120 503.9 L120.5 503.9 L121 503.9 L121.5 503.9 L122 503.9 L122.5 503.9 L123 503.9 L123.5 503.9 L124 503.9 L124.5 503.9 L125 503.9 L125.5 503.9 L126 504 L126.5 504 L127 504 L127.5 504 L128 504 L128.5 504 L129 504 L129.5 504 L130 504 L130.5 504 L131 504 L131.5 504 L132 504 L132.5 504 L133 504 L133.5 504 L134 504 L134.5 504 L135 504.1 L135.5 504.1 L136 504.1 L136.5 504.1 L137 504.1 L137.5 504.1 L138 504.1 L138.5 504.1 L139 504.1 L139.4 504.1 L139.9 504.1 L140.4 504.1 L140.9 504.1 L141.4 504.1 L141.9 504.1 L142.4 504.1 L142.9 504.1 L143.4 504.1 L143.9 504.1 L144.4 504.1 L144.9 504.2 L145.4 504.2 L145.9 504.2 L146.4 504.2 L146.9 504.2 L147.4 504.2 L147.9 504.2 L148.4 504.2 L148.9 504.2 L149.4 504.2 L149.9 504.2 L150.4 504.2 L150.9 504.2 L151.4 504.2 L151.9 504.2 L152.4 504.2 L152.9 504.2 L153.4 504.3 L153.9 504.3 L154.4 504.3 L154.9 504.3 L155.4 504.3 L155.9 504.3 L156.4 504.3 L156.9 504.3 L157.3 504.3 L157.8 504.3 L158.3 504.3 L158.8 504.3 L159.3 504.3 L159.8 504.4 L160.3 504.4 L160.8 504.4 L161.3 504.4 L161.8 504.4 L162.3 504.4 L162.8 504.4 L163.3 504.4 L163.8 504.4 L164.3 504.5 L164.8 504.5 L165.3 504.5 L165.8 504.5 L166.3 504.5 L166.8 504.5 L167.3 504.5 L167.8 504.5 L168.3 504.6 L168.8 504.6 L169.3 504.6 L169.8 504.6 L170.3 504.6 L170.8 504.7 L171.2 504.7 L171.7 504.7 L172.2 504.7 L172.7 504.8 L173.2 504.8 L173.7 504.8 L174.2 504.9 L174.7 504.9 L175.2 504.9 L175.7 505 L176.2 505 L176.7 505.1 L177.2 505.1 L177.7 505.1 L178.2 505.2 L178.7 505.2 L179.2 505.3 L179.7 505.3 L180.1 505.4 L180.6 505.4 L181.1 505.5 L181.6 505.5 L182.1 505.6 L182.6 505.6 L183.1 505.7 L183.6 505.8 L184.1 505.8 L184.6 505.9 L185.1 505.9 L185.6 506 L186.1 506.1 L186.6 506.1 L187.1 506.2 L187.6 506.3 L188.1 506.3 L188.6 506.4 L189 506.5 L189.5 506.6 L190 506.6 L190.5 506.7 L191 506.8 L191.5 506.9 L192 507 L192.5 507 L193 507.1 L193.5 507.2 L194 507.3 L194.5 507.4 L195 507.5 L195.5 507.7 L196 507.8 L196.5 508 L197 508.2 L197.5 508.4 L198 508.6 L198.5 508.8 L199 509 L199.4 509.2 L199.9 509.5 L200.3 509.8 L200.8 510.1 L201.2 510.5 L201.7 510.9 L202.1 511.4 L202.6 512.1 L203.1 513 L203.5 514.1 L203.9 515.5 L204.4 517.2 L204.9 521.2 L205.4 527.8 L205.9 535.4 L206.3 542.3 L206.7 550.2 L207.1 558.1" fill="none" stroke="#1a4a1a" stroke-width="1" stroke-linejoin="round" stroke-linecap="round" />
<path d="M37.9 558.1 L38.2 553.3 L38.5 548 L39 535.5 L39.4 531.9 L39.7 529.5 L40.1 527.4 L40.5 524.7 L41 522.1 L41.5 519.9 L41.9 518.1 L42.4 516.6 L42.8 515.3 L43.3 514.1 L43.7 513.1 L44.2 512.3 L44.7 511.6 L45.2 510.9 L45.7 510.3 L46.2 509.8 L46.7 509.4 L47.2 509 L47.7 508.6 L48.2 508.3 L48.7 508 L49.1 507.7 L49.6 507.4 L50.1 507.1 L50.5 506.9 L51 506.7 L51.5 506.5 L52 506.3 L52.5 506.2 L52.9 506.1 L53.4 506 L53.9 506 L54.4 505.9 L54.9 505.9 L55.4 505.8 L55.9 505.8 L56.4 505.8 L56.9 505.7 L57.4 505.7 L57.9 505.7 L58.3 505.7 L58.8 505.7 L59.3 505.6 L59.8 505.6 L60.3 505.6 L60.8 505.6 L61.3 505.6 L61.8 505.6 L62.3 505.5 L62.8 505.5 L63.3 505.5 L63.8 505.5 L64.3 505.5 L64.8 505.4 L65.3 505.4 L65.8 505.4 L66.3 505.4 L66.8 505.4 L67.3 505.3 L67.8 505.3 L68.3 505.3 L68.8 505.3 L69.2 505.3 L69.7 505.2 L70.2 505.2 L70.7 505.2 L71.2 505.2 L71.7 505.2 L72.2 505.1 L72.7 505.1 L73.2 505.1 L73.7 505.1 L74.2 505.1 L74.7 505 L75.2 505 L75.7 505 L76.2 505 L76.7 505 L77.2 505 L77.7 504.9 L78.2 504.9 L78.7 504.9 L79.2 504.9 L79.7 504.9 L80.2 504.8 L80.7 504.8 L81.1 504.8 L81.6 504.8 L82.1 504.8 L82.6 504.8 L83.1 504.8 L83.6 504.7 L84.1 504.7 L84.6 504.7 L85.1 504.7 L85.6 504.7 L86.1 504.7 L86.6 504.7 L87.1 504.6 L87.6 504.6 L88.1 504.6 L88.6 504.6 L89.1 504.6 L89.6 504.6 L90.1 504.6 L90.6 504.6 L91.1 504.6 L91.6 504.6 L92.1 504.5 L92.5 504.5 L93 504.5 L93.5 504.5 L94 504.5 L94.5 504.5 L95 504.5 L95.5 504.5 L96 504.5 L96.5 504.5 L97 504.5 L97.5 504.5 L98 504.5 L98.5 504.5 L99 504.5 L99.5 504.5 L100 504.5 L100.5 504.5 L101 504.5 L101.5 504.5 L102 504.5 L102.5 504.5 L103 504.5 L103.5 504.5 L104 504.5 L104.5 504.5 L105 504.5 L105.5 504.5 L106 504.5 L106.5 504.5 L107 504.5 L107.5 504.5 L108 504.5 L108.5 504.5 L109 504.5 L109.5 504.5 L110 504.5 L110.5 504.5 L111 504.5 L111.5 504.5 L112 504.5 L112.5 504.5 L113 504.5 L113.5 504.5 L114 504.5 L114.5 504.5 L115 504.5 L115.5 504.5 L116 504.5 L116.5 504.5 L117 504.5 L117.5 504.5 L118 504.5 L118.5 504.5 L119 504.5 L119.5 504.5 L120 504.5 L120.5 504.5 L121 504.5 L121.5 504.5 L122 504.5 L122.5 504.5 L123 504.5 L123.5 504.5 L124 504.5 L124.5 504.5 L125 504.5 L125.5 504.5 L126 504.5 L126.5 504.5 L127 504.5 L127.5 504.5 L128 504.5 L128.5 504.5 L129 504.5 L129.5 504.5 L130 504.5 L130.5 504.5 L131 504.5 L131.5 504.5 L132 504.5 L132.4 504.5 L132.9 504.5 L133.4 504.5 L133.9 504.5 L134.4 504.6 L134.9 504.6 L135.4 504.6 L135.9 504.6 L136.4 504.6 L136.8 504.6 L137.3 504.6 L137.8 504.7 L138.3 504.7 L138.8 504.7 L139.3 504.7 L139.8 504.8 L140.3 504.8 L140.8 504.8 L141.3 504.8 L141.7 504.9 L142.2 504.9 L142.7 504.9 L143.2 505 L143.7 505 L144.2 505 L144.7 505.1 L145.2 505.1 L145.7 505.2 L146.1 505.2 L146.6 505.3 L147.1 505.3 L147.6 505.4 L148.1 505.4 L148.6 505.5 L149.1 505.5 L149.6 505.7 L150 505.8 L150.5 505.9 L151 506.1 L151.5 506.3 L152 506.6 L152.5 506.8 L153 507.1 L153.5 507.5 L153.9 507.8 L154.4 508.2 L154.9 508.6 L155.4 509.1 L155.8 509.7 L156.3 510.6 L156.8 511.9 L157.2 513.4 L157.7 515.2 L158.1 517.2 L158.6 520.5 L159 525.3 L159.4 530.7 L159.9 535.4 L160.4 539.5 L160.8 543.4 L161.3 547.1 L161.8 550.7 L162.2 554.4 L162.7 558.1" fill="none" stroke="#1a4a1a" stroke-width="1" stroke-linejoin="round" stroke-linecap="round" />
<path d="M38.3 558.1 L38.6 553.2 L39 548 L39.3 541.8 L39.6 536.5 L40 533.1 L40.4 530.7 L40.8 528.5 L41.2 525.9 L41.7 523.5 L42.1 521.3 L42.6 519.5 L43.1 518 L43.6 516.6 L44 515.4 L44.5 514.3 L45 513.5 L45.5 512.7 L46 512.1 L46.5 511.4 L47 510.9 L47.5 510.4 L48 510 L48.5 509.6 L49 509.3 L49.5 509 L50 508.7 L50.5 508.4 L51 508.2 L51.5 507.9 L52 507.7 L52.5 507.6 L53 507.4 L53.5 507.3 L54 507.2 L54.5 507.1 L55 507.1 L55.5 507 L56 507 L56.4 506.9 L56.9 506.9 L57.4 506.8 L57.9 506.8 L58.4 506.8 L58.9 506.7 L59.4 506.7 L59.9 506.7 L60.4 506.6 L60.9 506.6 L61.3 506.6 L61.8 506.6 L62.3 506.5 L62.8 506.5 L63.3 506.5 L63.8 506.5 L64.3 506.5 L64.8 506.4 L65.3 506.4 L65.8 506.4 L66.3 506.4 L66.8 506.3 L67.3 506.3 L67.8 506.3 L68.3 506.3 L68.8 506.3 L69.2 506.2 L69.7 506.2 L70.2 506.2 L70.7 506.2 L71.2 506.2 L71.7 506.1 L72.2 506.1 L72.7 506.1 L73.2 506.1 L73.7 506.1 L74.2 506 L74.7 506 L75.2 506 L75.7 506 L76.2 506 L76.7 505.9 L77.2 505.9 L77.7 505.9 L78.2 505.9 L78.7 505.9 L79.2 505.9 L79.7 505.8 L80.2 505.8 L80.7 505.8 L81.1 505.8 L81.6 505.8 L82.1 505.8 L82.6 505.7 L83.1 505.7 L83.6 505.7 L84.1 505.7 L84.6 505.7 L85.1 505.7 L85.6 505.7 L86.1 505.6 L86.6 505.6 L87.1 505.6 L87.6 505.6 L88.1 505.6 L88.6 505.6 L89.1 505.6 L89.6 505.6 L90.1 505.6 L90.6 505.6 L91.1 505.6 L91.6 505.5 L92.1 505.5 L92.5 505.5 L93 505.5 L93.5 505.5 L94 505.5 L94.5 505.5 L95 505.5 L95.5 505.5 L96 505.5 L96.5 505.5 L97 505.5 L97.5 505.5 L98 505.5 L98.5 505.5 L99 505.5 L99.5 505.5 L100 505.5 L100.5 505.5 L101 505.5 L101.5 505.5 L102 505.5 L102.5 505.5 L103 505.5 L103.5 505.5 L104 505.5 L104.5 505.5 L105 505.5 L105.5 505.5 L106 505.6 L106.5 505.6 L107 505.6 L107.5 505.6 L108 505.6 L108.5 505.6 L109 505.6 L109.5 505.6 L110 505.6 L110.5 505.6 L111 505.6 L111.5 505.7 L112 505.7 L112.5 505.7 L113 505.7 L113.5 505.7 L114 505.7 L114.5 505.7 L115 505.7 L115.5 505.8 L116 505.8 L116.5 505.8 L117 505.8 L117.5 505.8 L118 505.8 L118.5 505.8 L119 505.9 L119.5 505.9 L120 505.9 L120.5 505.9 L121 505.9 L121.5 505.9 L122 506 L122.5 506 L123 506 L123.5 506 L124 506 L124.5 506.1 L125 506.1 L125.5 506.1 L126 506.1 L126.5 506.1 L127 506.2 L127.5 506.2 L128 506.2 L128.5 506.2 L129 506.3 L129.5 506.3 L130 506.3 L130.5 506.3 L131 506.3 L131.5 506.4 L132 506.4 L132.4 506.4 L132.9 506.5 L133.4 506.5 L133.9 506.5 L134.4 506.6 L134.9 506.6 L135.4 506.7 L135.9 506.7 L136.3 506.8 L136.8 506.8 L137.3 506.9 L137.8 507 L138.3 507.1 L138.8 507.1 L139.3 507.2 L139.8 507.3 L140.3 507.4 L140.7 507.6 L141.2 507.7 L141.7 507.8 L142.2 508 L142.7 508.1 L143.2 508.4 L143.6 508.8 L144.1 509.5 L144.6 510.3 L145.1 511.3 L145.5 512.4 L146 513.6 L146.4 515.2 L146.8 517.4 L147.3 520.1 L147.7 523.2 L148.1 526.3 L148.6 530.3 L149.1 534.8 L149.5 539.7 L150 544.4 L150.5 548.9 L150.9 553.5 L151.4 558.1" fill="none" stroke="#1a4a1a" stroke-width="1" stroke-linejoin="round" stroke-linecap="round" />
<path d="M140.6 498.6 L144.8 498.6 L142.7 503.6 Z" fill="#000"/>
<line x1="142.7" y1="497.2" x2="142.7" y2="499" stroke="#000" stroke-width="0.8" />
<path d="M140.6 515.0 L144.8 515.0 L142.7 510.0 Z" fill="#000"/>
<line x1="142.7" y1="514.6" x2="142.7" y2="516.4" stroke="#000" stroke-width="0.8" />
<rect x="216.3" y="285.5" width="67.4" height="22.1" fill="#fff" stroke="#333" stroke-width="0.8"/>
<line x1="220.3" y1="289.5" x2="243.7" y2="289.5" stroke="#154515" stroke-width="1.2" />
<line x1="220.3" y1="296.5" x2="243.7" y2="296.5" stroke="#2222cc" stroke-width="1.2" />
<line x1="220.3" y1="304" x2="243.7" y2="304" stroke="#d06070" stroke-width="1.2" />
<text x="245" y="292" font-size="7.35" text-anchor="start" fill="#000" font-weight="normal" >lengthened</text>
<text x="245" y="299" font-size="7.35" text-anchor="start" fill="#000" font-weight="normal" >optimal</text>
<text x="245" y="306.4" font-size="7.35" text-anchor="start" fill="#000" font-weight="normal" >shortened</text>
<text x="248.2" y="328.6" font-size="10.4" text-anchor="start" fill="#000" font-weight="bold" >D</text>
<line x1="277.2" y1="342.4" x2="277.2" y2="416.9" stroke="#666" stroke-width="0.9" />
<line x1="274.6" y1="342.4" x2="277.2" y2="342.4" stroke="#666" stroke-width="0.9" />
<text x="272.8" y="345.06" font-size="7.4" text-anchor="end" fill="#000" font-weight="normal" >15</text>
<line x1="274.6" y1="353.04" x2="277.2" y2="353.04" stroke="#666" stroke-width="0.9" />
<text x="272.8" y="355.71" font-size="7.4" text-anchor="end" fill="#000" font-weight="normal" >10</text>
<line x1="274.6" y1="363.69" x2="277.2" y2="363.69" stroke="#666" stroke-width="0.9" />
<text x="272.8" y="366.35" font-size="7.4" text-anchor="end" fill="#000" font-weight="normal" >5</text>
<line x1="274.6" y1="374.33" x2="277.2" y2="374.33" stroke="#666" stroke-width="0.9" />
<text x="270.4" y="376.99" font-size="7.4" text-anchor="end" fill="#000" font-weight="normal" >0</text>
<line x1="274.6" y1="384.97" x2="277.2" y2="384.97" stroke="#666" stroke-width="0.9" />
<text x="272.8" y="387.64" font-size="7.4" text-anchor="end" fill="#000" font-weight="normal" >-5</text>
<line x1="274.6" y1="395.61" x2="277.2" y2="395.61" stroke="#666" stroke-width="0.9" />
<text x="272.8" y="398.28" font-size="7.4" text-anchor="end" fill="#000" font-weight="normal" >-10</text>
<line x1="274.6" y1="406.26" x2="277.2" y2="406.26" stroke="#666" stroke-width="0.9" />
<text x="272.8" y="408.92" font-size="7.4" text-anchor="end" fill="#000" font-weight="normal" >-15</text>
<line x1="274.6" y1="416.9" x2="277.2" y2="416.9" stroke="#666" stroke-width="0.9" />
<text x="272.8" y="419.56" font-size="7.4" text-anchor="end" fill="#000" font-weight="normal" >-20</text>
<line x1="277.2" y1="374.3" x2="470.1" y2="374.3" stroke="#222" stroke-width="0.9" />
<line x1="337.3" y1="336.5" x2="337.3" y2="524.2" stroke="#666" stroke-width="0.8" stroke-dasharray="2.2,1.1"/>
<line x1="409.3" y1="336.5" x2="409.3" y2="524.2" stroke="#666" stroke-width="0.8" stroke-dasharray="2.2,1.1"/>
<text x="308.9" y="341.3" font-size="7.35" text-anchor="middle" fill="#000" font-weight="normal" >Proximal</text>
<text x="374.8" y="341.3" font-size="7.35" text-anchor="middle" fill="#000" font-weight="normal" >Intermediate</text>
<text x="439.8" y="341.3" font-size="7.35" text-anchor="middle" fill="#000" font-weight="normal" >Distal</text>
<text x="257.2" y="380" font-size="7.45" text-anchor="middle" fill="#000" transform="rotate(-90 257.2 380)">Current threshold (I<tspan font-size="5.2" dy="1.7">S</tspan><tspan dy="-1.7">, nA)</tspan></text>
<rect x="293.8" y="357.9" width="4.5" height="16.4" fill="#ff0000"/>
<rect x="299.25" y="362.8" width="4.5" height="11.5" fill="#0000ff"/>
<rect x="304.7" y="367.91" width="4.5" height="6.39" fill="#003300"/>
<rect x="317.9" y="362.59" width="4.5" height="11.71" fill="#ff0000"/>
<rect x="323.35" y="365.57" width="4.5" height="8.73" fill="#0000ff"/>
<rect x="328.8" y="371.11" width="4.5" height="3.19" fill="#003300"/>
<rect x="341.9" y="357.9" width="4.5" height="16.4" fill="#ff0000"/>
<rect x="347.35" y="363.22" width="4.5" height="11.08" fill="#0000ff"/>
<rect x="352.8" y="368.98" width="4.5" height="5.32" fill="#003300"/>
<rect x="365.9" y="363.65" width="4.5" height="10.65" fill="#ff0000"/>
<rect x="371.35" y="372.38" width="4.5" height="1.92" fill="#0000ff"/>
<rect x="376.8" y="374.3" width="4.5" height="5.96" fill="#003300"/>
<rect x="390" y="342.78" width="4.5" height="31.52" fill="#ff0000"/>
<rect x="395.45" y="352.57" width="4.5" height="21.73" fill="#0000ff"/>
<rect x="400.9" y="361.73" width="4.5" height="12.57" fill="#003300"/>
<rect x="414" y="361.31" width="4.5" height="12.99" fill="#ff0000"/>
<rect x="419.45" y="368.76" width="4.5" height="5.54" fill="#0000ff"/>
<rect x="424.9" y="371.96" width="4.5" height="2.34" fill="#003300"/>
<rect x="438" y="374.3" width="4.5" height="31.31" fill="#ff0000"/>
<rect x="443.45" y="374.3" width="4.5" height="34.51" fill="#0000ff"/>
<rect x="448.9" y="374.3" width="4.5" height="37.49" fill="#003300"/>
<text font-size="5.7" text-anchor="middle" fill="#000" transform="translate(301.85 385.35) rotate(-31)"><tspan x="0" y="0">Recruit-</tspan><tspan x="0" y="6.4">ment</tspan></text>
<text font-size="5.7" text-anchor="middle" fill="#000" transform="translate(325 385.65) rotate(-31)"><tspan x="0" y="0">Derecruit-</tspan><tspan x="0" y="6.4">ment</tspan></text>
<text font-size="5.7" text-anchor="middle" fill="#000" transform="translate(350.1 384.85) rotate(-31)"><tspan x="0" y="0">Recruit-</tspan><tspan x="0" y="6.4">ment</tspan></text>
<text font-size="5.7" text-anchor="middle" fill="#000" transform="translate(373.8 389.9) rotate(-31)"><tspan x="0" y="0">Derecruit-</tspan><tspan x="0" y="6.4">ment</tspan></text>
<text font-size="5.7" text-anchor="middle" fill="#000" transform="translate(392.25 384.55) rotate(-31)"><tspan x="0" y="0">Firing</tspan><tspan x="2.5" y="7">acceleration</tspan></text>
<text font-size="5.7" text-anchor="middle" fill="#000" transform="translate(422.7 384.65) rotate(-31)"><tspan x="0" y="0">Recruit-</tspan><tspan x="0" y="6.4">ment</tspan></text>
<text font-size="5.7" text-anchor="middle" fill="#000" transform="translate(447 364.6) rotate(-31)"><tspan x="0" y="0">Derecruit-</tspan><tspan x="0" y="6.4">ment</tspan></text>
<line x1="277.2" y1="450.2" x2="277.2" y2="524.2" stroke="#666" stroke-width="0.9" />
<line x1="274.6" y1="450.2" x2="277.2" y2="450.2" stroke="#666" stroke-width="0.9" />
<text x="272.4" y="452.86" font-size="7.4" text-anchor="end" fill="#000" font-weight="normal" >25</text>
<line x1="274.6" y1="465" x2="277.2" y2="465" stroke="#666" stroke-width="0.9" />
<text x="272.4" y="467.66" font-size="7.4" text-anchor="end" fill="#000" font-weight="normal" >20</text>
<line x1="274.6" y1="479.8" x2="277.2" y2="479.8" stroke="#666" stroke-width="0.9" />
<text x="272.4" y="482.46" font-size="7.4" text-anchor="end" fill="#000" font-weight="normal" >15</text>
<line x1="274.6" y1="494.6" x2="277.2" y2="494.6" stroke="#666" stroke-width="0.9" />
<text x="272.4" y="497.26" font-size="7.4" text-anchor="end" fill="#000" font-weight="normal" >10</text>
<line x1="274.6" y1="509.4" x2="277.2" y2="509.4" stroke="#666" stroke-width="0.9" />
<text x="272.4" y="512.06" font-size="7.4" text-anchor="end" fill="#000" font-weight="normal" >5</text>
<line x1="274.6" y1="524.2" x2="277.2" y2="524.2" stroke="#666" stroke-width="0.9" />
<text x="271.4" y="526.86" font-size="7.4" text-anchor="end" fill="#000" font-weight="normal" >0</text>
<line x1="470.6" y1="450.2" x2="470.6" y2="524.2" stroke="#666" stroke-width="0.9" />
<line x1="470.6" y1="450.2" x2="472.8" y2="450.2" stroke="#666" stroke-width="0.9" />
<text x="473.8" y="452.86" font-size="7.4" text-anchor="start" fill="#000" font-weight="normal" >0.25</text>
<line x1="470.6" y1="465" x2="472.8" y2="465" stroke="#666" stroke-width="0.9" />
<text x="473.8" y="467.66" font-size="7.4" text-anchor="start" fill="#000" font-weight="normal" >0.2</text>
<line x1="470.6" y1="479.8" x2="472.8" y2="479.8" stroke="#666" stroke-width="0.9" />
<text x="473.8" y="482.46" font-size="7.4" text-anchor="start" fill="#000" font-weight="normal" >0.15</text>
<line x1="470.6" y1="494.6" x2="472.8" y2="494.6" stroke="#666" stroke-width="0.9" />
<text x="473.8" y="497.26" font-size="7.4" text-anchor="start" fill="#000" font-weight="normal" >0.1</text>
<line x1="470.6" y1="509.4" x2="472.8" y2="509.4" stroke="#666" stroke-width="0.9" />
<text x="473.8" y="512.06" font-size="7.4" text-anchor="start" fill="#000" font-weight="normal" >0.05</text>
<line x1="470.6" y1="524.2" x2="472.8" y2="524.2" stroke="#666" stroke-width="0.9" />
<text x="477.4" y="526.86" font-size="7.4" text-anchor="start" fill="#000" font-weight="normal" >0</text>
<line x1="277.2" y1="524.2" x2="470.6" y2="524.2" stroke="#222" stroke-width="0.9" />
<text x="258.4" y="489" font-size="7.45" text-anchor="middle" fill="#000" transform="rotate(-90 258.4 489)">Current (I<tspan font-size="5.2" dy="1.7">S</tspan><tspan dy="-1.7">, nA)</tspan></text>
<text x="493.8" y="487.5" font-size="7.35" text-anchor="middle" fill="#000" font-weight="normal" transform="rotate(-90 493.8 487.5)" >DFG</text>
<rect x="293.8" y="518.58" width="4.5" height="5.62" fill="#ff0000"/>
<rect x="299.25" y="521.09" width="4.5" height="3.11" fill="#0000ff"/>
<rect x="304.7" y="520.06" width="4.5" height="4.14" fill="#003300"/>
<rect x="317.9" y="514.14" width="4.5" height="10.06" fill="#ff0000"/>
<rect x="323.35" y="521.09" width="4.5" height="3.11" fill="#0000ff"/>
<rect x="328.8" y="522.13" width="4.5" height="2.07" fill="#003300"/>
<rect x="341.9" y="516.21" width="4.5" height="7.99" fill="#ff0000"/>
<rect x="347.35" y="512.21" width="4.5" height="11.99" fill="#0000ff"/>
<rect x="352.8" y="508.51" width="4.5" height="15.69" fill="#003300"/>
<rect x="365.9" y="506.44" width="4.5" height="17.76" fill="#ff0000"/>
<rect x="371.35" y="516.95" width="4.5" height="7.25" fill="#0000ff"/>
<rect x="376.8" y="520.06" width="4.5" height="4.14" fill="#003300"/>
<rect x="390" y="461.15" width="4.5" height="63.05" fill="#ff0000"/>
<rect x="395.45" y="495.78" width="4.5" height="28.42" fill="#0000ff"/>
<rect x="400.9" y="502.59" width="4.5" height="21.61" fill="#003300"/>
<rect x="414" y="462.04" width="4.5" height="62.16" fill="#ff0000"/>
<rect x="419.45" y="468.55" width="4.5" height="55.65" fill="#0000ff"/>
<rect x="424.9" y="468.85" width="4.5" height="55.35" fill="#003300"/>
<rect x="438" y="521.24" width="4.5" height="2.96" fill="#ff0000"/>
<rect x="443.45" y="522.42" width="4.5" height="1.78" fill="#0000ff"/>
<rect x="448.9" y="523.02" width="4.5" height="1.18" fill="#003300"/>
<text x="300.8" y="532.4" font-size="6.2" text-anchor="middle" fill="#000" font-weight="normal" >DCT</text>
<text x="324.9" y="532.4" font-size="6.2" text-anchor="middle" fill="#000" font-weight="normal" >DCI</text>
<text x="348.9" y="532.4" font-size="6.2" text-anchor="middle" fill="#000" font-weight="normal" >DCT</text>
<text x="372.9" y="532.4" font-size="6.2" text-anchor="middle" fill="#000" font-weight="normal" >DCI</text>
<text x="397" y="532.4" font-size="6.2" text-anchor="middle" fill="#000" font-weight="normal" >DFG</text>
<text x="421" y="532.4" font-size="6.2" text-anchor="middle" fill="#000" font-weight="normal" >DCT</text>
<text x="445" y="532.4" font-size="6.2" text-anchor="middle" fill="#000" font-weight="normal" >DCI</text>
</svg></body></html>
